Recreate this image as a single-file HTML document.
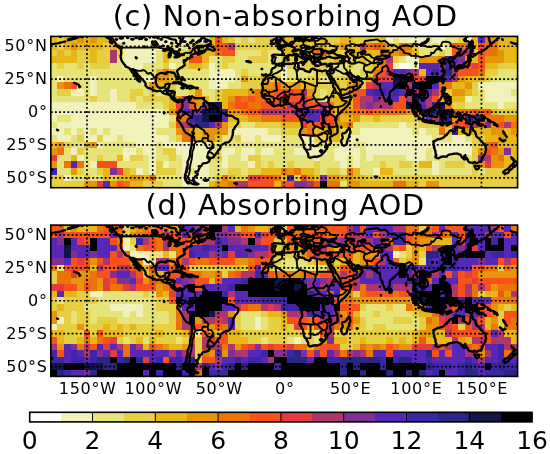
<!DOCTYPE html><html><head><meta charset="utf-8"><style>html,body{margin:0;padding:0;background:#fff;width:550px;height:454px;overflow:hidden}svg{display:block}</style></head><body><svg width="550" height="454" viewBox="0 0 550 454"><style>.lab{font-family:"DejaVu Sans","Liberation Sans",sans-serif;font-size:16px;fill:#000;letter-spacing:0.7px}.t{font-family:"DejaVu Sans","Liberation Sans",sans-serif;font-size:28.7px;fill:#000;letter-spacing:0.7px}.cb{font-family:"DejaVu Sans","Liberation Sans",sans-serif;font-size:25px;fill:#000}</style><text x="285.2" y="25.7" text-anchor="middle" class="t">(c) Non-absorbing AOD</text><clipPath id="c0"><rect x="0" y="0" width="355" height="115"/></clipPath><g transform="translate(50.8,36.4) scale(1.31493,1.31565)"><g clip-path="url(#c0)"><g shape-rendering="crispEdges"><rect x="0" y="0" width="5" height="5" fill="#e6b716"/><rect x="5" y="0" width="5" height="5" fill="#e6cf42"/><rect x="10" y="0" width="10" height="5" fill="#e6b716"/><rect x="20" y="0" width="5" height="5" fill="#e69509"/><rect x="25" y="0" width="5" height="5" fill="#e6b716"/><rect x="30" y="0" width="5" height="5" fill="#e69509"/><rect x="35" y="0" width="10" height="5" fill="#e6b716"/><rect x="45" y="0" width="5" height="5" fill="#e6cf42"/><rect x="50" y="0" width="55" height="5" fill="#f1f1bb"/><rect x="105" y="0" width="5" height="5" fill="#e6e379"/><rect x="110" y="0" width="10" height="5" fill="#f1f1bb"/><rect x="120" y="0" width="5" height="5" fill="#e6b716"/><rect x="125" y="0" width="5" height="5" fill="#f8511c"/><rect x="130" y="0" width="5" height="5" fill="#e6b716"/><rect x="135" y="0" width="5" height="5" fill="#e6cf42"/><rect x="140" y="0" width="5" height="5" fill="#e6e379"/><rect x="145" y="0" width="5" height="5" fill="#e6cf42"/><rect x="150" y="0" width="5" height="5" fill="#e6e379"/><rect x="155" y="0" width="15" height="5" fill="#e6cf42"/><rect x="170" y="0" width="15" height="5" fill="#e6b716"/><rect x="185" y="0" width="5" height="5" fill="#e6cf42"/><rect x="190" y="0" width="10" height="5" fill="#e6b716"/><rect x="200" y="0" width="5" height="5" fill="#e6cf42"/><rect x="205" y="0" width="5" height="5" fill="#e6b716"/><rect x="210" y="0" width="10" height="5" fill="#e6cf42"/><rect x="220" y="0" width="10" height="5" fill="#e6b716"/><rect x="230" y="0" width="20" height="5" fill="#e6cf42"/><rect x="250" y="0" width="5" height="5" fill="#e6b716"/><rect x="255" y="0" width="5" height="5" fill="#f1f1bb"/><rect x="260" y="0" width="5" height="5" fill="#e6e379"/><rect x="265" y="0" width="20" height="5" fill="#f1f1bb"/><rect x="285" y="0" width="5" height="5" fill="#e6e379"/><rect x="290" y="0" width="10" height="5" fill="#f1f1bb"/><rect x="300" y="0" width="10" height="5" fill="#e6e379"/><rect x="310" y="0" width="5" height="5" fill="#e6cf42"/><rect x="315" y="0" width="5" height="5" fill="#f1f1bb"/><rect x="320" y="0" width="5" height="5" fill="#e6b716"/><rect x="325" y="0" width="5" height="5" fill="#5728b7"/><rect x="330" y="0" width="5" height="5" fill="#eb7308"/><rect x="335" y="0" width="5" height="5" fill="#e69509"/><rect x="340" y="0" width="15" height="5" fill="#e6b716"/><rect x="0" y="5" width="5" height="5" fill="#e6b716"/><rect x="5" y="5" width="5" height="5" fill="#e6cf42"/><rect x="10" y="5" width="5" height="5" fill="#e6b716"/><rect x="15" y="5" width="5" height="5" fill="#e69509"/><rect x="20" y="5" width="20" height="5" fill="#e6b716"/><rect x="40" y="5" width="5" height="5" fill="#e6cf42"/><rect x="45" y="5" width="5" height="5" fill="#e6b716"/><rect x="50" y="5" width="5" height="5" fill="#e6cf42"/><rect x="55" y="5" width="35" height="5" fill="#f1f1bb"/><rect x="90" y="5" width="5" height="5" fill="#e6e379"/><rect x="95" y="5" width="5" height="5" fill="#f1f1bb"/><rect x="100" y="5" width="10" height="5" fill="#e6e379"/><rect x="110" y="5" width="10" height="5" fill="#e6cf42"/><rect x="120" y="5" width="5" height="5" fill="#e6b716"/><rect x="125" y="5" width="10" height="5" fill="#f8511c"/><rect x="135" y="5" width="5" height="5" fill="#ad366e"/><rect x="140" y="5" width="35" height="5" fill="#e6cf42"/><rect x="175" y="5" width="15" height="5" fill="#e6b716"/><rect x="190" y="5" width="10" height="5" fill="#e6cf42"/><rect x="200" y="5" width="10" height="5" fill="#e6b716"/><rect x="210" y="5" width="5" height="5" fill="#e6cf42"/><rect x="215" y="5" width="5" height="5" fill="#e6b716"/><rect x="220" y="5" width="5" height="5" fill="#e69509"/><rect x="225" y="5" width="10" height="5" fill="#e6b716"/><rect x="235" y="5" width="5" height="5" fill="#ad366e"/><rect x="240" y="5" width="5" height="5" fill="#eb7308"/><rect x="245" y="5" width="5" height="5" fill="#f8511c"/><rect x="250" y="5" width="5" height="5" fill="#eb7308"/><rect x="255" y="5" width="5" height="5" fill="#e6b716"/><rect x="260" y="5" width="5" height="5" fill="#e6cf42"/><rect x="265" y="5" width="10" height="5" fill="#eb7308"/><rect x="275" y="5" width="5" height="5" fill="#e6cf42"/><rect x="280" y="5" width="15" height="5" fill="#e6e379"/><rect x="295" y="5" width="5" height="5" fill="#f1f1bb"/><rect x="300" y="5" width="5" height="5" fill="#e6e379"/><rect x="305" y="5" width="5" height="5" fill="#f8511c"/><rect x="310" y="5" width="10" height="5" fill="#eb7308"/><rect x="320" y="5" width="5" height="5" fill="#e6b716"/><rect x="325" y="5" width="5" height="5" fill="#f8511c"/><rect x="330" y="5" width="10" height="5" fill="#eb7308"/><rect x="340" y="5" width="15" height="5" fill="#e6b716"/><rect x="0" y="10" width="5" height="5" fill="#e6cf42"/><rect x="5" y="10" width="5" height="5" fill="#e6b716"/><rect x="10" y="10" width="5" height="5" fill="#e6cf42"/><rect x="15" y="10" width="5" height="5" fill="#e6b716"/><rect x="20" y="10" width="10" height="5" fill="#e6cf42"/><rect x="30" y="10" width="5" height="5" fill="#e6b716"/><rect x="35" y="10" width="10" height="5" fill="#e6cf42"/><rect x="45" y="10" width="5" height="5" fill="#ad366e"/><rect x="50" y="10" width="5" height="5" fill="#e6cf42"/><rect x="55" y="10" width="25" height="5" fill="#f1f1bb"/><rect x="80" y="10" width="5" height="5" fill="#e6e379"/><rect x="85" y="10" width="5" height="5" fill="#e6b716"/><rect x="90" y="10" width="5" height="5" fill="#e6e379"/><rect x="95" y="10" width="10" height="5" fill="#e6cf42"/><rect x="105" y="10" width="5" height="5" fill="#e69509"/><rect x="110" y="10" width="5" height="5" fill="#eb7308"/><rect x="115" y="10" width="10" height="5" fill="#e6b716"/><rect x="125" y="10" width="5" height="5" fill="#eb7308"/><rect x="130" y="10" width="10" height="5" fill="#f8511c"/><rect x="140" y="10" width="20" height="5" fill="#e6e379"/><rect x="160" y="10" width="5" height="5" fill="#e6cf42"/><rect x="165" y="10" width="10" height="5" fill="#e6e379"/><rect x="175" y="10" width="10" height="5" fill="#e6b716"/><rect x="185" y="10" width="15" height="5" fill="#e6cf42"/><rect x="200" y="10" width="5" height="5" fill="#eb7308"/><rect x="205" y="10" width="5" height="5" fill="#f8511c"/><rect x="210" y="10" width="15" height="5" fill="#e6cf42"/><rect x="225" y="10" width="10" height="5" fill="#e6b716"/><rect x="235" y="10" width="5" height="5" fill="#e69509"/><rect x="240" y="10" width="10" height="5" fill="#e6b716"/><rect x="250" y="10" width="5" height="5" fill="#eb7308"/><rect x="255" y="10" width="10" height="5" fill="#e69509"/><rect x="265" y="10" width="5" height="5" fill="#eb7308"/><rect x="270" y="10" width="5" height="5" fill="#e69509"/><rect x="275" y="10" width="5" height="5" fill="#e6b716"/><rect x="280" y="10" width="15" height="5" fill="#e6e379"/><rect x="295" y="10" width="5" height="5" fill="#e6cf42"/><rect x="300" y="10" width="5" height="5" fill="#e6e379"/><rect x="305" y="10" width="5" height="5" fill="#f8511c"/><rect x="310" y="10" width="10" height="5" fill="#ad366e"/><rect x="320" y="10" width="5" height="5" fill="#e6cf42"/><rect x="325" y="10" width="5" height="5" fill="#f8511c"/><rect x="330" y="10" width="10" height="5" fill="#eb7308"/><rect x="340" y="10" width="5" height="5" fill="#e69509"/><rect x="345" y="10" width="10" height="5" fill="#e6b716"/><rect x="0" y="15" width="20" height="5" fill="#e6b716"/><rect x="20" y="15" width="10" height="5" fill="#e6cf42"/><rect x="30" y="15" width="5" height="5" fill="#e6b716"/><rect x="35" y="15" width="10" height="5" fill="#e6cf42"/><rect x="45" y="15" width="5" height="5" fill="#ad366e"/><rect x="50" y="15" width="5" height="5" fill="#e6e379"/><rect x="55" y="15" width="25" height="5" fill="#f1f1bb"/><rect x="80" y="15" width="5" height="5" fill="#e6e379"/><rect x="85" y="15" width="5" height="5" fill="#e6b716"/><rect x="90" y="15" width="10" height="5" fill="#e6e379"/><rect x="100" y="15" width="5" height="5" fill="#e6cf42"/><rect x="105" y="15" width="10" height="5" fill="#f8511c"/><rect x="115" y="15" width="5" height="5" fill="#e6b716"/><rect x="120" y="15" width="10" height="5" fill="#e6e379"/><rect x="130" y="15" width="10" height="5" fill="#e6cf42"/><rect x="140" y="15" width="10" height="5" fill="#e6e379"/><rect x="150" y="15" width="15" height="5" fill="#e6cf42"/><rect x="165" y="15" width="10" height="5" fill="#e6e379"/><rect x="175" y="15" width="15" height="5" fill="#e6cf42"/><rect x="190" y="15" width="5" height="5" fill="#e6e379"/><rect x="195" y="15" width="20" height="5" fill="#e6cf42"/><rect x="215" y="15" width="5" height="5" fill="#e6b716"/><rect x="220" y="15" width="15" height="5" fill="#e6cf42"/><rect x="235" y="15" width="5" height="5" fill="#e6b716"/><rect x="240" y="15" width="10" height="5" fill="#e6cf42"/><rect x="250" y="15" width="5" height="5" fill="#eb7308"/><rect x="255" y="15" width="5" height="5" fill="#ad366e"/><rect x="260" y="15" width="5" height="5" fill="#e6cf42"/><rect x="265" y="15" width="5" height="5" fill="#e6e379"/><rect x="270" y="15" width="10" height="5" fill="#f1f1bb"/><rect x="280" y="15" width="15" height="5" fill="#e69509"/><rect x="295" y="15" width="5" height="5" fill="#eb7308"/><rect x="300" y="15" width="5" height="5" fill="#3d26a6"/><rect x="305" y="15" width="5" height="5" fill="#5728b7"/><rect x="310" y="15" width="5" height="5" fill="#802f95"/><rect x="315" y="15" width="5" height="5" fill="#e69509"/><rect x="320" y="15" width="5" height="5" fill="#e6b716"/><rect x="325" y="15" width="5" height="5" fill="#f8511c"/><rect x="330" y="15" width="15" height="5" fill="#e69509"/><rect x="345" y="15" width="10" height="5" fill="#e6b716"/><rect x="0" y="20" width="5" height="5" fill="#e6e379"/><rect x="5" y="20" width="5" height="5" fill="#e6cf42"/><rect x="10" y="20" width="10" height="5" fill="#e6e379"/><rect x="20" y="20" width="5" height="5" fill="#e6cf42"/><rect x="25" y="20" width="5" height="5" fill="#e6e379"/><rect x="30" y="20" width="15" height="5" fill="#e6cf42"/><rect x="45" y="20" width="10" height="5" fill="#e6e379"/><rect x="55" y="20" width="15" height="5" fill="#f1f1bb"/><rect x="70" y="20" width="15" height="5" fill="#e6e379"/><rect x="85" y="20" width="5" height="5" fill="#e6cf42"/><rect x="90" y="20" width="5" height="5" fill="#f1f1bb"/><rect x="95" y="20" width="5" height="5" fill="#e6e379"/><rect x="100" y="20" width="5" height="5" fill="#e6cf42"/><rect x="105" y="20" width="10" height="5" fill="#e6b716"/><rect x="115" y="20" width="5" height="5" fill="#e6cf42"/><rect x="120" y="20" width="5" height="5" fill="#f1f1bb"/><rect x="125" y="20" width="5" height="5" fill="#e6e379"/><rect x="130" y="20" width="5" height="5" fill="#e6cf42"/><rect x="135" y="20" width="40" height="5" fill="#e6e379"/><rect x="175" y="20" width="5" height="5" fill="#f1f1bb"/><rect x="180" y="20" width="5" height="5" fill="#e6cf42"/><rect x="185" y="20" width="5" height="5" fill="#e6e379"/><rect x="190" y="20" width="25" height="5" fill="#e6cf42"/><rect x="215" y="20" width="10" height="5" fill="#e6e379"/><rect x="225" y="20" width="5" height="5" fill="#e6cf42"/><rect x="230" y="20" width="10" height="5" fill="#e6e379"/><rect x="240" y="20" width="5" height="5" fill="#e6cf42"/><rect x="245" y="20" width="5" height="5" fill="#e6b716"/><rect x="250" y="20" width="5" height="5" fill="#eb7308"/><rect x="255" y="20" width="5" height="5" fill="#e43c3e"/><rect x="260" y="20" width="5" height="5" fill="#f1f1bb"/><rect x="265" y="20" width="10" height="5" fill="#ffffff"/><rect x="275" y="20" width="5" height="5" fill="#f1f1bb"/><rect x="280" y="20" width="15" height="5" fill="#5728b7"/><rect x="295" y="20" width="5" height="5" fill="#ad366e"/><rect x="300" y="20" width="5" height="5" fill="#3d26a6"/><rect x="305" y="20" width="5" height="5" fill="#802f95"/><rect x="310" y="20" width="5" height="5" fill="#ad366e"/><rect x="315" y="20" width="5" height="5" fill="#f8511c"/><rect x="320" y="20" width="5" height="5" fill="#e43c3e"/><rect x="325" y="20" width="5" height="5" fill="#f8511c"/><rect x="330" y="20" width="10" height="5" fill="#e6b716"/><rect x="340" y="20" width="15" height="5" fill="#e6cf42"/><rect x="0" y="25" width="80" height="5" fill="#e6e379"/><rect x="80" y="25" width="5" height="5" fill="#e6b716"/><rect x="85" y="25" width="5" height="5" fill="#eb7308"/><rect x="90" y="25" width="5" height="5" fill="#e6b716"/><rect x="95" y="25" width="25" height="5" fill="#e6e379"/><rect x="120" y="25" width="20" height="5" fill="#f1f1bb"/><rect x="140" y="25" width="5" height="5" fill="#e6e379"/><rect x="145" y="25" width="5" height="5" fill="#e6cf42"/><rect x="150" y="25" width="25" height="5" fill="#e6e379"/><rect x="175" y="25" width="5" height="5" fill="#f1f1bb"/><rect x="180" y="25" width="20" height="5" fill="#e6e379"/><rect x="200" y="25" width="15" height="5" fill="#e6cf42"/><rect x="215" y="25" width="20" height="5" fill="#e6e379"/><rect x="235" y="25" width="10" height="5" fill="#e6cf42"/><rect x="245" y="25" width="5" height="5" fill="#eb7308"/><rect x="250" y="25" width="5" height="5" fill="#f8511c"/><rect x="255" y="25" width="5" height="5" fill="#ad366e"/><rect x="260" y="25" width="10" height="5" fill="#5728b7"/><rect x="270" y="25" width="5" height="5" fill="#802f95"/><rect x="275" y="25" width="5" height="5" fill="#ad366e"/><rect x="280" y="25" width="5" height="5" fill="#e6b716"/><rect x="285" y="25" width="5" height="5" fill="#5728b7"/><rect x="290" y="25" width="5" height="5" fill="#3d26a6"/><rect x="295" y="25" width="5" height="5" fill="#5728b7"/><rect x="300" y="25" width="5" height="5" fill="#292684"/><rect x="305" y="25" width="5" height="5" fill="#ad366e"/><rect x="310" y="25" width="15" height="5" fill="#f8511c"/><rect x="325" y="25" width="5" height="5" fill="#eb7308"/><rect x="330" y="25" width="10" height="5" fill="#e6cf42"/><rect x="340" y="25" width="15" height="5" fill="#e6e379"/><rect x="0" y="30" width="5" height="5" fill="#e6e379"/><rect x="5" y="30" width="5" height="5" fill="#f1f1bb"/><rect x="10" y="30" width="20" height="5" fill="#e6e379"/><rect x="30" y="30" width="5" height="5" fill="#f1f1bb"/><rect x="35" y="30" width="35" height="5" fill="#e6e379"/><rect x="70" y="30" width="10" height="5" fill="#f1f1bb"/><rect x="80" y="30" width="10" height="5" fill="#e69509"/><rect x="90" y="30" width="5" height="5" fill="#e6b716"/><rect x="95" y="30" width="5" height="5" fill="#e6cf42"/><rect x="100" y="30" width="20" height="5" fill="#e6e379"/><rect x="120" y="30" width="20" height="5" fill="#f1f1bb"/><rect x="140" y="30" width="5" height="5" fill="#e6e379"/><rect x="145" y="30" width="5" height="5" fill="#e69509"/><rect x="150" y="30" width="10" height="5" fill="#e6cf42"/><rect x="160" y="30" width="5" height="5" fill="#e6b716"/><rect x="165" y="30" width="10" height="5" fill="#e6cf42"/><rect x="175" y="30" width="5" height="5" fill="#f1f1bb"/><rect x="180" y="30" width="15" height="5" fill="#e6e379"/><rect x="195" y="30" width="10" height="5" fill="#e6cf42"/><rect x="205" y="30" width="10" height="5" fill="#e6e379"/><rect x="215" y="30" width="10" height="5" fill="#e6cf42"/><rect x="225" y="30" width="5" height="5" fill="#e6b716"/><rect x="230" y="30" width="5" height="5" fill="#e6cf42"/><rect x="235" y="30" width="5" height="5" fill="#e6e379"/><rect x="240" y="30" width="5" height="5" fill="#e6b716"/><rect x="245" y="30" width="5" height="5" fill="#f8511c"/><rect x="250" y="30" width="10" height="5" fill="#e43c3e"/><rect x="260" y="30" width="10" height="5" fill="#141444"/><rect x="270" y="30" width="5" height="5" fill="#000000"/><rect x="275" y="30" width="5" height="5" fill="#f8511c"/><rect x="280" y="30" width="5" height="5" fill="#e43c3e"/><rect x="285" y="30" width="10" height="5" fill="#000000"/><rect x="295" y="30" width="5" height="5" fill="#141444"/><rect x="300" y="30" width="5" height="5" fill="#5728b7"/><rect x="305" y="30" width="5" height="5" fill="#ad366e"/><rect x="310" y="30" width="5" height="5" fill="#e69509"/><rect x="315" y="30" width="15" height="5" fill="#e6b716"/><rect x="330" y="30" width="5" height="5" fill="#e6cf42"/><rect x="335" y="30" width="20" height="5" fill="#e6e379"/><rect x="0" y="35" width="5" height="5" fill="#e6e379"/><rect x="5" y="35" width="5" height="5" fill="#e69509"/><rect x="10" y="35" width="5" height="5" fill="#eb7308"/><rect x="15" y="35" width="5" height="5" fill="#f8511c"/><rect x="20" y="35" width="10" height="5" fill="#e6e379"/><rect x="30" y="35" width="5" height="5" fill="#f1f1bb"/><rect x="35" y="35" width="40" height="5" fill="#e6e379"/><rect x="75" y="35" width="5" height="5" fill="#e69509"/><rect x="80" y="35" width="10" height="5" fill="#e6b716"/><rect x="90" y="35" width="5" height="5" fill="#e6cf42"/><rect x="95" y="35" width="25" height="5" fill="#e6e379"/><rect x="120" y="35" width="15" height="5" fill="#f1f1bb"/><rect x="135" y="35" width="10" height="5" fill="#e6e379"/><rect x="145" y="35" width="15" height="5" fill="#e6cf42"/><rect x="160" y="35" width="10" height="5" fill="#e69509"/><rect x="170" y="35" width="5" height="5" fill="#eb7308"/><rect x="175" y="35" width="5" height="5" fill="#e69509"/><rect x="180" y="35" width="5" height="5" fill="#e6b716"/><rect x="185" y="35" width="5" height="5" fill="#e69509"/><rect x="190" y="35" width="10" height="5" fill="#e6b716"/><rect x="200" y="35" width="15" height="5" fill="#e6cf42"/><rect x="215" y="35" width="5" height="5" fill="#e6b716"/><rect x="220" y="35" width="5" height="5" fill="#e6cf42"/><rect x="225" y="35" width="5" height="5" fill="#e69509"/><rect x="230" y="35" width="5" height="5" fill="#eb7308"/><rect x="235" y="35" width="5" height="5" fill="#e6cf42"/><rect x="240" y="35" width="5" height="5" fill="#e43c3e"/><rect x="245" y="35" width="5" height="5" fill="#ad366e"/><rect x="250" y="35" width="10" height="5" fill="#5728b7"/><rect x="260" y="35" width="5" height="5" fill="#141444"/><rect x="265" y="35" width="5" height="5" fill="#000000"/><rect x="270" y="35" width="5" height="5" fill="#ad366e"/><rect x="275" y="35" width="5" height="5" fill="#141444"/><rect x="280" y="35" width="10" height="5" fill="#000000"/><rect x="290" y="35" width="5" height="5" fill="#5728b7"/><rect x="295" y="35" width="10" height="5" fill="#eb7308"/><rect x="305" y="35" width="10" height="5" fill="#e6b716"/><rect x="315" y="35" width="5" height="5" fill="#e69509"/><rect x="320" y="35" width="5" height="5" fill="#e6cf42"/><rect x="325" y="35" width="30" height="5" fill="#f1f1bb"/><rect x="0" y="40" width="5" height="5" fill="#e6e379"/><rect x="5" y="40" width="10" height="5" fill="#e6cf42"/><rect x="15" y="40" width="10" height="5" fill="#f1f1bb"/><rect x="25" y="40" width="5" height="5" fill="#e6e379"/><rect x="30" y="40" width="5" height="5" fill="#f1f1bb"/><rect x="35" y="40" width="10" height="5" fill="#e6e379"/><rect x="45" y="40" width="5" height="5" fill="#f1f1bb"/><rect x="50" y="40" width="10" height="5" fill="#e6e379"/><rect x="60" y="40" width="10" height="5" fill="#e6cf42"/><rect x="70" y="40" width="5" height="5" fill="#e6e379"/><rect x="75" y="40" width="5" height="5" fill="#e6cf42"/><rect x="80" y="40" width="10" height="5" fill="#e6e379"/><rect x="90" y="40" width="5" height="5" fill="#e6b716"/><rect x="95" y="40" width="10" height="5" fill="#e6e379"/><rect x="105" y="40" width="5" height="5" fill="#e6cf42"/><rect x="110" y="40" width="5" height="5" fill="#e69509"/><rect x="115" y="40" width="10" height="5" fill="#e6e379"/><rect x="125" y="40" width="5" height="5" fill="#e6cf42"/><rect x="130" y="40" width="20" height="5" fill="#e6b716"/><rect x="150" y="40" width="5" height="5" fill="#e69509"/><rect x="155" y="40" width="15" height="5" fill="#eb7308"/><rect x="170" y="40" width="10" height="5" fill="#f8511c"/><rect x="180" y="40" width="5" height="5" fill="#e43c3e"/><rect x="185" y="40" width="5" height="5" fill="#f8511c"/><rect x="190" y="40" width="5" height="5" fill="#ad366e"/><rect x="195" y="40" width="5" height="5" fill="#e69509"/><rect x="200" y="40" width="5" height="5" fill="#e6cf42"/><rect x="205" y="40" width="5" height="5" fill="#e6e379"/><rect x="210" y="40" width="10" height="5" fill="#e6cf42"/><rect x="220" y="40" width="5" height="5" fill="#e6b716"/><rect x="225" y="40" width="5" height="5" fill="#e69509"/><rect x="230" y="40" width="10" height="5" fill="#f8511c"/><rect x="240" y="40" width="5" height="5" fill="#5728b7"/><rect x="245" y="40" width="10" height="5" fill="#3d26a6"/><rect x="255" y="40" width="5" height="5" fill="#5728b7"/><rect x="260" y="40" width="5" height="5" fill="#3d26a6"/><rect x="265" y="40" width="5" height="5" fill="#5728b7"/><rect x="270" y="40" width="5" height="5" fill="#000000"/><rect x="275" y="40" width="5" height="5" fill="#ad366e"/><rect x="280" y="40" width="5" height="5" fill="#000000"/><rect x="285" y="40" width="5" height="5" fill="#5728b7"/><rect x="290" y="40" width="5" height="5" fill="#ad366e"/><rect x="295" y="40" width="5" height="5" fill="#eb7308"/><rect x="300" y="40" width="5" height="5" fill="#e6cf42"/><rect x="305" y="40" width="10" height="5" fill="#e69509"/><rect x="315" y="40" width="5" height="5" fill="#e6b716"/><rect x="320" y="40" width="5" height="5" fill="#e6cf42"/><rect x="325" y="40" width="5" height="5" fill="#e6e379"/><rect x="330" y="40" width="20" height="5" fill="#f1f1bb"/><rect x="350" y="40" width="5" height="5" fill="#e6e379"/><rect x="0" y="45" width="30" height="5" fill="#e6e379"/><rect x="30" y="45" width="5" height="5" fill="#e6cf42"/><rect x="35" y="45" width="10" height="5" fill="#e6e379"/><rect x="45" y="45" width="5" height="5" fill="#f1f1bb"/><rect x="50" y="45" width="10" height="5" fill="#e6e379"/><rect x="60" y="45" width="5" height="5" fill="#e6cf42"/><rect x="65" y="45" width="5" height="5" fill="#e6e379"/><rect x="70" y="45" width="20" height="5" fill="#e6cf42"/><rect x="90" y="45" width="5" height="5" fill="#e6b716"/><rect x="95" y="45" width="5" height="5" fill="#e69509"/><rect x="100" y="45" width="5" height="5" fill="#ad366e"/><rect x="105" y="45" width="5" height="5" fill="#eb7308"/><rect x="110" y="45" width="5" height="5" fill="#e69509"/><rect x="115" y="45" width="5" height="5" fill="#e6b716"/><rect x="120" y="45" width="5" height="5" fill="#e6e379"/><rect x="125" y="45" width="5" height="5" fill="#e6cf42"/><rect x="130" y="45" width="5" height="5" fill="#e6b716"/><rect x="135" y="45" width="5" height="5" fill="#e69509"/><rect x="140" y="45" width="5" height="5" fill="#f8511c"/><rect x="145" y="45" width="5" height="5" fill="#eb7308"/><rect x="150" y="45" width="5" height="5" fill="#f8511c"/><rect x="155" y="45" width="15" height="5" fill="#eb7308"/><rect x="170" y="45" width="20" height="5" fill="#f8511c"/><rect x="190" y="45" width="5" height="5" fill="#e43c3e"/><rect x="195" y="45" width="5" height="5" fill="#eb7308"/><rect x="200" y="45" width="5" height="5" fill="#e6cf42"/><rect x="205" y="45" width="5" height="5" fill="#e6e379"/><rect x="210" y="45" width="20" height="5" fill="#e6b716"/><rect x="230" y="45" width="5" height="5" fill="#f8511c"/><rect x="235" y="45" width="10" height="5" fill="#ad366e"/><rect x="245" y="45" width="5" height="5" fill="#5728b7"/><rect x="250" y="45" width="5" height="5" fill="#ad366e"/><rect x="255" y="45" width="10" height="5" fill="#5728b7"/><rect x="265" y="45" width="5" height="5" fill="#f8511c"/><rect x="270" y="45" width="5" height="5" fill="#ad366e"/><rect x="275" y="45" width="5" height="5" fill="#141444"/><rect x="280" y="45" width="5" height="5" fill="#5728b7"/><rect x="285" y="45" width="5" height="5" fill="#ad366e"/><rect x="290" y="45" width="5" height="5" fill="#f8511c"/><rect x="295" y="45" width="5" height="5" fill="#e6b716"/><rect x="300" y="45" width="5" height="5" fill="#292684"/><rect x="305" y="45" width="10" height="5" fill="#e6b716"/><rect x="315" y="45" width="5" height="5" fill="#f1f1bb"/><rect x="320" y="45" width="10" height="5" fill="#e6e379"/><rect x="330" y="45" width="25" height="5" fill="#f1f1bb"/><rect x="0" y="50" width="65" height="5" fill="#f1f1bb"/><rect x="65" y="50" width="20" height="5" fill="#e6e379"/><rect x="85" y="50" width="5" height="5" fill="#e6cf42"/><rect x="90" y="50" width="5" height="5" fill="#e6b716"/><rect x="95" y="50" width="5" height="5" fill="#e43c3e"/><rect x="100" y="50" width="5" height="5" fill="#802f95"/><rect x="105" y="50" width="5" height="5" fill="#f8511c"/><rect x="110" y="50" width="5" height="5" fill="#e69509"/><rect x="115" y="50" width="5" height="5" fill="#802f95"/><rect x="120" y="50" width="10" height="5" fill="#141444"/><rect x="130" y="50" width="5" height="5" fill="#e6b716"/><rect x="135" y="50" width="5" height="5" fill="#eb7308"/><rect x="140" y="50" width="10" height="5" fill="#f8511c"/><rect x="150" y="50" width="10" height="5" fill="#eb7308"/><rect x="160" y="50" width="20" height="5" fill="#f8511c"/><rect x="180" y="50" width="5" height="5" fill="#ad366e"/><rect x="185" y="50" width="5" height="5" fill="#e43c3e"/><rect x="190" y="50" width="5" height="5" fill="#ad366e"/><rect x="195" y="50" width="10" height="5" fill="#f8511c"/><rect x="205" y="50" width="5" height="5" fill="#ad366e"/><rect x="210" y="50" width="5" height="5" fill="#eb7308"/><rect x="215" y="50" width="15" height="5" fill="#e6b716"/><rect x="230" y="50" width="5" height="5" fill="#f8511c"/><rect x="235" y="50" width="5" height="5" fill="#ad366e"/><rect x="240" y="50" width="5" height="5" fill="#802f95"/><rect x="245" y="50" width="15" height="5" fill="#ad366e"/><rect x="260" y="50" width="10" height="5" fill="#f8511c"/><rect x="270" y="50" width="5" height="5" fill="#141444"/><rect x="275" y="50" width="5" height="5" fill="#000000"/><rect x="280" y="50" width="5" height="5" fill="#5728b7"/><rect x="285" y="50" width="5" height="5" fill="#ad366e"/><rect x="290" y="50" width="5" height="5" fill="#292684"/><rect x="295" y="50" width="5" height="5" fill="#141444"/><rect x="300" y="50" width="5" height="5" fill="#eb7308"/><rect x="305" y="50" width="10" height="5" fill="#e6cf42"/><rect x="315" y="50" width="25" height="5" fill="#e6e379"/><rect x="340" y="50" width="5" height="5" fill="#f1f1bb"/><rect x="345" y="50" width="10" height="5" fill="#e6e379"/><rect x="0" y="55" width="85" height="5" fill="#f1f1bb"/><rect x="85" y="55" width="5" height="5" fill="#e6e379"/><rect x="90" y="55" width="5" height="5" fill="#e69509"/><rect x="95" y="55" width="5" height="5" fill="#f8511c"/><rect x="100" y="55" width="10" height="5" fill="#5728b7"/><rect x="110" y="55" width="5" height="5" fill="#802f95"/><rect x="115" y="55" width="15" height="5" fill="#141444"/><rect x="130" y="55" width="5" height="5" fill="#3d26a6"/><rect x="135" y="55" width="10" height="5" fill="#e69509"/><rect x="145" y="55" width="5" height="5" fill="#eb7308"/><rect x="150" y="55" width="10" height="5" fill="#f8511c"/><rect x="160" y="55" width="20" height="5" fill="#ad366e"/><rect x="180" y="55" width="5" height="5" fill="#e43c3e"/><rect x="185" y="55" width="5" height="5" fill="#802f95"/><rect x="190" y="55" width="5" height="5" fill="#5728b7"/><rect x="195" y="55" width="5" height="5" fill="#3d26a6"/><rect x="200" y="55" width="10" height="5" fill="#5728b7"/><rect x="210" y="55" width="5" height="5" fill="#f8511c"/><rect x="215" y="55" width="5" height="5" fill="#e6b716"/><rect x="220" y="55" width="10" height="5" fill="#e69509"/><rect x="230" y="55" width="10" height="5" fill="#eb7308"/><rect x="240" y="55" width="5" height="5" fill="#f8511c"/><rect x="245" y="55" width="25" height="5" fill="#eb7308"/><rect x="270" y="55" width="10" height="5" fill="#e69509"/><rect x="280" y="55" width="10" height="5" fill="#141444"/><rect x="290" y="55" width="15" height="5" fill="#292684"/><rect x="305" y="55" width="15" height="5" fill="#eb7308"/><rect x="320" y="55" width="5" height="5" fill="#f8511c"/><rect x="325" y="55" width="5" height="5" fill="#eb7308"/><rect x="330" y="55" width="5" height="5" fill="#f8511c"/><rect x="335" y="55" width="5" height="5" fill="#e6b716"/><rect x="340" y="55" width="15" height="5" fill="#e6cf42"/><rect x="0" y="60" width="5" height="5" fill="#f1f1bb"/><rect x="5" y="60" width="10" height="5" fill="#e6e379"/><rect x="15" y="60" width="75" height="5" fill="#f1f1bb"/><rect x="90" y="60" width="5" height="5" fill="#e6e379"/><rect x="95" y="60" width="10" height="5" fill="#eb7308"/><rect x="105" y="60" width="5" height="5" fill="#3d26a6"/><rect x="110" y="60" width="5" height="5" fill="#292684"/><rect x="115" y="60" width="5" height="5" fill="#141444"/><rect x="120" y="60" width="10" height="5" fill="#000000"/><rect x="130" y="60" width="5" height="5" fill="#5728b7"/><rect x="135" y="60" width="15" height="5" fill="#e6b716"/><rect x="150" y="60" width="10" height="5" fill="#e69509"/><rect x="160" y="60" width="15" height="5" fill="#eb7308"/><rect x="175" y="60" width="15" height="5" fill="#f8511c"/><rect x="190" y="60" width="5" height="5" fill="#ad366e"/><rect x="195" y="60" width="10" height="5" fill="#5728b7"/><rect x="205" y="60" width="5" height="5" fill="#e43c3e"/><rect x="210" y="60" width="5" height="5" fill="#f8511c"/><rect x="215" y="60" width="5" height="5" fill="#eb7308"/><rect x="220" y="60" width="10" height="5" fill="#e6b716"/><rect x="230" y="60" width="5" height="5" fill="#e69509"/><rect x="235" y="60" width="10" height="5" fill="#e6cf42"/><rect x="245" y="60" width="5" height="5" fill="#e6b716"/><rect x="250" y="60" width="30" height="5" fill="#e6cf42"/><rect x="280" y="60" width="5" height="5" fill="#e6b716"/><rect x="285" y="60" width="5" height="5" fill="#5728b7"/><rect x="290" y="60" width="5" height="5" fill="#ad366e"/><rect x="295" y="60" width="10" height="5" fill="#292684"/><rect x="305" y="60" width="5" height="5" fill="#e69509"/><rect x="310" y="60" width="5" height="5" fill="#f8511c"/><rect x="315" y="60" width="15" height="5" fill="#292684"/><rect x="330" y="60" width="15" height="5" fill="#eb7308"/><rect x="345" y="60" width="10" height="5" fill="#e69509"/><rect x="0" y="65" width="5" height="5" fill="#e6e379"/><rect x="5" y="65" width="85" height="5" fill="#f1f1bb"/><rect x="90" y="65" width="5" height="5" fill="#e6cf42"/><rect x="95" y="65" width="5" height="5" fill="#f8511c"/><rect x="100" y="65" width="5" height="5" fill="#ad366e"/><rect x="105" y="65" width="5" height="5" fill="#5728b7"/><rect x="110" y="65" width="10" height="5" fill="#292684"/><rect x="120" y="65" width="5" height="5" fill="#5728b7"/><rect x="125" y="65" width="5" height="5" fill="#ad366e"/><rect x="130" y="65" width="5" height="5" fill="#e69509"/><rect x="135" y="65" width="10" height="5" fill="#e6cf42"/><rect x="145" y="65" width="10" height="5" fill="#e6e379"/><rect x="155" y="65" width="20" height="5" fill="#e6cf42"/><rect x="175" y="65" width="15" height="5" fill="#e6b716"/><rect x="190" y="65" width="5" height="5" fill="#e43c3e"/><rect x="195" y="65" width="5" height="5" fill="#eb7308"/><rect x="200" y="65" width="10" height="5" fill="#f8511c"/><rect x="210" y="65" width="5" height="5" fill="#e43c3e"/><rect x="215" y="65" width="10" height="5" fill="#e69509"/><rect x="225" y="65" width="5" height="5" fill="#eb7308"/><rect x="230" y="65" width="35" height="5" fill="#e6e379"/><rect x="265" y="65" width="5" height="5" fill="#f1f1bb"/><rect x="270" y="65" width="10" height="5" fill="#e6e379"/><rect x="280" y="65" width="15" height="5" fill="#e6cf42"/><rect x="295" y="65" width="5" height="5" fill="#e69509"/><rect x="300" y="65" width="5" height="5" fill="#e6b716"/><rect x="305" y="65" width="10" height="5" fill="#f8511c"/><rect x="315" y="65" width="5" height="5" fill="#e43c3e"/><rect x="320" y="65" width="5" height="5" fill="#ad366e"/><rect x="325" y="65" width="5" height="5" fill="#eb7308"/><rect x="330" y="65" width="5" height="5" fill="#802f95"/><rect x="335" y="65" width="5" height="5" fill="#e69509"/><rect x="340" y="65" width="5" height="5" fill="#f8511c"/><rect x="345" y="65" width="5" height="5" fill="#ad366e"/><rect x="350" y="65" width="5" height="5" fill="#eb7308"/><rect x="0" y="70" width="10" height="5" fill="#f1f1bb"/><rect x="10" y="70" width="5" height="5" fill="#e6e379"/><rect x="15" y="70" width="5" height="5" fill="#f1f1bb"/><rect x="20" y="70" width="5" height="5" fill="#e6e379"/><rect x="25" y="70" width="5" height="5" fill="#f1f1bb"/><rect x="30" y="70" width="5" height="5" fill="#e6e379"/><rect x="35" y="70" width="5" height="5" fill="#f1f1bb"/><rect x="40" y="70" width="5" height="5" fill="#e6e379"/><rect x="45" y="70" width="35" height="5" fill="#f1f1bb"/><rect x="80" y="70" width="15" height="5" fill="#e6e379"/><rect x="95" y="70" width="5" height="5" fill="#e69509"/><rect x="100" y="70" width="5" height="5" fill="#eb7308"/><rect x="105" y="70" width="5" height="5" fill="#e69509"/><rect x="110" y="70" width="5" height="5" fill="#e6b716"/><rect x="115" y="70" width="20" height="5" fill="#e69509"/><rect x="135" y="70" width="5" height="5" fill="#e6e379"/><rect x="140" y="70" width="25" height="5" fill="#f1f1bb"/><rect x="165" y="70" width="10" height="5" fill="#e6e379"/><rect x="175" y="70" width="15" height="5" fill="#e6cf42"/><rect x="190" y="70" width="5" height="5" fill="#e69509"/><rect x="195" y="70" width="5" height="5" fill="#eb7308"/><rect x="200" y="70" width="10" height="5" fill="#e6b716"/><rect x="210" y="70" width="5" height="5" fill="#e69509"/><rect x="215" y="70" width="5" height="5" fill="#e6b716"/><rect x="220" y="70" width="5" height="5" fill="#e6cf42"/><rect x="225" y="70" width="10" height="5" fill="#e6e379"/><rect x="235" y="70" width="40" height="5" fill="#f1f1bb"/><rect x="275" y="70" width="5" height="5" fill="#e6e379"/><rect x="280" y="70" width="5" height="5" fill="#f1f1bb"/><rect x="285" y="70" width="10" height="5" fill="#e6e379"/><rect x="295" y="70" width="5" height="5" fill="#eb7308"/><rect x="300" y="70" width="5" height="5" fill="#e6cf42"/><rect x="305" y="70" width="5" height="5" fill="#292684"/><rect x="310" y="70" width="5" height="5" fill="#e6b716"/><rect x="315" y="70" width="5" height="5" fill="#e69509"/><rect x="320" y="70" width="15" height="5" fill="#e6b716"/><rect x="335" y="70" width="10" height="5" fill="#e69509"/><rect x="345" y="70" width="5" height="5" fill="#e6b716"/><rect x="350" y="70" width="5" height="5" fill="#e69509"/><rect x="0" y="75" width="5" height="5" fill="#e6e379"/><rect x="5" y="75" width="10" height="5" fill="#f1f1bb"/><rect x="15" y="75" width="5" height="5" fill="#e6e379"/><rect x="20" y="75" width="5" height="5" fill="#e6cf42"/><rect x="25" y="75" width="10" height="5" fill="#f1f1bb"/><rect x="35" y="75" width="5" height="5" fill="#e6cf42"/><rect x="40" y="75" width="10" height="5" fill="#f1f1bb"/><rect x="50" y="75" width="5" height="5" fill="#e6e379"/><rect x="55" y="75" width="35" height="5" fill="#f1f1bb"/><rect x="90" y="75" width="5" height="5" fill="#e6e379"/><rect x="95" y="75" width="5" height="5" fill="#e6cf42"/><rect x="100" y="75" width="10" height="5" fill="#eb7308"/><rect x="110" y="75" width="5" height="5" fill="#e6b716"/><rect x="115" y="75" width="10" height="5" fill="#e69509"/><rect x="125" y="75" width="5" height="5" fill="#e6b716"/><rect x="130" y="75" width="10" height="5" fill="#e6e379"/><rect x="140" y="75" width="5" height="5" fill="#e6cf42"/><rect x="145" y="75" width="10" height="5" fill="#f1f1bb"/><rect x="155" y="75" width="5" height="5" fill="#e6e379"/><rect x="160" y="75" width="15" height="5" fill="#f1f1bb"/><rect x="175" y="75" width="15" height="5" fill="#e6e379"/><rect x="190" y="75" width="10" height="5" fill="#f1f1bb"/><rect x="200" y="75" width="10" height="5" fill="#e6cf42"/><rect x="210" y="75" width="10" height="5" fill="#e6b716"/><rect x="220" y="75" width="5" height="5" fill="#e6e379"/><rect x="225" y="75" width="65" height="5" fill="#f1f1bb"/><rect x="290" y="75" width="15" height="5" fill="#e6e379"/><rect x="305" y="75" width="10" height="5" fill="#f1f1bb"/><rect x="315" y="75" width="5" height="5" fill="#e6e379"/><rect x="320" y="75" width="10" height="5" fill="#e6cf42"/><rect x="330" y="75" width="10" height="5" fill="#e6b716"/><rect x="340" y="75" width="5" height="5" fill="#e69509"/><rect x="345" y="75" width="10" height="5" fill="#e6b716"/><rect x="0" y="80" width="5" height="5" fill="#e6b716"/><rect x="5" y="80" width="5" height="5" fill="#e69509"/><rect x="10" y="80" width="5" height="5" fill="#e6cf42"/><rect x="15" y="80" width="10" height="5" fill="#e6e379"/><rect x="25" y="80" width="5" height="5" fill="#e6b716"/><rect x="30" y="80" width="5" height="5" fill="#e69509"/><rect x="35" y="80" width="5" height="5" fill="#f1f1bb"/><rect x="40" y="80" width="25" height="5" fill="#e6e379"/><rect x="65" y="80" width="15" height="5" fill="#f1f1bb"/><rect x="80" y="80" width="5" height="5" fill="#e6e379"/><rect x="85" y="80" width="35" height="5" fill="#f1f1bb"/><rect x="120" y="80" width="75" height="5" fill="#e6e379"/><rect x="195" y="80" width="5" height="5" fill="#f1f1bb"/><rect x="200" y="80" width="20" height="5" fill="#e6e379"/><rect x="220" y="80" width="10" height="5" fill="#f1f1bb"/><rect x="230" y="80" width="10" height="5" fill="#e6e379"/><rect x="240" y="80" width="80" height="5" fill="#f1f1bb"/><rect x="320" y="80" width="10" height="5" fill="#e6cf42"/><rect x="330" y="80" width="5" height="5" fill="#eb7308"/><rect x="335" y="80" width="5" height="5" fill="#f8511c"/><rect x="340" y="80" width="15" height="5" fill="#e6b716"/><rect x="0" y="85" width="5" height="5" fill="#e69509"/><rect x="5" y="85" width="5" height="5" fill="#eb7308"/><rect x="10" y="85" width="5" height="5" fill="#e6e379"/><rect x="15" y="85" width="5" height="5" fill="#f1f1bb"/><rect x="20" y="85" width="5" height="5" fill="#e6cf42"/><rect x="25" y="85" width="30" height="5" fill="#e6e379"/><rect x="55" y="85" width="10" height="5" fill="#f1f1bb"/><rect x="65" y="85" width="5" height="5" fill="#e6e379"/><rect x="70" y="85" width="10" height="5" fill="#f1f1bb"/><rect x="80" y="85" width="5" height="5" fill="#e6e379"/><rect x="85" y="85" width="10" height="5" fill="#e6cf42"/><rect x="95" y="85" width="25" height="5" fill="#f1f1bb"/><rect x="120" y="85" width="10" height="5" fill="#e6e379"/><rect x="130" y="85" width="10" height="5" fill="#f1f1bb"/><rect x="140" y="85" width="5" height="5" fill="#e6e379"/><rect x="145" y="85" width="10" height="5" fill="#f1f1bb"/><rect x="155" y="85" width="5" height="5" fill="#e6e379"/><rect x="160" y="85" width="10" height="5" fill="#f1f1bb"/><rect x="170" y="85" width="15" height="5" fill="#e6e379"/><rect x="185" y="85" width="25" height="5" fill="#f1f1bb"/><rect x="210" y="85" width="5" height="5" fill="#e6e379"/><rect x="215" y="85" width="20" height="5" fill="#f1f1bb"/><rect x="235" y="85" width="5" height="5" fill="#e6e379"/><rect x="240" y="85" width="45" height="5" fill="#f1f1bb"/><rect x="285" y="85" width="5" height="5" fill="#e6e379"/><rect x="290" y="85" width="30" height="5" fill="#f1f1bb"/><rect x="320" y="85" width="5" height="5" fill="#e6cf42"/><rect x="325" y="85" width="5" height="5" fill="#e69509"/><rect x="330" y="85" width="5" height="5" fill="#f8511c"/><rect x="335" y="85" width="5" height="5" fill="#eb7308"/><rect x="340" y="85" width="5" height="5" fill="#e69509"/><rect x="345" y="85" width="5" height="5" fill="#802f95"/><rect x="350" y="85" width="5" height="5" fill="#e6b716"/><rect x="0" y="90" width="5" height="5" fill="#e43c3e"/><rect x="5" y="90" width="10" height="5" fill="#e6e379"/><rect x="15" y="90" width="5" height="5" fill="#e6b716"/><rect x="20" y="90" width="5" height="5" fill="#f1f1bb"/><rect x="25" y="90" width="10" height="5" fill="#e6e379"/><rect x="35" y="90" width="5" height="5" fill="#e6cf42"/><rect x="40" y="90" width="10" height="5" fill="#e6e379"/><rect x="50" y="90" width="5" height="5" fill="#e6b716"/><rect x="55" y="90" width="5" height="5" fill="#f1f1bb"/><rect x="60" y="90" width="10" height="5" fill="#e6cf42"/><rect x="70" y="90" width="5" height="5" fill="#e6e379"/><rect x="75" y="90" width="5" height="5" fill="#f1f1bb"/><rect x="80" y="90" width="10" height="5" fill="#e6e379"/><rect x="90" y="90" width="5" height="5" fill="#e6cf42"/><rect x="95" y="90" width="5" height="5" fill="#e6e379"/><rect x="100" y="90" width="20" height="5" fill="#f1f1bb"/><rect x="120" y="90" width="5" height="5" fill="#e6e379"/><rect x="125" y="90" width="5" height="5" fill="#e6cf42"/><rect x="130" y="90" width="5" height="5" fill="#f1f1bb"/><rect x="135" y="90" width="10" height="5" fill="#e6e379"/><rect x="145" y="90" width="5" height="5" fill="#f1f1bb"/><rect x="150" y="90" width="10" height="5" fill="#e6cf42"/><rect x="160" y="90" width="40" height="5" fill="#e6e379"/><rect x="200" y="90" width="5" height="5" fill="#f1f1bb"/><rect x="205" y="90" width="10" height="5" fill="#e6e379"/><rect x="215" y="90" width="10" height="5" fill="#f1f1bb"/><rect x="225" y="90" width="5" height="5" fill="#e6e379"/><rect x="230" y="90" width="5" height="5" fill="#f1f1bb"/><rect x="235" y="90" width="5" height="5" fill="#e6e379"/><rect x="240" y="90" width="5" height="5" fill="#f1f1bb"/><rect x="245" y="90" width="25" height="5" fill="#e6e379"/><rect x="270" y="90" width="15" height="5" fill="#f1f1bb"/><rect x="285" y="90" width="35" height="5" fill="#e6e379"/><rect x="320" y="90" width="5" height="5" fill="#e6cf42"/><rect x="325" y="90" width="5" height="5" fill="#802f95"/><rect x="330" y="90" width="5" height="5" fill="#ad366e"/><rect x="335" y="90" width="5" height="5" fill="#e69509"/><rect x="340" y="90" width="5" height="5" fill="#eb7308"/><rect x="345" y="90" width="10" height="5" fill="#e6b716"/><rect x="0" y="95" width="5" height="5" fill="#e69509"/><rect x="5" y="95" width="5" height="5" fill="#e6e379"/><rect x="10" y="95" width="5" height="5" fill="#eb7308"/><rect x="15" y="95" width="5" height="5" fill="#5728b7"/><rect x="20" y="95" width="5" height="5" fill="#eb7308"/><rect x="25" y="95" width="5" height="5" fill="#e6e379"/><rect x="30" y="95" width="5" height="5" fill="#f1f1bb"/><rect x="35" y="95" width="15" height="5" fill="#f8511c"/><rect x="50" y="95" width="25" height="5" fill="#e6e379"/><rect x="75" y="95" width="5" height="5" fill="#f1f1bb"/><rect x="80" y="95" width="5" height="5" fill="#e6cf42"/><rect x="85" y="95" width="5" height="5" fill="#f1f1bb"/><rect x="90" y="95" width="10" height="5" fill="#e6e379"/><rect x="100" y="95" width="20" height="5" fill="#f1f1bb"/><rect x="120" y="95" width="10" height="5" fill="#e6e379"/><rect x="130" y="95" width="5" height="5" fill="#f1f1bb"/><rect x="135" y="95" width="15" height="5" fill="#e6e379"/><rect x="150" y="95" width="5" height="5" fill="#f1f1bb"/><rect x="155" y="95" width="5" height="5" fill="#e6cf42"/><rect x="160" y="95" width="5" height="5" fill="#e6e379"/><rect x="165" y="95" width="5" height="5" fill="#e6cf42"/><rect x="170" y="95" width="10" height="5" fill="#e6e379"/><rect x="180" y="95" width="5" height="5" fill="#e6cf42"/><rect x="185" y="95" width="15" height="5" fill="#e6e379"/><rect x="200" y="95" width="5" height="5" fill="#e6cf42"/><rect x="205" y="95" width="15" height="5" fill="#e6e379"/><rect x="220" y="95" width="5" height="5" fill="#f1f1bb"/><rect x="225" y="95" width="5" height="5" fill="#e6e379"/><rect x="230" y="95" width="5" height="5" fill="#f1f1bb"/><rect x="235" y="95" width="15" height="5" fill="#e6e379"/><rect x="250" y="95" width="5" height="5" fill="#e6cf42"/><rect x="255" y="95" width="10" height="5" fill="#e6e379"/><rect x="265" y="95" width="10" height="5" fill="#e6cf42"/><rect x="275" y="95" width="5" height="5" fill="#e6e379"/><rect x="280" y="95" width="10" height="5" fill="#e6b716"/><rect x="290" y="95" width="5" height="5" fill="#f1f1bb"/><rect x="295" y="95" width="5" height="5" fill="#e6e379"/><rect x="300" y="95" width="15" height="5" fill="#e6cf42"/><rect x="315" y="95" width="5" height="5" fill="#e6e379"/><rect x="320" y="95" width="5" height="5" fill="#e6cf42"/><rect x="325" y="95" width="5" height="5" fill="#e69509"/><rect x="330" y="95" width="5" height="5" fill="#e43c3e"/><rect x="335" y="95" width="10" height="5" fill="#e69509"/><rect x="345" y="95" width="5" height="5" fill="#e6b716"/><rect x="350" y="95" width="5" height="5" fill="#e6cf42"/><rect x="0" y="100" width="5" height="5" fill="#3d26a6"/><rect x="5" y="100" width="10" height="5" fill="#e6e379"/><rect x="15" y="100" width="5" height="5" fill="#e69509"/><rect x="20" y="100" width="5" height="5" fill="#e6cf42"/><rect x="25" y="100" width="10" height="5" fill="#e6e379"/><rect x="35" y="100" width="5" height="5" fill="#e6cf42"/><rect x="40" y="100" width="5" height="5" fill="#e6b716"/><rect x="45" y="100" width="5" height="5" fill="#802f95"/><rect x="50" y="100" width="5" height="5" fill="#e43c3e"/><rect x="55" y="100" width="5" height="5" fill="#e6b716"/><rect x="60" y="100" width="5" height="5" fill="#e6cf42"/><rect x="65" y="100" width="5" height="5" fill="#f1f1bb"/><rect x="70" y="100" width="5" height="5" fill="#e6e379"/><rect x="75" y="100" width="5" height="5" fill="#f1f1bb"/><rect x="80" y="100" width="15" height="5" fill="#e6cf42"/><rect x="95" y="100" width="5" height="5" fill="#e6e379"/><rect x="100" y="100" width="5" height="5" fill="#f1f1bb"/><rect x="105" y="100" width="5" height="5" fill="#e6e379"/><rect x="110" y="100" width="10" height="5" fill="#f1f1bb"/><rect x="120" y="100" width="15" height="5" fill="#e6e379"/><rect x="135" y="100" width="10" height="5" fill="#e6cf42"/><rect x="145" y="100" width="5" height="5" fill="#e6e379"/><rect x="150" y="100" width="10" height="5" fill="#e6cf42"/><rect x="160" y="100" width="15" height="5" fill="#e6b716"/><rect x="175" y="100" width="5" height="5" fill="#eb7308"/><rect x="180" y="100" width="5" height="5" fill="#e69509"/><rect x="185" y="100" width="5" height="5" fill="#eb7308"/><rect x="190" y="100" width="10" height="5" fill="#e6b716"/><rect x="200" y="100" width="5" height="5" fill="#e6cf42"/><rect x="205" y="100" width="5" height="5" fill="#e6e379"/><rect x="210" y="100" width="10" height="5" fill="#e6cf42"/><rect x="220" y="100" width="5" height="5" fill="#e6e379"/><rect x="225" y="100" width="5" height="5" fill="#eb7308"/><rect x="230" y="100" width="5" height="5" fill="#e6b716"/><rect x="235" y="100" width="10" height="5" fill="#e6e379"/><rect x="245" y="100" width="5" height="5" fill="#f1f1bb"/><rect x="250" y="100" width="10" height="5" fill="#e6b716"/><rect x="260" y="100" width="30" height="5" fill="#e6e379"/><rect x="290" y="100" width="5" height="5" fill="#f1f1bb"/><rect x="295" y="100" width="25" height="5" fill="#e6e379"/><rect x="320" y="100" width="5" height="5" fill="#e6cf42"/><rect x="325" y="100" width="5" height="5" fill="#e6e379"/><rect x="330" y="100" width="25" height="5" fill="#e6cf42"/><rect x="0" y="105" width="10" height="5" fill="#e6cf42"/><rect x="10" y="105" width="5" height="5" fill="#f1f1bb"/><rect x="15" y="105" width="10" height="5" fill="#e6e379"/><rect x="25" y="105" width="5" height="5" fill="#e6cf42"/><rect x="30" y="105" width="10" height="5" fill="#e6e379"/><rect x="40" y="105" width="5" height="5" fill="#e6b716"/><rect x="45" y="105" width="5" height="5" fill="#e6cf42"/><rect x="50" y="105" width="10" height="5" fill="#e6b716"/><rect x="60" y="105" width="10" height="5" fill="#e69509"/><rect x="70" y="105" width="5" height="5" fill="#e6b716"/><rect x="75" y="105" width="5" height="5" fill="#eb7308"/><rect x="80" y="105" width="20" height="5" fill="#e6e379"/><rect x="100" y="105" width="20" height="5" fill="#f1f1bb"/><rect x="120" y="105" width="5" height="5" fill="#e6e379"/><rect x="125" y="105" width="5" height="5" fill="#e6cf42"/><rect x="130" y="105" width="5" height="5" fill="#eb7308"/><rect x="135" y="105" width="5" height="5" fill="#e6b716"/><rect x="140" y="105" width="10" height="5" fill="#e6cf42"/><rect x="150" y="105" width="10" height="5" fill="#e43c3e"/><rect x="160" y="105" width="10" height="5" fill="#f8511c"/><rect x="170" y="105" width="5" height="5" fill="#eb7308"/><rect x="175" y="105" width="5" height="5" fill="#e6b716"/><rect x="180" y="105" width="5" height="5" fill="#3d26a6"/><rect x="185" y="105" width="5" height="5" fill="#e6cf42"/><rect x="190" y="105" width="5" height="5" fill="#e43c3e"/><rect x="195" y="105" width="5" height="5" fill="#e69509"/><rect x="200" y="105" width="5" height="5" fill="#e6b716"/><rect x="205" y="105" width="5" height="5" fill="#802f95"/><rect x="210" y="105" width="10" height="5" fill="#e69509"/><rect x="220" y="105" width="5" height="5" fill="#e6b716"/><rect x="225" y="105" width="5" height="5" fill="#e69509"/><rect x="230" y="105" width="10" height="5" fill="#e6b716"/><rect x="240" y="105" width="115" height="5" fill="#e6cf42"/><rect x="0" y="110" width="25" height="5" fill="#e6cf42"/><rect x="25" y="110" width="10" height="5" fill="#e69509"/><rect x="35" y="110" width="5" height="5" fill="#e43c3e"/><rect x="40" y="110" width="5" height="5" fill="#5728b7"/><rect x="45" y="110" width="5" height="5" fill="#e69509"/><rect x="50" y="110" width="5" height="5" fill="#f8511c"/><rect x="55" y="110" width="5" height="5" fill="#eb7308"/><rect x="60" y="110" width="10" height="5" fill="#e6b716"/><rect x="70" y="110" width="15" height="5" fill="#e6cf42"/><rect x="85" y="110" width="15" height="5" fill="#e6e379"/><rect x="100" y="110" width="20" height="5" fill="#f1f1bb"/><rect x="120" y="110" width="5" height="5" fill="#e6b716"/><rect x="125" y="110" width="10" height="5" fill="#e69509"/><rect x="135" y="110" width="5" height="5" fill="#eb7308"/><rect x="140" y="110" width="10" height="5" fill="#ad366e"/><rect x="150" y="110" width="20" height="5" fill="#f8511c"/><rect x="170" y="110" width="5" height="5" fill="#e6b716"/><rect x="175" y="110" width="10" height="5" fill="#f8511c"/><rect x="185" y="110" width="10" height="5" fill="#802f95"/><rect x="195" y="110" width="5" height="5" fill="#ad366e"/><rect x="200" y="110" width="5" height="5" fill="#f8511c"/><rect x="205" y="110" width="5" height="5" fill="#000000"/><rect x="210" y="110" width="10" height="5" fill="#eb7308"/><rect x="220" y="110" width="5" height="5" fill="#e6e379"/><rect x="225" y="110" width="10" height="5" fill="#e69509"/><rect x="235" y="110" width="25" height="5" fill="#e6b716"/><rect x="260" y="110" width="10" height="5" fill="#eb7308"/><rect x="270" y="110" width="10" height="5" fill="#e6b716"/><rect x="280" y="110" width="5" height="5" fill="#e6cf42"/><rect x="285" y="110" width="10" height="5" fill="#e69509"/><rect x="295" y="110" width="60" height="5" fill="#e6cf42"/></g><g fill="none" stroke="#000" stroke-linejoin="round" stroke-linecap="round" vector-effect="non-scaling-stroke"><path d="M54.2 8.5L82.3 8.5L82.3 8.1L82.9 8.8L85.0 9.1L87.5 9.4L87.9 9.5L89.1 9.2L92.7 10.6L93.0 11.0L93.5 11.1L94.0 11.4L95.1 12.2L95.4 13.9L95.0 14.9L94.4 15.4L95.1 15.8L96.5 15.3L98.3 15.0L98.5 14.2L98.8 13.9L101.0 13.5L102.0 12.7L102.8 12.5L106.0 12.5L106.7 12.1L107.3 11.2L108.3 10.1L109.3 10.2L109.7 10.5L109.7 11.8L110.5 12.5M36.5 -2.8L38.5 -2.5L40.0 -1.7L41.0 -2.1L42.0 -2.3L43.0 -1.5L44.0 -0.8L45.5 0.5L47.0 1.5L47.5 2.2L46.9 2.8M60.4 25.0L62.8 24.8L62.7 25.0L66.5 26.2L69.3 26.2L69.3 25.7L71.0 25.7L72.5 26.8L73.0 27.9L74.5 28.5L75.1 27.7L76.1 27.7L77.2 29.2L78.0 30.0L78.4 31.1L80.3 31.6M85.3 43.0L85.4 42.4L85.3 42.2L85.8 41.4L87.1 41.4L87.1 39.7L88.3 39.7L89.2 39.0M88.3 39.7L88.3 41.6L88.9 41.8M87.4 43.8L88.1 43.1L88.3 42.4L89.3 41.8M88.1 43.1L89.0 43.5L89.7 43.6L89.8 44.2M90.2 44.6L90.8 44.2L91.8 43.5L92.6 42.7L94.3 42.5M91.8 46.4L92.8 46.4L93.8 46.6M94.5 49.2L94.7 47.9M99.6 50.3L100.2 48.9M105.3 45.7L105.0 46.5L104.5 47.8L105.1 49.1L105.1 50.1L107.4 50.5L109.9 51.3L109.7 53.2L110.2 55.1L110.6 56.3M110.6 56.3L108.0 56.4L107.8 58.0L107.6 61.7M107.6 61.7L106.8 61.3L104.6 59.9L102.3 57.6M102.3 57.6L100.1 57.1L98.7 56.1M102.3 57.6L101.9 59.0L99.1 60.9L98.5 62.5L97.2 60.9M107.6 61.7L104.5 62.5L103.6 64.8L105.0 67.0L107.0 67.0L106.9 68.5L108.0 68.4M108.0 68.4L108.8 70.0L108.1 72.8L108.5 74.0L108.0 75.0L107.1 75.8M108.0 68.4L110.9 67.4L112.2 68.4L114.0 70.0L116.0 71.0L117.2 72.5L117.3 73.8L119.0 73.8L119.2 74.8L119.9 75.5L119.3 77.3M119.3 77.3L115.8 77.1L114.9 79.7M114.9 79.7L112.5 79.6L110.5 80.2M108.0 75.0L109.1 76.9L109.3 79.0L110.4 80.3M110.4 80.3L109.0 82.0L108.9 84.5L107.7 87.5L107.5 90.5L107.1 93.5L106.4 96.5L105.8 99.5L105.7 102.5L105.0 105.0L104.1 107.0L105.0 108.5L106.0 109.5L108.5 109.7M108.9 110.1L108.9 112.4M114.9 79.7L117.5 81.5L119.0 84.8L121.8 84.9L122.9 83.1M122.9 83.1L123.2 81.5L122.1 79.8L119.7 79.6L119.3 77.3M122.9 83.1L123.8 83.7L123.7 84.6L121.6 85.8L119.9 87.7M119.9 87.7L121.9 88.3L124.0 90.0L124.1 91.2M119.9 87.7L119.3 90.0L119.1 91.5M110.6 56.3L112.0 56.6L113.5 55.0L114.1 53.6L116.5 53.0L116.8 52.3M116.8 52.3L116.1 51.6L117.5 49.0M116.8 52.3L117.7 53.1L117.9 55.8L120.0 55.7L121.0 55.6M121.0 55.6L120.3 51.6M121.0 55.6L122.9 55.2M122.9 55.2L123.5 51.8M122.9 55.2L125.0 55.3L125.9 53.3M175.7 22.5L175.8 23.5L176.2 25.2L173.8 26.6L172.0 27.7L168.8 28.8L168.8 29.8M168.8 29.8L164.3 29.8M168.8 30.2L168.8 31.5L165.5 31.5L165.5 34.0L164.5 36.2L160.5 36.2M168.8 30.2L172.7 32.5M172.7 32.5L178.7 36.5L180.7 38.5L181.8 38.3M172.7 32.5L171.0 32.6L172.0 41.0L168.5 42.0L166.0 42.2M166.0 42.2L165.0 42.7L163.5 40.9L161.1 41.3M166.0 42.2L166.1 45.1M166.1 45.1L163.8 44.9L160.8 45.1M160.7 43.9L162.5 43.8L163.7 44.0L162.5 44.2L160.8 44.4M166.1 45.1L169.1 46.1L169.5 47.3L169.9 49.1M164.2 48.5L165.1 47.6L166.3 47.5L166.8 48.2L166.9 49.0L166.1 50.6M166.9 49.0L168.0 50.0L169.0 49.9L169.0 50.8L170.0 53.2M169.5 47.3L169.9 49.1L169.0 49.9M172.1 47.1L172.3 46.0L173.1 45.0L174.0 44.2L176.5 42.5L177.7 42.6M169.5 47.3L171.0 47.1L172.1 47.1M172.1 47.1L173.2 47.9L174.7 47.9M174.4 52.4L174.7 49.5L174.7 47.9M174.7 47.9L174.7 46.5L177.4 46.4L178.4 46.5M178.7 51.4L178.1 49.0L177.5 46.5M179.1 51.3L179.1 48.5L178.4 46.5M178.4 46.5L179.9 45.6L178.5 44.2L177.7 42.6M180.2 51.2L180.3 48.5L181.1 45.8M178.4 46.5L181.1 45.8M181.1 45.8L181.6 44.0L183.5 43.9L185.5 44.4L188.2 44.1L191.1 43.8M177.7 42.6L178.8 42.2L181.1 41.9L181.8 40.6L181.8 38.3M181.8 38.3L183.3 38.1L189.4 34.0M189.4 34.0L191.5 34.5L192.5 34.5M192.5 34.5L193.4 37.1L193.0 40.6L191.4 42.0L191.1 43.8M185.9 20.6L185.7 22.5L185.0 24.0L186.5 25.4L187.0 27.3M187.0 27.3L187.8 25.8L189.0 24.4M187.0 27.3L187.5 32.2L189.4 34.0M192.5 34.5L201.5 38.0M201.5 38.0L201.5 37.5L202.5 37.5L202.5 35.5M202.5 35.5L202.5 25.9M202.5 35.5L214.4 35.5M201.5 38.0L201.0 42.0L199.9 43.5L199.5 44.9L200.4 46.6M193.0 50.0L196.0 48.6L199.0 47.7L200.4 46.6M191.1 43.8L191.5 44.5L192.0 45.0L192.6 46.9L191.7 48.0L193.0 50.0M186.0 52.9L187.1 51.0L189.1 50.5L190.0 49.0L190.8 47.5L192.0 45.0M193.0 50.0L192.0 52.5L193.6 55.3M187.3 55.2L188.8 55.3L190.5 55.2L193.6 55.3M187.3 56.5L188.8 56.5L188.8 55.3M188.8 55.3L190.7 56.3L192.0 59.9L190.0 60.0L189.1 61.3M196.1 54.0L195.0 57.5L193.7 59.5L192.8 61.7L190.5 62.3L189.7 63.3M193.6 55.3L196.1 54.0L199.9 53.5L202.5 52.5L204.9 52.4M200.4 46.6L201.5 49.0L204.0 51.2L204.9 52.4M201.0 48.0L204.0 48.0L207.5 47.8L210.0 45.5L211.4 48.0M213.9 43.2L216.0 39.6M213.9 43.2L212.8 46.0L211.7 46.9L211.6 49.0L210.5 49.6L212.5 52.5M213.9 43.2L216.0 43.1L217.6 43.0L219.9 45.0M219.9 45.0L220.5 46.5L221.5 48.5L225.3 49.5L222.4 52.5L219.5 53.5L218.5 53.6M220.6 46.1L220.2 46.5M212.5 52.5L215.5 53.9L218.5 53.6M218.5 53.6L218.5 59.1M211.5 53.2L212.5 56.0L211.5 58.5M211.5 53.2L208.5 53.8L208.3 54.0M212.5 52.5L211.5 53.2M204.9 52.4L208.3 54.0M211.5 58.5L215.2 60.7L216.7 62.2M208.3 54.0L207.5 55.9L207.1 58.9M207.1 58.9L208.0 59.9L208.3 60.7L206.9 62.0M217.9 68.0L215.0 69.0L212.5 69.1M189.7 63.3L194.0 63.5L195.1 65.6L197.0 64.5L199.3 64.8L199.5 67.2L201.5 68.4M189.7 62.5L190.5 62.3M201.5 68.4L202.8 68.8L205.0 69.7L207.3 70.9L206.0 66.0L208.2 65.8M208.2 65.8L210.5 67.0L211.4 67.0M189.3 74.8L198.4 75.5L200.8 75.1M201.5 68.4L199.5 70.5L199.5 73.7L200.8 75.1M200.8 75.1L202.7 75.3L197.5 75.8L197.5 79.5L197.5 82.3M197.5 82.3L197.5 85.9L194.0 86.1M197.5 82.3L200.0 83.5L203.0 83.1L204.5 81.5L206.9 79.7M202.7 75.3L204.8 78.0L206.9 79.7M206.9 79.7L208.8 79.9M208.8 79.9L210.0 78.5L210.4 74.5L207.9 73.1M202.7 75.3L205.5 74.0L207.9 73.1M208.8 79.9L209.5 82.0L210.4 84.4M204.5 87.1L205.5 86.2L206.9 86.9L206.0 87.9L205.0 87.9L204.5 87.1M208.5 83.5L209.5 83.7L209.4 84.7L208.5 84.5L208.5 83.5M207.9 73.1L210.5 71.5L212.0 74.0L212.8 74.5L213.3 73.0L212.8 71.5L212.0 69.0L211.4 67.0M211.7 26.2L212.4 28.0M213.1 24.3L213.0 26.0L212.5 28.0M212.5 28.2L214.5 28.0L215.5 27.0L214.5 26.0L216.5 25.3M213.1 24.8L216.5 25.3M219.9 20.4L218.8 21.7L218.5 23.0L216.3 24.1L216.5 25.3M213.4 21.6L214.2 20.7L216.5 20.8L219.9 20.4M213.4 22.9L214.1 23.3L213.1 24.3M216.5 25.3L219.5 26.5L222.2 28.3L224.0 28.4M224.0 28.4L225.2 29.0L225.9 29.0M224.0 28.4L225.2 27.4L225.5 27.6M226.0 27.5L225.2 26.1L223.7 24.5L223.0 23.5L222.9 21.6L222.3 20.3M219.9 20.4L222.3 20.3M222.3 20.3L221.8 19.1L222.3 17.8M222.3 17.8L224.0 18.6L225.5 19.0L226.4 19.1M231.4 20.2L234.5 19.5L236.5 20.1L238.6 20.9M238.6 20.9L238.5 23.1L238.0 23.9L238.4 26.0L239.3 26.7M239.3 26.7L240.2 28.1L240.8 30.3L240.0 31.0L239.1 32.3M220.3 41.1L221.5 40.1L224.5 40.5L225.7 39.3L229.5 38.5M229.5 38.5L230.6 40.9M229.5 38.5L233.0 37.5L232.5 34.8M229.1 33.2L230.0 34.7L232.5 34.8M232.5 34.8L233.1 33.5L233.4 32.6L233.7 31.8M228.3 32.7L228.7 32.9M239.3 26.7L243.9 27.6L245.2 26.0L247.0 23.7L248.8 23.2L248.7 21.4L252.0 20.3M238.6 20.9L239.7 22.2L242.0 21.2L244.0 20.1L245.5 20.5L247.5 20.0L249.0 19.6L252.0 20.3M245.7 33.8L247.8 33.1L248.6 33.1L247.6 29.7L250.3 27.5L252.1 26.4L251.8 24.7L252.5 23.5L255.3 22.0M255.3 22.0L257.0 25.0L256.4 26.6L257.6 26.9L258.6 27.3M257.6 28.7L258.6 27.3L261.5 29.0L265.6 29.6M257.6 28.7L260.5 30.1L262.5 30.7L265.6 31.1L265.6 29.6M265.6 29.6L266.3 29.4L267.0 29.3L269.5 29.7L272.5 28.1L274.9 29.2M266.3 30.4L267.1 30.7L269.5 30.6L269.5 29.7M265.6 31.1L266.5 32.3L266.0 33.0L266.2 35.0M267.3 32.1L269.7 32.4L269.3 33.4L269.8 34.5L269.9 36.0M269.9 36.0L270.7 35.2L270.9 33.6L272.1 32.3L272.7 30.9L274.9 29.2M274.9 29.2L275.7 31.2L275.1 33.5L276.4 33.4L277.0 35.4L277.6 36.0M277.6 37.1L276.0 37.9L275.3 39.0L276.2 41.2L275.7 42.3L276.6 44.0L276.1 47.5M277.6 36.0L277.6 37.1M277.6 36.0L278.6 36.0L279.6 35.1L280.5 35.8M280.5 35.8L281.6 37.5L282.4 39.1L284.0 41.0L285.1 42.3L285.0 43.1M277.6 37.1L278.8 38.0L278.6 40.0L279.6 39.4L282.2 40.0L283.0 41.8L283.0 43.1M280.4 45.7L279.8 43.9L281.4 43.2L283.0 43.1L285.0 43.1L283.7 45.9L281.9 47.1M279.6 35.1L280.5 34.9L283.0 34.3L284.2 34.7L285.5 35.9M277.6 51.0L278.8 51.7L279.6 51.3M287.1 55.5L289.0 56.4L292.0 56.0L293.0 53.5L295.3 53.3M318.5 60.1L318.5 63.8L318.7 64.5L318.5 66.6M302.4 66.7L302.6 66.1M257.8 15.3L257.6 12.7L260.0 12.0L260.5 10.3L263.1 10.4L264.8 8.4M264.8 8.4L268.2 11.0L268.5 12.5L272.5 13.2L274.0 14.7L278.0 14.9L282.5 15.9L284.5 15.1L288.0 14.7L289.4 13.8L289.3 12.4L291.1 12.7L293.2 9.8L295.3 9.6L297.2 10.8L296.0 9.6L294.2 7.7M294.2 7.7L295.4 8.0L296.7 7.2L297.5 4.9L298.2 4.2L301.1 4.0L303.5 4.7L305.1 7.7L308.1 8.6L310.0 9.7L312.2 9.1L311.0 12.5L308.8 12.8L308.4 14.9M308.1 15.1L306.5 15.5L305.5 16.1L303.8 15.9L301.8 17.6M303.6 19.8L304.5 19.2L305.9 18.9M265.3 8.3L267.4 7.1L270.4 6.7L274.8 7.8L275.8 5.5L279.5 6.2L282.0 7.2L284.5 7.0L285.8 7.9L288.9 8.1L291.9 7.2L294.2 7.7M264.8 8.4L263.0 7.9L260.9 6.5L257.5 6.7L255.3 4.2L254.0 3.3L250.9 4.0L248.3 2.3L245.7 2.6L243.2 2.9L239.0 3.5L238.4 4.8L239.0 6.1L237.4 6.7L235.9 6.5L234.2 6.6L233.2 6.9L232.0 6.5L229.8 5.8L228.3 5.8L226.2 6.9L225.0 7.0L224.3 8.1L224.5 9.2L224.0 9.3L224.2 10.0L225.5 9.8L226.6 11.1M230.5 15.5L233.4 16.2L233.4 12.5L236.0 11.9L235.9 12.0M238.5 13.1L239.5 14.0L242.4 13.8L243.6 15.5L246.1 16.8L246.8 16.1L248.5 15.2L251.0 15.0L251.7 14.2L253.5 14.5L256.5 14.6L257.8 15.3M233.4 16.2L234.6 16.2L236.5 15.2L237.5 15.3L238.5 16.3L239.9 17.5L241.5 18.5L244.0 20.1M251.2 18.0L249.0 17.9L247.5 17.3L246.8 16.8L248.0 16.5L249.5 16.5L251.0 17.0L251.2 18.0L252.5 17.0L254.0 17.1L255.5 16.3L257.8 15.3M245.3 20.3L246.0 18.0L247.5 17.3M251.2 18.0L252.4 19.1L252.0 20.3M217.5 14.1L219.5 14.3L221.3 14.7L223.2 15.0L224.0 15.6L226.1 15.7M219.0 16.0L220.3 15.9L221.0 16.4L221.6 17.5L222.3 17.8M221.0 16.4L222.5 16.3L224.0 16.4L223.0 17.0L224.0 18.6M175.7 14.1L178.2 14.7L180.7 15.1M168.6 15.6L169.3 15.4L171.3 15.9L170.6 17.2L170.5 17.9L170.2 19.1L170.0 20.3M180.0 6.4L181.7 7.3L182.3 7.5L183.3 8.0L183.9 8.0L185.7 8.5L185.1 9.9L184.4 10.0L183.5 11.3L184.4 11.6L184.5 12.5L185.0 13.7M180.9 6.1L182.0 6.0L183.1 6.3L183.3 6.7M183.3 6.7L183.6 7.4L183.3 8.0M183.3 6.7L183.6 5.7L184.6 5.3L184.7 4.2M186.2 2.6L187.4 2.7M191.7 3.6L192.1 4.9L192.1 5.7L192.5 6.4M192.5 6.4L191.0 6.8L189.8 7.3L190.0 8.0L191.3 8.7M191.3 8.7L190.5 10.0L188.5 10.0L187.1 10.0M187.1 10.0L185.1 9.9M187.1 10.0L187.9 10.6L186.8 11.0L185.9 11.2L184.5 11.6M187.9 10.6L189.8 10.4L191.2 11.0M191.2 11.0L193.5 10.8L193.6 10.0L194.5 9.5L194.4 8.9L192.5 8.5L191.3 8.7M191.2 11.0L191.2 11.9M192.5 6.4L193.8 6.8L194.5 7.2L196.3 8.0M194.4 8.9L196.3 8.0M196.3 8.0L197.5 8.3L200.1 8.4M200.1 8.4L201.6 6.9L201.1 6.0L201.0 4.8L201.0 3.6L200.2 3.2L197.1 3.1M200.2 3.2L200.3 2.6L198.8 2.3M194.5 9.5L196.3 9.7L197.8 9.2L199.6 9.1M199.6 9.1L200.4 9.5L199.2 11.0L197.8 11.4M197.8 11.4L196.3 11.6L195.0 11.5L194.1 11.0L193.5 10.8M191.2 11.9L192.7 12.0L193.2 11.3L194.1 11.0M200.4 9.5L202.4 9.8L204.1 9.3L205.7 10.5L205.7 12.0L207.1 12.3M204.1 9.3L205.5 9.2L206.7 10.0L207.5 11.0L205.7 12.0M200.2 13.3L202.5 13.8L205.3 13.5L206.1 13.8M197.8 11.4L198.9 12.3L200.2 13.3M200.2 13.3L199.9 14.5L200.5 15.1L200.4 16.2M197.7 17.9L198.1 16.4L200.4 16.2L202.0 15.9L203.6 15.8L203.9 16.2L203.6 16.7M203.6 15.8L204.6 15.4L205.5 15.5M193.2 12.3L194.5 12.3L196.5 12.6L197.1 13.5L196.8 14.0L196.0 15.0M193.2 12.3L193.6 13.3L195.1 14.5L196.0 15.0M196.8 14.0L197.8 14.7L198.5 15.3L198.1 16.4L196.9 15.6M196.5 12.6L197.8 11.4M198.5 15.3L199.9 15.2L200.5 15.1M215.7 10.4L217.5 9.5L217.5 7.9L215.5 7.5L213.0 7.1L211.5 5.5L209.3 5.4M209.3 5.4L208.0 6.0L204.5 5.9L201.6 5.9M209.3 5.4L209.1 4.7L210.0 3.7L208.3 1.9L205.7 1.4M201.0 3.6L203.2 3.2L204.3 2.2L205.7 1.4M198.5 1.4L201.5 1.2L204.0 1.8M205.7 1.4L205.3 0.2L204.9 -0.1M205.2 -0.3L205.5 -1.5" stroke-width="1.9" vector-effect="non-scaling-stroke"/><path d="M40.5 -1.5L41.5 -0.8L43.0 0.0L44.0 1.0L45.5 2.5L47.0 3.0L47.5 3.7L49.0 5.0L50.0 6.5L51.5 7.3L52.5 8.0L52.8 9.1L53.3 10.5L53.5 11.5L53.6 12.5L53.3 14.0L53.0 15.0L53.3 16.5L53.7 18.0L54.5 19.5L55.1 20.0L55.6 21.0L56.6 22.2L56.9 22.9L58.5 23.5L59.2 23.8L60.2 24.5L60.5 25.1L61.0 26.0L61.7 27.1L62.5 28.0L63.3 29.0L63.0 29.9L64.5 30.7L65.3 31.7L65.6 33.0L67.2 34.3L68.0 34.3L67.5 33.3L66.5 32.0L65.3 29.8L64.5 28.5L63.0 27.0L62.7 25.8L64.0 26.2L65.0 27.5L66.5 29.5L68.0 31.0L69.0 32.3L70.5 33.5L71.7 35.0L72.2 36.5L71.9 37.2L73.0 38.5L74.0 39.2L75.5 39.6L77.5 40.5L79.0 41.2L81.0 41.8L82.5 41.3L83.5 41.4L85.0 42.7L86.0 43.5L87.5 43.7L88.5 44.1L89.7 44.3L90.2 44.6L91.0 45.5L91.8 46.5L91.9 47.3L92.3 47.6L92.8 47.9L93.7 48.5L94.2 49.2L95.0 49.3L96.0 49.7L97.2 50.1L97.5 49.3L98.2 48.5L99.0 49.0L99.5 50.0L100.0 50.5L100.1 51.5L100.1 53.3L99.7 54.5L98.7 55.8L97.6 56.6L97.4 57.8L96.6 58.7L97.2 60.1L96.9 61.0L96.3 61.7L96.3 63.5L97.7 64.7L98.7 66.3L100.0 68.5L101.1 71.0L102.5 73.0L104.5 74.2L106.3 75.2L107.2 76.0L107.3 78.0L107.2 81.0L106.9 84.0L106.1 87.0L105.9 89.5L105.8 91.0L105.1 93.0L104.3 94.5L103.9 96.0L104.2 97.5L103.7 99.0L104.1 100.0L103.9 101.0L103.0 102.0L102.9 103.5L102.2 105.0L102.3 107.0L102.7 108.5L103.2 110.0L105.0 111.1L106.5 111.5L108.0 112.2L109.7 112.5L111.0 112.6L112.2 112.3L111.2 111.9L109.2 110.8L109.0 109.9L108.3 109.0L108.9 108.0L109.7 106.5L111.5 105.3L111.8 104.5L110.2 103.5L110.0 102.8L112.0 102.5L112.5 101.0L113.3 99.8L112.5 98.7L114.5 98.5L115.3 97.0L116.0 96.5L118.5 96.1L119.9 95.5L120.7 94.4L120.8 93.8L120.2 93.0L119.2 92.1L119.0 91.5L119.7 91.9L121.3 92.4L122.5 92.4L123.7 91.9L124.1 91.2L125.1 89.9L126.5 88.1L127.5 86.5L128.8 85.5L129.0 83.7L128.9 83.1L130.0 82.3L132.0 81.3L133.0 80.7L134.5 80.5L135.6 80.1L136.5 79.1L137.3 77.9L137.8 76.5L138.3 75.1L138.5 73.0L138.6 71.0L139.5 70.2L140.3 68.5L141.5 67.3L142.5 65.7L142.6 64.5L142.3 63.0L141.0 62.5L139.7 61.9L138.5 60.8L137.0 60.3L135.5 60.2L133.5 60.0L132.5 59.0L131.0 58.4L129.2 58.4L128.0 57.7L127.0 56.9L126.6 55.7L126.2 53.9L125.8 53.3L125.0 52.5L123.7 51.7L122.5 51.5L120.7 51.5L119.7 50.9L119.0 50.3L117.7 49.2L116.9 48.9L116.0 47.7L115.0 46.9L113.2 46.9L111.5 46.9L110.0 47.0L109.2 46.6L108.0 46.0L107.3 45.5L107.2 46.1L106.2 46.5L105.8 47.0L105.9 48.3L105.5 48.0L105.9 46.7L105.6 45.9L105.2 45.7L104.2 46.2L103.2 46.5L102.0 47.0L101.8 48.1L100.7 48.9L100.1 48.8L99.4 48.3L98.0 47.9L97.0 48.5L96.0 48.7L95.3 48.3L94.1 47.1L93.8 46.5L93.8 45.0L94.1 43.5L94.2 42.5L93.0 41.7L91.7 41.6L89.9 41.7L89.2 41.8L88.7 41.6L89.2 41.0L89.3 40.0L89.5 39.0L90.0 38.2L90.1 37.0L90.7 36.2L89.9 36.0L88.7 36.1L87.2 36.5L87.0 37.5L86.8 38.2L86.1 38.7L85.0 38.9L83.5 39.3L82.7 39.0L81.9 38.7L81.1 38.1L80.6 37.0L80.1 35.9L79.7 34.8L79.8 33.3L80.3 31.6L80.2 30.3L80.4 29.6L81.1 29.1L82.5 28.3L83.5 27.8L84.5 27.8L86.0 28.1L87.3 28.4L88.2 28.2L87.9 27.3L89.0 27.1L90.0 27.2L91.0 27.1L92.1 27.7L93.1 27.5L94.0 28.0L94.7 29.0L94.8 30.0L95.7 31.2L96.3 32.2L97.1 32.3L97.4 31.5L97.4 30.5L96.9 29.1L96.5 27.9L96.1 26.9L96.2 26.0L96.7 25.3L97.6 24.8L98.5 24.0L99.6 23.6L100.5 22.9L101.3 22.4L101.9 21.9L101.6 20.6L101.2 19.7L101.2 18.7L101.0 18.2L101.9 18.1L102.4 18.7L102.6 18.4L103.4 17.7L103.5 17.0L104.0 16.9L105.5 16.6L105.7 16.2L106.8 16.0L107.5 15.8L107.0 15.2L106.7 14.7L107.2 13.9L108.0 13.6L109.3 13.1L110.5 12.7L111.2 12.3L112.5 12.0L113.2 12.2L112.7 12.5L111.4 13.0L112.0 13.9L113.0 13.5L114.0 12.9L115.5 12.5L116.5 12.2L116.2 11.9L115.0 11.8L113.7 11.5L112.9 11.3L112.7 10.5L112.2 9.8L112.7 9.2L111.7 8.5L110.8 8.4L109.5 8.9L108.0 9.7L109.0 8.8L110.5 8.1L111.2 7.3L113.5 7.3L116.0 7.3L118.0 7.0L120.0 6.1L121.5 5.5L121.7 4.5L121.5 3.7L120.0 3.0L118.2 2.2L117.0 1.7L116.0 1.1L115.7 0.0L115.5 -1.0M27.5 -3.5L26.0 -2.0L25.0 -1.5L23.7 -0.8L22.0 0.0L20.5 0.8L19.0 1.5L17.5 1.9L16.0 2.3L14.7 2.6L13.0 3.0L13.0 2.5L14.5 1.9L16.5 1.3L19.0 0.2L20.0 -1.1M11.0 3.9L9.5 4.2L7.5 4.7L5.0 5.3L2.5 5.7L0.0 5.9L-2.4 6.0M350.0 4.5L351.5 5.1L353.5 5.6L355.5 5.7L357.4 5.9M118.2 9.9L119.5 9.9L121.5 9.9L122.5 10.6L124.0 10.9L124.8 10.2L124.5 9.4L123.8 8.9L123.5 8.2L122.0 7.7L121.7 7.0L121.5 6.2L122.0 5.9L120.5 6.5L119.7 7.6L119.0 8.6L118.2 9.4L118.2 9.9M82.7 -1.5L84.5 -0.5L85.0 0.5L87.0 0.3L89.0 1.0L90.5 1.7L92.5 2.3L94.5 2.4L95.2 3.0L95.3 4.5L96.0 5.2L97.0 6.2L98.2 5.9L98.7 5.0L98.5 3.5L99.5 2.5L100.5 1.8L100.9 1.0L100.5 0.0L100.0 -1.0M92.6 35.6L93.5 34.9L95.0 34.5L96.5 34.4L97.5 34.6L99.0 35.2L100.2 35.9L101.5 36.4L103.3 37.2L102.0 37.6L100.0 37.6L100.3 37.0L99.3 36.6L98.0 35.9L96.5 35.5L95.0 35.3L94.0 35.6L92.6 35.6M103.1 39.0L104.1 37.8L105.1 37.6L106.7 37.6L108.0 38.2L109.1 38.9L108.0 39.2L106.7 39.3L106.0 39.8L105.0 39.3L103.1 39.2L103.1 39.0M99.2 39.1L101.2 39.3L100.7 39.6L99.2 39.3L99.2 39.1M110.3 39.0L111.9 39.1L111.8 39.5L110.3 39.5L110.3 39.0M99.5 31.0L100.3 31.2L99.7 32.5L99.3 33.0L99.5 31.0M49.2 6.7L50.5 7.0L52.0 7.5L53.5 8.3L54.1 9.1L52.8 8.9L51.5 8.3L50.0 7.5L49.2 6.7M45.0 3.5L45.8 4.0L46.5 5.3L45.7 5.0L45.0 4.3L45.0 3.5M21.5 37.4L22.4 38.2L21.9 38.6L21.5 37.8L21.5 37.4M17.7 35.3L19.9 36.0L20.6 36.4L21.2 36.6M85.4 10.8L87.0 10.9L89.0 10.3L89.7 10.1L91.0 11.0L92.9 11.0L92.8 10.2L92.5 9.6L91.0 8.8L89.2 8.6L87.9 9.5L85.4 10.8M89.7 15.9L90.7 15.7L91.2 14.2L91.2 13.0L92.0 12.2L92.8 11.7L91.9 11.6L90.7 11.7L89.9 13.0L89.6 14.5L89.7 15.9M92.8 11.7L94.0 11.5L95.8 11.6L96.9 11.7L97.4 12.5L96.7 12.9L95.8 12.6L95.8 14.2L95.1 14.5L94.8 13.6L94.1 13.4L94.1 12.6L92.8 11.7M94.1 15.8L96.0 16.0L98.2 14.9L98.5 14.6L97.0 14.9L95.0 15.5L94.1 15.8M97.7 14.2L99.5 14.2L101.2 14.0L101.1 13.3L100.0 13.5L98.3 13.8L97.7 14.2M80.7 7.0L81.1 6.0L80.0 5.0L79.0 3.9L79.5 3.7L80.5 4.8L81.3 6.0L80.7 7.0M108.9 110.1L109.2 112.0L111.0 112.6L112.2 112.3L110.0 111.0L108.9 110.1M116.2 109.0L118.0 108.8L119.7 109.1L118.5 109.7L117.0 109.6L116.2 109.0M115.6 46.7L116.6 46.7L116.5 47.4L115.6 47.4L115.6 46.7M188.0 -0.2L187.5 0.4L187.0 0.5L186.1 0.4L185.6 0.9L185.7 2.0L186.1 2.5L186.3 3.1L186.1 3.6L184.6 3.9L183.5 4.1L182.4 4.5L182.0 5.2L181.2 5.9L180.7 6.1L180.0 6.4L179.1 6.6L179.0 7.3L177.7 7.8L176.4 8.1L176.2 7.8L175.6 7.8L175.9 8.8L174.9 9.0L174.0 8.7L172.8 9.0L173.2 9.7L174.9 10.1L175.3 10.4L176.2 11.3L176.3 12.0L176.2 13.2L176.0 14.0L175.0 14.1L173.7 14.0L171.8 13.9L170.0 13.8L169.2 14.0L168.2 14.5L168.6 15.5L168.8 16.5L168.5 17.5L168.1 18.3L168.2 18.8L168.7 19.1L168.7 20.0L168.6 20.5L170.0 20.3L171.1 20.7L171.5 21.2L172.0 21.5L173.1 20.8L175.4 20.8L176.0 20.0L176.8 19.9L177.2 19.1L177.7 18.7L177.2 18.0L177.6 17.4L178.4 16.5L179.7 16.2L180.7 15.6L180.7 15.1L180.5 14.4L181.3 14.0L182.3 14.1L183.5 14.4L184.5 14.0L185.2 13.7L186.2 13.1L187.3 13.4L187.8 14.0L188.2 14.6L188.7 15.1L189.7 15.7L190.6 16.3L191.5 16.7L192.1 17.0L192.5 17.3L193.2 17.6L193.5 18.0L193.2 18.6L193.2 19.5L193.6 19.5L194.1 19.1L194.6 18.6L194.7 18.1L194.0 17.8L194.5 17.0L195.5 16.9L196.0 17.4L195.8 16.9L195.0 16.6L193.7 16.1L193.4 15.6L192.2 15.4L191.3 14.6L191.1 14.0L189.9 13.3L189.8 12.5L190.0 12.0L190.6 11.8L191.2 11.9L191.1 12.4L191.8 12.2L192.4 12.6L192.9 13.3L193.9 14.0L195.0 14.5L196.0 15.1L196.9 15.6L196.9 16.3L197.0 17.1L197.4 17.6L197.8 18.2L198.4 18.8L198.6 19.2L199.1 19.9L199.2 20.6L200.0 21.0L200.3 20.7L200.7 21.1L200.4 20.0L201.0 19.5L201.5 19.3L201.0 19.0L200.3 18.7L200.4 18.1L200.1 17.4L200.3 17.0L201.3 17.5L200.9 17.2L201.5 16.8L202.5 16.6L203.5 16.7L203.9 17.3L203.6 18.0L204.4 18.0L203.8 19.2L204.7 19.6L204.8 20.2L205.1 20.8L205.8 20.7L207.2 21.4L208.1 20.8L209.2 20.9L210.1 21.4L211.2 21.3L212.2 20.7L213.1 20.9L213.7 20.8L213.3 21.6L213.4 22.2L213.0 23.1L212.6 24.3L212.4 25.0L212.0 25.9L211.7 26.2L210.6 26.4L209.7 26.2L208.5 25.9L207.2 26.3L206.4 26.6L205.0 26.1L202.7 25.9L201.5 25.5L200.7 25.2L200.4 24.8L199.1 24.6L197.6 25.3L197.5 26.5L196.6 27.2L195.6 26.7L193.2 26.1L192.7 25.2L191.4 24.8L190.2 24.7L189.0 24.4L188.4 23.8L187.8 23.7L187.7 23.2L188.3 22.7L188.6 22.3L188.1 21.6L188.0 20.8L188.6 20.4L187.7 20.3L187.0 20.2L185.9 20.6L184.8 20.4L183.8 20.6L182.8 20.9L180.7 20.7L179.0 20.9L178.0 21.2L176.3 21.8L175.3 22.3L174.5 22.1L172.9 22.2L172.2 21.6L171.3 21.6L171.0 22.4L170.7 23.4L169.9 23.8L168.8 24.3L168.2 24.9L167.7 26.3L167.8 27.2L167.1 28.4L166.1 29.3L164.7 29.8L163.7 30.9L163.0 32.0L162.7 33.0L161.6 33.8L161.2 34.8L160.6 35.9L160.4 36.6L161.0 37.8L161.2 38.4L161.4 39.4L161.0 40.9L160.6 42.0L160.1 42.8L160.5 43.3L160.7 44.3L160.8 45.1L161.4 45.6L162.1 46.1L162.5 46.7L162.9 47.0L163.8 48.0L164.3 48.6L164.6 49.7L165.4 50.2L166.1 50.7L167.2 51.5L168.1 52.2L169.0 52.9L170.0 53.2L171.0 52.9L172.2 52.4L173.5 52.3L174.5 52.4L175.5 52.8L176.5 52.4L177.5 51.9L178.5 51.6L179.5 51.2L180.5 51.1L181.8 51.2L182.5 51.9L183.1 52.6L183.8 53.2L184.5 53.1L185.5 53.0L186.0 52.9L186.7 53.5L187.2 53.8L187.4 54.5L187.3 55.3L187.1 56.5L186.8 57.4L186.7 58.4L187.3 59.7L188.0 60.5L188.6 61.2L189.3 61.8L189.8 62.6L189.8 63.6L190.4 64.5L190.9 65.9L190.8 66.7L191.1 68.0L191.2 68.8L191.1 69.7L190.2 70.8L189.8 71.6L189.5 73.0L189.3 74.3L189.2 75.3L189.9 76.3L190.5 77.4L191.0 78.4L191.8 79.6L191.9 80.4L192.1 82.1L192.5 83.9L192.7 84.6L193.1 85.3L193.9 86.1L194.3 86.5L194.9 88.1L195.7 89.2L195.8 90.1L195.8 90.8L196.0 91.6L197.1 92.3L198.2 91.9L199.0 91.8L200.1 91.5L201.1 91.3L202.3 91.7L203.3 91.2L204.0 91.1L204.9 90.7L205.7 90.1L206.6 89.2L207.5 88.5L208.4 87.5L209.2 86.3L209.9 85.6L210.1 84.5L210.4 83.7L210.3 83.1L211.2 82.5L212.5 82.0L213.0 81.0L212.9 79.6L212.6 78.8L212.3 77.5L212.2 77.0L212.7 76.3L214.1 75.5L214.9 75.1L216.0 74.6L216.9 74.2L217.6 73.5L218.1 72.8L218.2 72.1L218.0 71.4L218.1 70.1L217.9 68.7L217.8 67.8L217.2 66.6L216.9 65.5L216.8 64.5L216.3 64.0L216.4 63.1L216.7 62.2L217.1 61.8L217.6 60.8L217.7 60.3L218.1 60.0L218.5 59.5L219.1 59.2L219.9 58.3L220.6 57.5L221.2 56.7L222.5 55.8L223.7 54.7L224.7 53.6L225.2 53.3L226.1 52.2L226.9 50.7L227.3 49.6L227.8 48.5L228.2 47.5L228.5 46.9L228.7 45.7L227.7 45.8L226.8 46.2L225.9 46.2L224.5 46.6L223.1 46.8L222.1 47.1L221.2 46.6L221.0 46.2L220.3 45.8L220.7 45.6L220.8 45.1L220.2 44.8L219.8 44.5L219.1 44.0L218.7 43.5L218.3 43.2L217.2 42.4L216.8 41.6L216.4 41.1L215.9 39.8L215.4 39.1L214.9 38.6L214.6 37.4L214.7 36.5L214.4 35.5L213.8 34.6L213.0 34.4L213.1 33.6L212.6 32.7L212.1 31.7L211.6 30.9L211.3 30.3L210.6 29.1L210.1 27.6L209.9 27.6L210.4 28.7L210.8 29.3L211.5 29.6L211.9 29.2L212.1 28.3L212.4 28.0L212.2 28.6L212.5 29.2L213.0 29.9L213.8 31.0L214.6 32.5L215.0 33.2L215.6 33.6L216.4 35.1L216.7 36.3L217.1 36.9L217.8 37.5L218.3 38.2L218.7 39.1L219.1 39.8L219.9 40.9L220.2 41.9L220.4 42.6L220.6 43.6L220.8 44.2L221.0 44.9L221.7 44.9L222.6 44.6L223.4 44.1L225.0 43.6L226.2 43.5L227.1 42.8L228.1 42.4L229.0 42.1L229.7 41.6L229.9 41.1L231.2 40.7L232.8 40.2L233.3 39.5L234.0 39.2L234.3 38.8L235.3 38.4L235.3 37.3L236.0 37.0L236.4 36.4L237.3 35.2L236.8 34.6L236.2 33.9L234.9 33.6L234.3 33.3L233.9 32.6L233.8 31.8L233.9 31.1L233.5 31.4L233.0 32.0L232.5 32.5L231.7 33.2L230.9 33.4L230.1 33.3L229.3 33.5L228.8 33.0L229.0 32.3L229.1 31.7L228.8 31.4L228.5 31.7L228.3 32.7L228.0 32.2L227.6 31.6L227.0 30.8L226.3 29.8L225.9 28.9L225.5 28.5L225.5 28.0L225.7 27.9L226.1 27.6L227.1 27.5L227.6 27.4L228.4 28.4L229.0 29.6L230.0 29.9L231.0 30.7L232.2 31.0L233.2 30.6L234.0 30.4L234.9 31.8L236.0 31.9L237.1 32.1L239.0 32.4L240.4 32.3L242.0 32.3L243.9 32.1L244.6 32.8L244.9 33.6L245.7 33.8L246.3 34.6L247.1 35.0L248.0 34.5L247.8 35.3L248.3 36.2L249.5 36.5L250.1 36.1L250.4 37.1L250.3 38.3L250.6 39.6L251.0 41.5L252.0 42.9L252.4 44.5L252.9 45.7L253.3 46.4L253.8 47.6L254.1 48.6L255.0 49.5L255.8 48.6L256.7 48.3L256.4 48.0L256.8 47.2L257.4 47.1L257.4 45.8L257.8 44.5L257.8 42.4L258.5 41.7L259.2 41.2L259.7 40.9L260.7 39.8L261.6 39.2L262.5 38.0L263.5 37.5L264.4 36.7L264.5 36.0L265.7 35.8L266.4 35.8L267.2 35.5L267.8 35.7L268.1 35.1L268.9 34.7L269.3 35.3L269.8 36.0L270.1 36.3L270.4 37.0L271.1 37.8L271.8 39.3L272.1 40.5L271.7 41.5L272.3 41.7L272.9 41.8L274.0 41.1L274.7 40.6L275.1 41.4L275.3 42.7L275.7 43.8L276.0 44.6L276.1 45.7L276.0 46.8L276.0 47.6L275.8 48.7L275.8 49.7L276.4 49.9L277.0 50.6L277.6 51.0L277.8 52.2L278.0 53.3L278.3 54.0L278.8 54.6L279.3 55.3L280.0 55.7L280.9 56.1L281.3 56.2L281.8 56.1L281.7 55.6L281.3 54.9L281.0 52.9L280.9 52.6L280.6 52.0L279.9 51.5L279.3 51.1L278.6 50.6L277.9 50.3L277.6 49.2L277.4 48.3L276.7 48.3L276.7 47.2L277.0 46.5L277.4 45.4L277.5 44.8L277.6 44.1L278.1 44.0L278.4 44.9L279.2 44.9L280.1 45.3L280.1 46.1L280.6 46.4L281.0 46.9L281.8 47.0L282.4 47.7L282.3 48.3L282.3 48.9L282.7 48.9L283.9 48.0L284.2 47.1L284.9 47.1L285.9 46.5L286.5 46.1L286.8 45.3L286.7 44.1L286.3 42.5L285.8 41.5L284.9 40.8L283.9 39.6L283.2 38.7L283.4 37.7L284.2 36.8L284.9 36.2L285.5 36.0L286.0 35.8L287.0 35.9L287.3 36.3L287.1 37.1L287.6 37.1L287.9 36.6L288.5 36.1L289.5 35.7L290.7 35.4L291.3 35.0L291.7 35.3L292.3 34.9L293.4 34.7L294.2 34.4L295.2 33.6L295.9 32.9L296.6 32.3L297.1 31.7L297.0 30.9L297.5 30.7L297.9 30.0L298.5 29.4L299.1 28.6L299.2 27.8L299.5 27.5L298.8 27.1L299.4 26.7L299.0 26.0L299.4 25.8L298.5 25.1L298.2 24.0L297.7 23.2L296.7 22.7L297.1 22.0L298.1 21.4L298.6 20.8L300.0 20.6L300.0 20.1L298.6 19.8L298.3 19.7L297.4 20.0L296.4 20.1L296.4 19.6L295.5 19.3L295.0 18.7L295.4 18.2L296.0 18.3L297.1 17.6L298.0 17.1L299.1 16.6L299.8 17.0L298.9 17.7L298.6 18.5L299.2 18.3L299.7 17.9L300.7 17.7L301.8 17.6L302.8 18.0L302.7 18.8L302.3 19.5L302.7 19.8L303.6 19.8L304.1 20.3L303.6 20.8L304.1 21.9L303.7 22.9L304.7 22.9L305.4 22.7L306.2 22.5L306.8 22.2L307.0 21.1L306.8 20.0L306.1 19.2L305.4 18.5L305.0 18.0L305.8 17.5L306.7 16.9L307.2 16.6L307.2 15.9L308.1 15.1L308.6 14.6L309.8 14.2L311.0 14.6L312.4 14.0L313.3 13.3L314.4 12.2L315.4 11.2L315.9 10.2L316.7 9.2L317.7 8.7L318.1 7.3L318.0 6.2L318.9 5.2L318.7 4.5L317.6 4.0L316.3 3.5L315.2 3.7L314.5 3.2L314.2 2.5L315.4 1.5L316.0 0.7L317.4 -0.2L318.5 -1.1M333.3 -1.5L333.4 0.0L333.1 1.3L333.4 2.7L333.9 4.2L334.2 6.3L335.4 5.5L336.1 4.6L337.3 4.2L337.6 3.3L339.5 2.6L339.3 1.9L340.0 1.3L340.7 1.3L340.3 0.1L340.7 -0.4L342.0 -1.1M319.4 11.0L319.6 11.5L321.0 11.0L320.8 10.0L320.1 9.4L320.5 8.2L322.2 8.7L321.1 7.0L320.7 5.8L321.0 4.2L320.2 3.2L319.9 4.0L319.7 5.1L319.2 6.5L319.6 8.3L319.4 10.0L319.4 11.0M317.5 16.0L318.7 15.7L319.5 15.0L320.8 15.5L322.1 14.5L323.1 14.2L322.5 13.4L321.0 13.2L319.3 12.1L319.1 13.1L318.9 14.2L317.9 14.2L317.3 15.0L317.5 16.0M318.8 16.1L319.0 17.1L319.5 18.0L319.1 18.6L318.5 19.2L318.4 20.4L318.2 21.2L318.2 21.9L317.5 22.5L317.2 22.0L316.6 22.3L316.3 22.9L315.7 22.9L314.7 22.9L314.4 23.2L313.7 23.6L313.3 24.0L312.6 23.6L312.9 22.9L311.8 22.8L310.8 23.1L309.9 23.3L308.9 23.5L308.4 23.5L309.0 22.9L310.1 22.1L310.8 22.0L312.1 21.9L313.0 21.9L313.6 21.6L314.3 20.4L314.9 20.6L315.7 20.2L316.3 19.6L316.9 19.3L317.4 18.1L317.5 17.3L317.4 16.8L317.9 16.3L318.8 16.1M308.4 23.6L309.1 23.9L309.5 24.6L308.9 26.1L308.2 26.5L307.7 26.1L307.8 25.2L307.2 24.4L307.5 23.9L308.4 23.6M310.0 24.3L310.8 24.1L311.7 24.2L312.2 23.7L311.8 23.2L311.0 23.1L310.1 23.6L310.0 24.3M297.6 34.5L298.2 35.5L298.8 34.5L299.4 32.9L299.1 32.2L298.5 32.4L297.7 33.7L297.6 34.5M286.1 38.3L287.0 39.3L288.0 38.9L288.5 37.8L288.1 37.4L286.8 37.5L286.1 38.3M298.1 39.0L299.7 39.0L299.9 40.3L299.1 41.6L299.1 42.5L299.5 43.5L300.6 43.8L301.5 43.9L301.6 44.9L300.9 44.5L300.1 43.6L299.1 43.7L298.2 43.3L298.1 42.7L297.4 42.1L297.4 41.2L297.9 41.0L297.9 39.9L298.1 39.0M299.5 50.4L300.4 50.0L301.1 49.7L301.8 49.3L302.7 48.5L303.0 47.7L303.7 48.2L304.1 50.2L303.7 51.2L302.9 51.9L301.7 51.3L301.1 50.1L300.4 50.5L299.5 50.4M301.8 45.0L302.7 45.0L303.3 46.5L302.5 47.4L301.8 47.2L301.9 46.0L301.8 45.0M299.4 45.6L300.3 45.8L300.7 47.0L300.1 48.2L299.9 46.9L299.4 46.9L299.4 45.6M294.7 49.1L295.7 48.3L296.6 47.3L297.1 46.2L296.8 47.2L296.0 48.2L295.0 49.2L294.7 49.1M286.5 56.0L287.1 55.5L287.9 55.8L288.7 55.6L288.9 54.8L290.5 54.3L291.3 53.3L292.1 52.6L293.0 52.2L293.7 51.3L294.3 50.6L295.1 51.1L295.8 51.8L296.7 52.1L295.9 52.6L295.4 53.4L295.2 54.3L295.6 55.3L296.4 56.4L295.4 56.7L295.0 57.4L295.0 58.3L294.1 59.0L294.0 60.0L293.6 61.3L292.9 61.3L292.1 61.1L291.3 60.9L290.5 60.6L289.6 60.9L289.2 60.5L288.5 60.5L287.7 60.4L287.6 59.1L287.1 58.5L286.6 58.0L286.5 57.1L286.5 56.0M272.8 52.0L273.4 52.1L275.0 52.3L275.9 53.2L277.2 54.3L278.1 55.4L279.2 55.8L280.0 56.9L281.3 57.4L280.9 58.2L281.9 58.6L282.4 59.8L283.1 59.9L283.6 60.6L283.3 61.8L283.3 63.3L282.2 63.4L281.4 62.5L280.1 61.7L279.7 61.1L278.9 60.3L278.4 59.6L277.6 58.2L276.8 57.3L276.3 56.1L275.5 55.2L274.7 54.2L273.9 53.6L272.9 52.6L272.8 52.0M282.7 64.3L283.5 63.4L284.4 63.5L285.8 63.7L286.2 64.3L288.0 64.4L289.1 64.1L290.1 64.4L290.3 65.1L292.0 65.3L292.1 66.2L291.0 65.8L290.1 65.9L288.5 65.7L287.0 65.3L285.8 65.3L284.0 64.9L282.9 64.4L282.7 64.3M292.1 65.6L293.2 65.9L293.6 65.9L294.1 66.4L292.8 66.3L292.1 65.6M294.3 66.3L295.3 65.6L296.5 66.0L295.8 66.4L294.3 66.3M297.4 66.1L298.9 65.9L300.5 65.8L299.8 66.3L298.5 66.4L297.4 66.1M301.1 67.8L301.9 66.9L302.7 66.5L304.8 65.9L304.1 66.4L302.6 67.1L301.5 67.7L301.1 67.8M296.9 63.0L297.9 63.1L297.9 62.2L297.8 60.5L298.5 60.3L299.0 61.8L300.1 62.9L300.5 61.8L299.6 61.0L298.8 59.4L300.0 58.7L300.8 58.4L299.4 58.4L298.7 58.7L298.1 58.9L297.6 58.2L297.6 57.1L298.4 56.2L299.5 56.5L300.8 56.6L301.8 56.5L302.6 55.9L302.0 57.1L300.7 57.1L299.2 57.0L298.4 57.2L297.5 57.7L297.3 57.3L297.1 58.8L296.4 59.8L296.3 60.5L297.0 61.0L296.9 63.0M305.2 55.7L305.6 56.2L305.3 57.2L306.1 58.3L305.2 57.9L305.0 56.7L305.2 55.7M305.5 60.7L307.5 60.9L308.3 61.4L306.5 61.1L305.5 60.7M303.5 60.6L304.7 60.7L304.4 61.3L303.5 61.1L303.5 60.6M308.4 58.9L309.4 58.2L310.4 58.0L311.5 58.4L311.7 59.8L312.5 60.8L313.4 60.3L313.9 59.7L314.9 59.1L315.9 59.2L317.4 59.9L318.5 60.1L320.2 60.8L322.1 61.4L323.3 62.5L324.1 63.5L325.1 63.6L325.3 64.2L324.6 64.9L325.6 65.5L326.2 66.6L327.2 67.1L327.8 67.8L326.9 67.9L325.1 67.6L324.1 66.4L323.5 65.6L322.2 65.1L321.4 65.4L320.8 65.9L320.8 66.5L320.1 66.8L318.5 66.6L317.4 65.7L316.4 65.9L315.6 65.8L316.1 64.9L315.9 64.4L315.4 62.9L313.8 62.2L312.7 62.0L311.2 61.5L310.5 61.6L310.2 60.8L309.4 60.3L310.1 59.8L311.1 60.0L311.2 59.7L309.8 59.5L309.1 59.0L308.4 58.9M325.8 63.1L327.0 63.1L328.0 63.0L329.0 62.4L329.7 61.7L329.4 62.9L328.5 63.6L327.1 63.8L325.8 63.1M328.3 60.1L329.5 60.7L330.5 61.8L330.2 62.1L329.0 61.0L328.3 60.1M334.0 64.1L335.0 64.8L334.4 65.1L334.0 64.1M336.5 65.4L338.3 66.4L337.7 66.9L336.5 65.4M337.2 66.7L338.4 67.2L338.3 67.5L337.2 67.1L337.2 66.7M338.8 66.9L339.2 66.9L339.8 68.2L339.4 68.3L338.8 66.9M344.0 72.1L344.7 73.0L344.3 73.2L344.0 72.1M344.7 73.6L345.3 73.9L344.9 74.1L344.7 73.6M341.5 77.7L343.0 78.7L344.5 79.8L344.0 79.8L342.5 78.9L341.5 78.0L341.5 77.7M354.8 75.0L355.9 74.8L356.1 75.6L354.9 75.7L354.8 75.0M356.0 73.9L357.4 73.7L356.9 74.3L356.0 74.3L356.0 73.9M290.9 79.8L291.2 81.5L290.9 82.1L291.7 83.9L291.3 84.3L292.1 86.0L292.5 87.1L292.6 89.0L293.2 90.0L293.1 91.0L292.5 91.1L292.5 91.8L293.5 92.4L295.1 92.6L296.4 91.9L297.4 91.4L298.8 91.3L300.1 91.4L301.1 91.4L301.7 90.5L302.6 90.1L303.7 89.7L304.9 89.5L306.4 89.2L308.1 89.1L309.0 89.0L310.1 89.5L311.1 89.7L311.8 90.3L312.7 92.0L313.4 92.4L313.6 91.7L314.5 91.1L315.3 90.2L315.4 91.2L315.1 92.1L315.3 92.6L315.9 92.8L316.0 92.1L316.6 93.1L317.1 93.6L317.3 94.7L318.1 95.5L319.1 95.9L320.2 96.0L321.0 96.3L322.0 95.6L322.5 95.4L323.0 96.1L323.8 96.5L324.8 95.8L325.7 95.3L327.0 95.3L327.5 94.8L327.6 93.7L328.2 92.7L328.6 91.5L329.1 90.5L330.0 89.7L330.5 88.5L330.6 87.5L331.1 86.2L331.0 85.5L330.6 84.7L330.7 83.5L330.4 82.8L329.6 82.0L328.9 81.2L328.3 80.5L328.0 80.0L327.2 79.9L326.7 78.7L326.0 77.9L325.1 77.0L324.0 76.5L323.5 75.5L323.4 74.5L322.8 73.5L322.8 72.5L322.2 72.0L321.3 71.6L320.9 70.3L320.4 69.3L320.0 68.2L319.6 68.8L319.3 70.0L319.1 71.1L319.0 73.0L318.6 74.2L318.1 75.0L317.0 75.0L316.3 74.3L315.1 73.5L314.0 73.1L313.2 72.7L313.0 72.2L313.7 70.9L314.1 70.1L314.4 69.7L314.1 69.4L313.2 69.7L312.4 69.5L311.6 69.4L310.1 69.1L309.7 68.9L309.3 68.8L308.8 69.7L308.0 70.0L307.7 70.8L307.4 71.5L307.0 72.2L306.7 72.5L305.8 72.4L305.2 71.8L304.5 71.3L303.7 71.6L303.0 72.1L302.7 72.9L301.9 73.8L301.2 74.1L301.1 75.1L299.8 75.3L299.7 76.0L298.6 76.9L297.4 77.5L296.3 77.8L294.9 78.2L294.2 78.1L293.0 79.0L292.1 79.3L291.7 80.0L291.2 79.8L290.9 79.8M322.1 98.2L323.5 98.6L324.2 98.6L325.8 98.4L325.8 99.6L325.4 100.5L324.5 101.0L323.5 101.0L322.7 99.7L322.2 98.7L322.1 98.2M350.2 91.9L351.0 92.5L351.8 93.1L352.4 94.4L353.1 94.6L353.4 95.1L354.7 95.5L356.0 95.2L355.8 96.1L355.4 96.7L354.4 97.1L353.9 98.1L352.7 99.1L352.1 98.8L352.7 97.9L351.8 97.3L351.3 96.7L352.1 96.3L352.3 95.3L352.1 94.5L351.4 93.8L350.5 92.8L350.2 91.9M350.2 98.0L351.4 98.4L351.8 99.1L351.1 100.2L350.3 101.0L349.7 101.4L348.7 102.0L348.1 103.4L346.8 104.1L345.8 104.1L344.2 103.7L344.0 103.3L344.6 102.6L345.8 101.6L347.2 101.0L348.0 100.4L348.9 99.4L349.6 98.4L350.2 98.0M226.8 69.5L227.3 70.4L227.9 72.7L227.7 73.5L227.3 74.3L227.0 75.2L226.5 77.1L226.0 78.0L225.4 79.9L225.0 81.6L224.6 82.4L222.9 83.1L222.3 82.8L221.5 82.4L221.2 81.1L220.8 80.3L221.0 78.8L221.9 77.6L222.0 76.9L221.5 74.9L221.9 73.7L223.0 73.5L223.8 73.3L225.2 72.1L225.5 71.1L226.3 70.6L226.8 69.5M257.3 50.6L257.4 49.2L257.6 47.7L258.3 48.2L258.8 49.0L259.3 50.0L259.1 51.0L258.1 51.6L257.6 51.3L257.3 50.6M171.8 7.4L173.3 7.1L174.5 6.8L176.0 6.8L177.7 6.7L178.9 6.3L178.3 5.9L179.2 4.8L178.8 4.6L177.8 4.5L177.6 3.9L177.1 3.1L176.3 2.9L175.9 1.9L175.0 1.5L174.5 1.4L174.9 1.2L175.4 0.6L175.7 -0.1L174.2 -0.2L173.5 -0.1L171.7 -0.4L172.0 0.2L171.7 0.8L172.0 1.3L171.3 1.9L172.0 2.1L172.7 2.4L172.4 2.7L173.0 2.8L174.1 2.6L174.1 3.2L174.6 3.5L174.5 4.2L173.8 4.2L172.9 4.2L173.3 4.6L172.7 4.9L173.4 5.2L172.6 5.6L172.3 5.8L173.3 5.9L174.3 6.1L174.0 6.3L173.0 6.4L172.3 6.8L171.8 7.4M171.5 5.3L171.4 4.3L171.3 3.5L172.0 3.2L171.7 2.6L171.3 2.3L170.1 2.2L169.2 2.4L169.0 3.0L167.5 3.3L167.7 4.0L168.4 4.4L167.6 5.0L167.2 5.6L167.9 6.0L169.2 5.7L170.3 5.4L171.1 5.3L171.5 5.3M185.9 18.5L186.6 18.3L187.2 18.2L187.3 16.8L186.7 16.3L185.8 16.5L186.0 17.3L185.9 18.5M186.1 15.8L186.8 16.1L187.0 15.2L186.9 14.5L186.2 14.9L186.1 15.8M189.9 19.7L190.7 20.0L191.9 20.7L192.6 20.8L192.8 20.0L193.1 19.2L191.9 19.4L190.8 19.3L189.9 19.7M201.0 22.2L202.0 22.1L203.3 22.2L203.8 22.4L202.5 22.6L201.1 22.3L201.0 22.2M209.8 22.5L210.8 22.2L212.1 21.8L211.4 22.5L210.5 22.9L209.8 22.5M188.4 1.5L190.0 1.4L189.8 2.1L188.7 2.3L188.4 1.5M206.5 16.3L207.8 16.3L208.8 16.4L209.7 15.8L211.0 15.5L212.6 15.5L213.0 15.9L214.1 16.2L215.9 16.6L217.0 16.4L218.0 16.5L219.0 16.0L219.1 14.9L218.2 14.4L217.2 13.9L216.1 13.2L215.0 12.8L214.1 12.3L215.0 12.1L215.8 11.3L216.8 10.3L215.7 10.4L214.4 10.7L213.0 11.1L212.4 11.7L212.8 12.2L214.0 12.1L213.4 12.5L212.6 12.7L211.8 13.0L211.0 12.9L211.1 12.3L210.1 12.1L211.1 11.6L209.9 11.2L209.1 10.9L208.3 10.9L207.7 11.7L207.1 12.1L207.1 12.7L206.2 13.2L206.1 13.9L205.5 14.3L205.2 14.9L205.5 15.5L206.3 16.0L206.5 16.3M203.7 16.9L205.0 16.6L206.5 16.4L207.0 16.8L205.5 17.1L204.2 17.2L203.7 16.9M224.2 12.7L225.0 14.5L226.0 15.7L227.0 17.1L226.7 18.6L226.4 19.1L226.5 19.9L227.7 20.3L229.0 20.7L231.4 20.5L231.3 18.6L230.5 18.0L230.7 16.7L232.2 16.6L230.3 15.5L230.2 14.7L228.8 14.3L228.0 13.0L228.8 12.3L230.5 12.2L230.5 10.7L228.5 10.5L226.7 11.1L226.0 11.7L225.1 11.9L224.2 12.7M235.9 12.0L237.0 11.2L238.5 10.9L239.3 11.7L238.0 12.9L236.8 13.6L235.9 13.0L235.9 12.0M251.5 11.1L253.0 10.9L254.7 11.1L256.7 10.9L256.4 11.5L254.5 11.6L253.0 11.7L251.7 12.5L251.5 11.1M281.3 5.9L283.0 5.8L285.0 4.9L286.8 3.6L287.4 1.8L286.7 1.9L285.5 3.6L284.0 4.5L282.0 5.4L281.3 5.9M209.1 58.5L210.0 57.3L211.4 57.2L211.7 58.0L211.5 59.0L210.7 60.0L209.7 60.0L209.1 59.3L209.1 58.5M206.7 60.8L206.9 62.5L207.1 64.0L208.0 65.3L208.5 66.1L208.3 65.0L207.7 63.5L207.3 62.0L206.7 60.8M211.4 67.0L211.8 68.5L212.1 70.0L212.7 71.8L212.2 71.5L211.6 69.5L211.4 67.0M207.5 -3.0L208.5 -4.0L210.0 -3.5L209.0 -2.7L207.5 -3.0M246.5 106.7L248.0 106.6L247.5 107.2L246.5 106.7M139.5 111.5L141.2 111.7L141.5 112.1L139.5 111.5M103.5 99.3L104.0 99.4L103.9 100.8L103.3 100.7L103.5 99.3M161.7 29.3L162.1 29.6L161.9 29.8L161.7 29.3M160.6 29.0L161.3 29.0L161.0 29.4L160.6 29.0M153.8 42.3L154.1 42.5L153.8 42.6L153.8 42.3M230.8 44.8L232.0 44.9L231.5 45.2L230.8 44.8M232.8 78.4L233.3 78.6L233.0 78.8L232.8 78.4M270.2 44.0L270.5 45.0L270.2 46.0L270.0 45.0L270.2 44.0M282.6 59.1L284.3 60.0L283.7 60.5L283.0 59.8L282.6 59.1M19.2 35.9L19.8 36.2L19.4 36.2L19.2 35.9M4.7 71.0L5.6 71.3L5.1 71.3L4.7 71.0M86.0 57.7L86.5 57.9L86.2 58.5L86.0 57.7M112.7 25.2L112.8 25.1L112.7 25.2M52.5 1.3L53.7 0.8L54.9 1.3L53.7 1.8L52.5 1.3M61.2 2.1L62.1 1.9L63.0 2.1L62.1 2.4L61.2 2.1M71.9 2.4L72.5 2.1L73.1 2.4L72.5 2.7L71.9 2.4M74.8 0.3L75.2 -0.3L75.6 0.3L75.2 0.9L74.8 0.3M78.3 0.5L78.9 0.0L79.5 0.5L78.9 1.0L78.3 0.5M70.3 0.2L70.9 -0.2L71.5 0.2L70.9 0.6L70.3 0.2M68.5 1.5L69.0 1.2L69.5 1.5L69.0 1.8L68.5 1.5M77.0 4.9L77.3 4.0L77.6 4.9L77.3 5.8L77.0 4.9M78.6 6.5L78.9 5.9L79.2 6.5L78.9 7.1L78.6 6.5M77.0 4.2L77.4 4.0L77.8 4.2L77.4 4.4L77.0 4.2M88.6 7.7L89.0 7.2L89.4 7.7L89.0 8.2L88.6 7.7M82.4 8.1L82.9 7.8L83.4 8.1L82.9 8.4L82.4 8.1M84.7 7.2L85.3 7.0L85.9 7.2L85.3 7.4L84.7 7.2M103.5 6.5L103.9 5.9L104.3 6.5L103.9 7.1L103.5 6.5M105.2 8.9L105.5 8.7L105.8 8.9L105.5 9.1L105.2 8.9M108.5 6.1L108.9 5.7L109.3 6.1L108.9 6.5L108.5 6.1M107.5 3.2L108.0 2.8L108.5 3.2L108.0 3.6L107.5 3.2M112.0 3.5L113.0 3.0L114.0 3.5L113.0 4.0L112.0 3.5M99.5 3.8L100.5 3.6L101.5 3.8L100.5 4.0L99.5 3.8M101.3 3.9L101.9 3.7L102.5 3.9L101.9 4.1L101.3 3.9M116.8 3.8L118.0 3.5L119.2 3.8L118.0 4.1L116.8 3.8M64.5 0.9L65.0 0.6L65.5 0.9L65.0 1.2L64.5 0.9M58.1 1.0L58.5 0.7L58.9 1.0L58.5 1.3L58.1 1.0M67.0 1.7L67.5 1.4L68.0 1.7L67.5 2.0L67.0 1.7M81.0 1.2L81.5 0.9L82.0 1.2L81.5 1.5L81.0 1.2M83.4 2.3L84.0 2.0L84.6 2.3L84.0 2.6L83.4 2.3M87.0 4.0L87.5 3.7L88.0 4.0L87.5 4.3L87.0 4.0M91.5 5.2L92.0 4.9L92.5 5.2L92.0 5.5L91.5 5.2M95.6 7.7L96.0 7.4L96.4 7.7L96.0 8.0L95.6 7.7M97.7 10.0L98.0 9.7L98.3 10.0L98.0 10.3L97.7 10.0M55.1 5.2L55.5 4.9L55.9 5.2L55.5 5.5L55.1 5.2M49.5 2.3L50.0 2.0L50.5 2.3L50.0 2.6L49.5 2.3M106.0 4.7L106.5 4.4L107.0 4.7L106.5 5.0L106.0 4.7M110.5 4.6L111.0 4.3L111.5 4.6L111.0 4.9L110.5 4.6M114.1 1.7L114.5 1.4L114.9 1.7L114.5 2.0L114.1 1.7M70.9 7.9L71.2 7.7L71.5 7.9L71.2 8.1L70.9 7.9M97.7 1.0L98.5 1.3L98.6 1.7L97.9 1.5L97.7 1.0M188.0 -0.2L188.1 0.2L187.8 0.6L187.8 1.0L188.4 1.1L188.0 1.4L187.7 1.7L187.2 2.0L187.4 2.5L187.5 2.8L187.4 3.1L188.4 3.2L188.5 3.5L189.3 3.3L190.0 3.0L190.7 3.2L191.3 3.4L191.8 3.6L193.0 3.3L194.0 3.0L195.2 2.7L196.1 2.8L196.1 3.1L197.1 3.1L197.5 2.6L198.6 2.5L198.7 1.8L198.5 1.0L199.0 0.1L200.0 -0.2L200.8 0.5L201.8 0.3L201.9 -0.4M187.3 2.1L187.8 1.9L188.3 2.2L188.1 2.5L187.5 2.4L187.3 2.1M188.5 2.7L189.4 2.7L189.7 2.9L189.0 2.9L188.5 2.7M192.2 2.3L192.6 2.4L192.3 2.5L192.2 2.3M189.3 -0.2L189.7 0.3L190.1 0.9L190.4 1.6L190.3 2.1L191.7 2.1L191.9 1.6L193.3 1.4L193.9 1.0L194.1 0.3L194.3 -0.3M193.9 1.3L194.5 0.2L194.4 0.7L193.9 1.3M195.6 0.4L196.4 -0.1L196.3 0.4L195.8 0.6L195.6 0.4M199.3 -1.0L200.0 -0.7L200.7 -1.0L199.7 -0.4L199.3 -1.0M179.9 18.0L180.7 17.6L180.9 17.9L180.2 18.2L179.9 18.0M191.7 21.5L192.1 21.6L191.9 21.7L191.7 21.5M200.3 18.6L201.6 18.9L202.1 19.5L200.9 19.2L200.3 18.6M203.4 18.2L204.1 18.2L203.7 18.5L203.4 18.2M205.2 21.3L205.7 21.1L205.4 21.6L205.2 21.3M203.4 19.0L203.7 18.9L203.6 19.3L203.4 19.0M191.9 12.5L192.3 13.0L192.7 13.3L192.4 13.4L191.9 12.9L191.9 12.5M198.6 19.2L199.4 19.2L200.4 19.5L200.7 19.8M232.8 30.9L233.7 30.6L233.3 30.8L232.8 30.9M227.9 31.4L228.1 31.3L228.1 31.7L227.9 31.4M212.9 25.7L213.1 25.7L212.9 26.3L212.9 25.7M253.7 15.1L255.0 14.8L255.9 15.1L254.5 15.3L253.7 15.1M222.7 19.5L223.3 19.6L223.0 20.3L222.7 19.5M220.0 18.8L221.1 18.6L220.7 19.2L220.0 18.8M222.5 17.0L223.0 17.1L222.8 17.3L222.5 17.0M281.3 44.4L282.0 44.6L281.7 44.9L281.3 44.4M277.1 20.6L278.2 20.5L277.9 20.9L277.1 20.6M293.5 28.1L294.0 28.3L293.8 28.7L293.5 28.1M290.0 28.3L290.5 28.1L290.3 28.6L290.0 28.3M297.4 26.3L298.0 26.1L297.9 26.6L297.4 26.3M309.6 12.5L310.3 12.2L310.1 12.9L309.6 12.5M191.0 44.3L192.1 43.9L191.9 44.7L191.0 44.3M177.2 50.0L177.5 48.9L176.6 48.6L177.7 50.5L177.2 50.0M204.5 74.7L206.3 73.9L206.0 74.3L204.5 74.7M213.3 53.0L213.9 53.9L213.5 54.9L213.3 53.0M214.5 45.3L215.0 45.3L214.8 45.9L214.5 45.3M205.9 66.1L206.6 66.3L206.2 66.9L205.9 66.1M206.5 59.2L206.8 59.5L206.5 60.0L206.5 59.2M208.0 55.3L208.8 55.9L208.1 56.2L208.0 55.3M207.1 68.5L207.8 68.8L207.4 69.1L207.1 68.5M107.6 72.8L108.4 73.1L108.8 73.9L107.9 73.5L107.6 72.8M105.6 46.7L106.4 47.0L106.0 48.4L105.5 48.0L105.6 46.7M91.5 45.5L92.3 45.6L92.6 46.2L91.9 46.3L91.5 45.5M64.6 15.9L65.3 16.1L65.3 16.7L64.7 16.4L64.6 15.9M96.5 30.3L96.9 30.5L96.7 30.8L96.5 30.3M102.9 102.5L103.5 103.1L102.7 103.5L102.9 102.5M102.1 105.0L102.7 106.0L102.0 107.0L102.1 105.0M102.2 107.5L102.9 108.5L102.4 109.5L102.2 107.5M104.0 110.3L105.5 111.0L104.7 111.8L103.5 111.0L104.0 110.3M47.5 2.7L48.0 4.0L48.8 4.7L48.0 3.3L47.5 2.7M41.5 -0.2L42.5 0.4L43.0 1.2L42.0 0.2L41.5 -0.2M43.5 0.7L44.5 1.5L45.0 2.2L44.0 1.3L43.5 0.7M23.0 -0.5L25.0 -0.3L24.0 0.5L22.7 0.2L23.0 -0.5M113.1 10.9L114.5 11.0L115.5 11.1L114.3 11.4L113.1 10.9M116.0 11.9L117.5 11.3L116.9 10.5L116.0 11.3L116.0 11.9M113.0 7.7L115.5 8.0L115.8 8.4L113.5 8.2L113.0 7.7M103.5 16.9L105.5 16.5L105.6 16.4L103.9 16.6L103.5 16.9M99.3 32.3L99.8 32.9L99.5 33.5L99.1 33.0L99.3 32.3M100.5 32.0L101.3 32.6L102.0 33.3L101.5 33.2L100.5 32.0M297.8 44.0L299.0 44.3L298.7 45.3L297.9 44.9L297.8 44.0M300.0 46.7L301.0 47.0L300.5 48.4L300.0 46.7M301.1 46.3L301.6 47.0L300.9 48.0L301.1 46.3M301.3 47.4L302.1 47.5L301.7 47.9L301.3 47.4M301.8 46.0L302.5 46.2L302.6 47.5L301.9 47.0L301.8 46.0M297.5 51.5L299.0 51.5L298.5 52.0L297.5 51.5M293.5 65.8L294.2 65.9L293.9 66.4L293.5 65.8M296.5 67.2L298.3 67.5L297.7 67.8L296.5 67.2M301.5 65.8L302.6 65.7L302.0 66.0L301.5 65.8M303.3 65.2L304.3 65.1L303.7 65.5L303.3 65.2M308.5 65.0L309.2 64.7L308.8 65.5L308.5 65.0M311.7 63.0L312.3 63.3L312.0 64.3L311.7 63.0M310.2 63.0L310.7 62.8L310.4 63.5L310.2 63.0M304.8 59.0L305.5 59.0L305.2 59.3L304.8 59.0M301.8 59.3L303.5 59.3L303.0 59.6L301.8 59.3M300.5 58.7L301.1 58.8L300.8 59.2L300.5 58.7M299.8 62.1L300.7 62.3L300.3 63.1L299.8 62.1M297.9 63.3L298.1 64.0L297.9 64.3L297.9 63.3M290.2 64.4L291.6 64.4L291.3 64.7L290.2 64.4M285.0 60.1L285.7 60.2L285.4 60.7L285.0 60.1M281.7 56.5L282.1 56.7L281.9 57.1L281.7 56.5M274.8 56.0L275.4 56.5L275.1 56.9L274.8 56.0M276.1 58.7L276.7 59.2L276.3 59.3L276.1 58.7M277.0 59.7L277.7 60.6L277.2 60.7L277.0 59.7M279.6 62.8L279.9 62.9L279.7 63.0L279.6 62.8M271.3 50.3L271.4 50.7L271.2 50.5L271.3 50.3M332.1 62.7L333.4 64.0L332.7 64.4L332.1 62.7M334.0 64.1L334.9 64.8L334.6 65.0L334.0 64.1M337.1 66.8L338.3 67.3L338.0 67.4L337.1 66.8M324.1 59.5L324.9 59.6L324.5 59.8L324.1 59.5M327.5 59.9L328.1 60.0L327.8 60.2L327.5 59.9M327.9 66.8L328.6 67.1L328.2 67.4L327.9 66.8M330.0 68.1L330.9 68.8L330.5 68.9L330.0 68.1M345.7 75.0L346.1 75.3L345.8 75.4L345.7 75.0M346.5 76.1L346.9 76.4L346.6 76.6L346.5 76.1M345.3 78.8L345.7 79.0L345.4 79.2L345.3 78.8M314.0 93.2L315.1 93.1L315.4 93.5L314.2 93.5L314.0 93.2M330.5 82.2L330.8 82.8L330.6 83.3L330.5 82.2M307.5 68.9L309.0 68.8L308.5 69.3L307.5 69.2L307.5 68.9M313.8 71.2L314.4 71.3L314.1 71.7L313.8 71.2M345.0 104.3L345.7 104.4L345.3 104.8L345.0 104.3M0.7 101.2L1.3 101.3L1.0 101.6L0.7 101.2M216.7 63.2L217.0 63.5L216.8 63.9L216.7 63.2M217.1 62.4L217.3 62.6L217.2 62.9L217.1 62.4M220.8 68.9L221.0 69.4L220.8 69.3L220.8 68.9M232.7 78.5L233.3 78.6L233.0 78.9L232.7 78.5M185.9 53.7L186.4 53.8L186.1 54.3L185.9 53.7M184.0 57.1L184.3 57.3L184.1 57.5L184.0 57.1M161.3 46.1L161.9 46.3L161.6 46.6L161.3 46.1M160.2 24.7L160.8 24.8L160.5 24.9L160.2 24.7M148.7 18.9L150.4 18.8L152.3 19.7L151.7 19.8L148.7 18.9M163.0 29.0L163.7 28.8L163.3 29.4L163.0 29.0M152.2 40.4L152.6 40.5L152.4 40.7L152.2 40.4M257.4 47.9L257.9 47.7L257.6 48.1L257.4 47.9M250.9 53.3L251.1 53.2L251.0 53.6L250.9 53.3M250.1 46.9L250.3 46.8L250.2 47.0L250.1 46.9M297.0 33.9L297.2 33.8L297.1 34.0L297.0 33.9M305.1 31.4L305.8 30.7L305.4 30.9L305.1 31.4M306.8 29.4L307.2 29.0L307.0 29.3L306.8 29.4M316.9 23.4L317.1 23.3L317.0 23.6L316.9 23.4M303.7 24.1L304.4 24.0L304.1 24.3L303.7 24.1M306.7 22.9L307.0 22.8L306.8 23.3L306.7 22.9M315.7 19.4L316.0 19.2L315.9 19.7L315.7 19.4M323.0 13.9L324.2 13.1L325.4 12.3L326.3 12.0L325.0 12.5L323.0 13.9M327.0 11.8L328.1 11.2L329.3 10.5L330.0 10.0L331.5 9.0L332.5 8.0L333.5 7.2M343.2 2.2L343.8 2.6L343.5 2.3L343.2 2.2M7.2 0.3L7.5 0.4L7.3 0.4L7.2 0.3M315.0 2.5L315.7 2.4L315.4 2.8L315.0 2.5" stroke-width="2.35" vector-effect="non-scaling-stroke"/></g></g></g><g stroke="#000" stroke-width="1.7" stroke-dasharray="1.9 2.25" fill="none"><line x1="50.8" y1="46.27" x2="517.6" y2="46.27"/><line x1="50.8" y1="79.16" x2="517.6" y2="79.16"/><line x1="50.8" y1="112.05" x2="517.6" y2="112.05"/><line x1="50.8" y1="144.94" x2="517.6" y2="144.94"/><line x1="50.8" y1="177.83" x2="517.6" y2="177.83"/><line x1="86.96" y1="187.70" x2="86.96" y2="36.40"/><line x1="152.71" y1="187.70" x2="152.71" y2="36.40"/><line x1="218.45" y1="187.70" x2="218.45" y2="36.40"/><line x1="284.20" y1="187.70" x2="284.20" y2="36.40"/><line x1="349.95" y1="187.70" x2="349.95" y2="36.40"/><line x1="415.69" y1="187.70" x2="415.69" y2="36.40"/><line x1="481.44" y1="187.70" x2="481.44" y2="36.40"/></g><rect x="50.8" y="36.4" width="466.8" height="151.29999999999998" fill="none" stroke="#000" stroke-width="1.6"/><text x="47.6" y="51.3" text-anchor="end" class="lab">50°N</text><text x="47.6" y="84.2" text-anchor="end" class="lab">25°N</text><text x="47.6" y="117.0" text-anchor="end" class="lab">0°</text><text x="47.6" y="149.9" text-anchor="end" class="lab">25°S</text><text x="47.6" y="182.8" text-anchor="end" class="lab">50°S</text><text x="285.2" y="214.7" text-anchor="middle" class="t">(d) Absorbing AOD</text><clipPath id="c188"><rect x="0" y="0" width="355" height="115"/></clipPath><g transform="translate(50.8,225.1) scale(1.31493,1.31565)"><g clip-path="url(#c188)"><g shape-rendering="crispEdges"><rect x="0" y="0" width="10" height="5" fill="#f8511c"/><rect x="10" y="0" width="5" height="5" fill="#e6b716"/><rect x="15" y="0" width="5" height="5" fill="#e69509"/><rect x="20" y="0" width="15" height="5" fill="#e6b716"/><rect x="35" y="0" width="5" height="5" fill="#eb7308"/><rect x="40" y="0" width="15" height="5" fill="#f8511c"/><rect x="55" y="0" width="5" height="5" fill="#e6cf42"/><rect x="60" y="0" width="5" height="5" fill="#e6b716"/><rect x="65" y="0" width="5" height="5" fill="#e69509"/><rect x="70" y="0" width="5" height="5" fill="#eb7308"/><rect x="75" y="0" width="5" height="5" fill="#e69509"/><rect x="80" y="0" width="5" height="5" fill="#f8511c"/><rect x="85" y="0" width="5" height="5" fill="#eb7308"/><rect x="90" y="0" width="10" height="5" fill="#e69509"/><rect x="100" y="0" width="10" height="5" fill="#5728b7"/><rect x="110" y="0" width="10" height="5" fill="#ad366e"/><rect x="120" y="0" width="10" height="5" fill="#000000"/><rect x="130" y="0" width="5" height="5" fill="#ad366e"/><rect x="135" y="0" width="5" height="5" fill="#5728b7"/><rect x="140" y="0" width="5" height="5" fill="#e6b716"/><rect x="145" y="0" width="5" height="5" fill="#eb7308"/><rect x="150" y="0" width="5" height="5" fill="#e69509"/><rect x="155" y="0" width="10" height="5" fill="#e6b716"/><rect x="165" y="0" width="5" height="5" fill="#e69509"/><rect x="170" y="0" width="5" height="5" fill="#000000"/><rect x="175" y="0" width="5" height="5" fill="#e6cf42"/><rect x="180" y="0" width="5" height="5" fill="#f8511c"/><rect x="185" y="0" width="5" height="5" fill="#eb7308"/><rect x="190" y="0" width="5" height="5" fill="#f8511c"/><rect x="195" y="0" width="5" height="5" fill="#eb7308"/><rect x="200" y="0" width="25" height="5" fill="#f8511c"/><rect x="225" y="0" width="5" height="5" fill="#ad366e"/><rect x="230" y="0" width="5" height="5" fill="#5728b7"/><rect x="235" y="0" width="5" height="5" fill="#f8511c"/><rect x="240" y="0" width="20" height="5" fill="#5728b7"/><rect x="260" y="0" width="10" height="5" fill="#ad366e"/><rect x="270" y="0" width="10" height="5" fill="#eb7308"/><rect x="280" y="0" width="5" height="5" fill="#e6cf42"/><rect x="285" y="0" width="5" height="5" fill="#eb7308"/><rect x="290" y="0" width="5" height="5" fill="#f8511c"/><rect x="295" y="0" width="5" height="5" fill="#5728b7"/><rect x="300" y="0" width="15" height="5" fill="#f8511c"/><rect x="315" y="0" width="20" height="5" fill="#5728b7"/><rect x="335" y="0" width="5" height="5" fill="#ad366e"/><rect x="340" y="0" width="5" height="5" fill="#f8511c"/><rect x="345" y="0" width="5" height="5" fill="#5728b7"/><rect x="350" y="0" width="5" height="5" fill="#eb7308"/><rect x="0" y="5" width="5" height="5" fill="#f8511c"/><rect x="5" y="5" width="5" height="5" fill="#ad366e"/><rect x="10" y="5" width="35" height="5" fill="#f8511c"/><rect x="45" y="5" width="5" height="5" fill="#5728b7"/><rect x="50" y="5" width="5" height="5" fill="#eb7308"/><rect x="55" y="5" width="5" height="5" fill="#e6cf42"/><rect x="60" y="5" width="5" height="5" fill="#e69509"/><rect x="65" y="5" width="10" height="5" fill="#eb7308"/><rect x="75" y="5" width="10" height="5" fill="#f8511c"/><rect x="85" y="5" width="5" height="5" fill="#ad366e"/><rect x="90" y="5" width="10" height="5" fill="#f8511c"/><rect x="100" y="5" width="5" height="5" fill="#5728b7"/><rect x="105" y="5" width="5" height="5" fill="#f8511c"/><rect x="110" y="5" width="5" height="5" fill="#5728b7"/><rect x="115" y="5" width="5" height="5" fill="#f8511c"/><rect x="120" y="5" width="5" height="5" fill="#000000"/><rect x="125" y="5" width="10" height="5" fill="#802f95"/><rect x="135" y="5" width="10" height="5" fill="#ad366e"/><rect x="145" y="5" width="10" height="5" fill="#f8511c"/><rect x="155" y="5" width="5" height="5" fill="#5728b7"/><rect x="160" y="5" width="5" height="5" fill="#e43c3e"/><rect x="165" y="5" width="20" height="5" fill="#f8511c"/><rect x="185" y="5" width="10" height="5" fill="#eb7308"/><rect x="195" y="5" width="15" height="5" fill="#f8511c"/><rect x="210" y="5" width="5" height="5" fill="#eb7308"/><rect x="215" y="5" width="10" height="5" fill="#f8511c"/><rect x="225" y="5" width="15" height="5" fill="#ad366e"/><rect x="240" y="5" width="5" height="5" fill="#5728b7"/><rect x="245" y="5" width="5" height="5" fill="#f8511c"/><rect x="250" y="5" width="5" height="5" fill="#ad366e"/><rect x="255" y="5" width="5" height="5" fill="#5728b7"/><rect x="260" y="5" width="10" height="5" fill="#3d26a6"/><rect x="270" y="5" width="5" height="5" fill="#f8511c"/><rect x="275" y="5" width="15" height="5" fill="#eb7308"/><rect x="290" y="5" width="5" height="5" fill="#ad366e"/><rect x="295" y="5" width="5" height="5" fill="#f8511c"/><rect x="300" y="5" width="5" height="5" fill="#eb7308"/><rect x="305" y="5" width="5" height="5" fill="#5728b7"/><rect x="310" y="5" width="5" height="5" fill="#f8511c"/><rect x="315" y="5" width="15" height="5" fill="#5728b7"/><rect x="330" y="5" width="5" height="5" fill="#ad366e"/><rect x="335" y="5" width="10" height="5" fill="#5728b7"/><rect x="345" y="5" width="5" height="5" fill="#f8511c"/><rect x="350" y="5" width="5" height="5" fill="#5728b7"/><rect x="0" y="10" width="5" height="5" fill="#5728b7"/><rect x="5" y="10" width="5" height="5" fill="#802f95"/><rect x="10" y="10" width="5" height="5" fill="#000000"/><rect x="15" y="10" width="5" height="5" fill="#5728b7"/><rect x="20" y="10" width="5" height="5" fill="#e43c3e"/><rect x="25" y="10" width="5" height="5" fill="#f8511c"/><rect x="30" y="10" width="5" height="5" fill="#000000"/><rect x="35" y="10" width="10" height="5" fill="#5728b7"/><rect x="45" y="10" width="5" height="5" fill="#f8511c"/><rect x="50" y="10" width="5" height="5" fill="#eb7308"/><rect x="55" y="10" width="5" height="5" fill="#f1f1bb"/><rect x="60" y="10" width="5" height="5" fill="#e6cf42"/><rect x="65" y="10" width="5" height="5" fill="#3d26a6"/><rect x="70" y="10" width="5" height="5" fill="#ad366e"/><rect x="75" y="10" width="5" height="5" fill="#f8511c"/><rect x="80" y="10" width="5" height="5" fill="#eb7308"/><rect x="85" y="10" width="5" height="5" fill="#ad366e"/><rect x="90" y="10" width="5" height="5" fill="#eb7308"/><rect x="95" y="10" width="10" height="5" fill="#f8511c"/><rect x="105" y="10" width="5" height="5" fill="#eb7308"/><rect x="110" y="10" width="5" height="5" fill="#f8511c"/><rect x="115" y="10" width="10" height="5" fill="#ad366e"/><rect x="125" y="10" width="5" height="5" fill="#3d26a6"/><rect x="130" y="10" width="5" height="5" fill="#5728b7"/><rect x="135" y="10" width="10" height="5" fill="#802f95"/><rect x="145" y="10" width="5" height="5" fill="#ad366e"/><rect x="150" y="10" width="5" height="5" fill="#000000"/><rect x="155" y="10" width="5" height="5" fill="#ad366e"/><rect x="160" y="10" width="10" height="5" fill="#f8511c"/><rect x="170" y="10" width="5" height="5" fill="#e6cf42"/><rect x="175" y="10" width="5" height="5" fill="#e6b716"/><rect x="180" y="10" width="10" height="5" fill="#f8511c"/><rect x="190" y="10" width="10" height="5" fill="#eb7308"/><rect x="200" y="10" width="5" height="5" fill="#f8511c"/><rect x="205" y="10" width="5" height="5" fill="#ad366e"/><rect x="210" y="10" width="5" height="5" fill="#5728b7"/><rect x="215" y="10" width="5" height="5" fill="#ad366e"/><rect x="220" y="10" width="5" height="5" fill="#802f95"/><rect x="225" y="10" width="5" height="5" fill="#f8511c"/><rect x="230" y="10" width="15" height="5" fill="#ad366e"/><rect x="245" y="10" width="5" height="5" fill="#5728b7"/><rect x="250" y="10" width="5" height="5" fill="#ad366e"/><rect x="255" y="10" width="5" height="5" fill="#eb7308"/><rect x="260" y="10" width="10" height="5" fill="#3d26a6"/><rect x="270" y="10" width="5" height="5" fill="#f8511c"/><rect x="275" y="10" width="5" height="5" fill="#eb7308"/><rect x="280" y="10" width="10" height="5" fill="#e69509"/><rect x="290" y="10" width="15" height="5" fill="#e6b716"/><rect x="305" y="10" width="5" height="5" fill="#5728b7"/><rect x="310" y="10" width="5" height="5" fill="#f8511c"/><rect x="315" y="10" width="5" height="5" fill="#3d26a6"/><rect x="320" y="10" width="5" height="5" fill="#000000"/><rect x="325" y="10" width="5" height="5" fill="#5728b7"/><rect x="330" y="10" width="5" height="5" fill="#000000"/><rect x="335" y="10" width="5" height="5" fill="#3d26a6"/><rect x="340" y="10" width="5" height="5" fill="#000000"/><rect x="345" y="10" width="10" height="5" fill="#5728b7"/><rect x="0" y="15" width="10" height="5" fill="#5728b7"/><rect x="10" y="15" width="5" height="5" fill="#141444"/><rect x="15" y="15" width="15" height="5" fill="#5728b7"/><rect x="30" y="15" width="5" height="5" fill="#000000"/><rect x="35" y="15" width="15" height="5" fill="#5728b7"/><rect x="50" y="15" width="5" height="5" fill="#f8511c"/><rect x="55" y="15" width="5" height="5" fill="#f1f1bb"/><rect x="60" y="15" width="5" height="5" fill="#e6e379"/><rect x="65" y="15" width="5" height="5" fill="#eb7308"/><rect x="70" y="15" width="10" height="5" fill="#f8511c"/><rect x="80" y="15" width="5" height="5" fill="#eb7308"/><rect x="85" y="15" width="5" height="5" fill="#ad366e"/><rect x="90" y="15" width="10" height="5" fill="#eb7308"/><rect x="100" y="15" width="5" height="5" fill="#f8511c"/><rect x="105" y="15" width="10" height="5" fill="#5728b7"/><rect x="115" y="15" width="5" height="5" fill="#3d26a6"/><rect x="120" y="15" width="10" height="5" fill="#5728b7"/><rect x="130" y="15" width="5" height="5" fill="#000000"/><rect x="135" y="15" width="30" height="5" fill="#5728b7"/><rect x="165" y="15" width="5" height="5" fill="#ad366e"/><rect x="170" y="15" width="5" height="5" fill="#e6cf42"/><rect x="175" y="15" width="5" height="5" fill="#e6b716"/><rect x="180" y="15" width="5" height="5" fill="#e69509"/><rect x="185" y="15" width="5" height="5" fill="#e6b716"/><rect x="190" y="15" width="5" height="5" fill="#eb7308"/><rect x="195" y="15" width="5" height="5" fill="#f8511c"/><rect x="200" y="15" width="5" height="5" fill="#eb7308"/><rect x="205" y="15" width="5" height="5" fill="#ad366e"/><rect x="210" y="15" width="5" height="5" fill="#eb7308"/><rect x="215" y="15" width="5" height="5" fill="#e6b716"/><rect x="220" y="15" width="25" height="5" fill="#f8511c"/><rect x="245" y="15" width="5" height="5" fill="#eb7308"/><rect x="250" y="15" width="5" height="5" fill="#5728b7"/><rect x="255" y="15" width="5" height="5" fill="#ad366e"/><rect x="260" y="15" width="5" height="5" fill="#eb7308"/><rect x="265" y="15" width="5" height="5" fill="#f8511c"/><rect x="270" y="15" width="5" height="5" fill="#e6cf42"/><rect x="275" y="15" width="5" height="5" fill="#e69509"/><rect x="280" y="15" width="5" height="5" fill="#e6b716"/><rect x="285" y="15" width="5" height="5" fill="#f8511c"/><rect x="290" y="15" width="10" height="5" fill="#ad366e"/><rect x="300" y="15" width="5" height="5" fill="#000000"/><rect x="305" y="15" width="5" height="5" fill="#5728b7"/><rect x="310" y="15" width="5" height="5" fill="#802f95"/><rect x="315" y="15" width="5" height="5" fill="#3d26a6"/><rect x="320" y="15" width="5" height="5" fill="#e43c3e"/><rect x="325" y="15" width="5" height="5" fill="#5728b7"/><rect x="330" y="15" width="15" height="5" fill="#000000"/><rect x="345" y="15" width="5" height="5" fill="#5728b7"/><rect x="350" y="15" width="5" height="5" fill="#000000"/><rect x="0" y="20" width="10" height="5" fill="#5728b7"/><rect x="10" y="20" width="5" height="5" fill="#141444"/><rect x="15" y="20" width="5" height="5" fill="#802f95"/><rect x="20" y="20" width="10" height="5" fill="#5728b7"/><rect x="30" y="20" width="5" height="5" fill="#802f95"/><rect x="35" y="20" width="10" height="5" fill="#5728b7"/><rect x="45" y="20" width="5" height="5" fill="#f8511c"/><rect x="50" y="20" width="5" height="5" fill="#ad366e"/><rect x="55" y="20" width="5" height="5" fill="#eb7308"/><rect x="60" y="20" width="15" height="5" fill="#f1f1bb"/><rect x="75" y="20" width="10" height="5" fill="#e6e379"/><rect x="85" y="20" width="5" height="5" fill="#e6b716"/><rect x="90" y="20" width="5" height="5" fill="#e6e379"/><rect x="95" y="20" width="5" height="5" fill="#eb7308"/><rect x="100" y="20" width="5" height="5" fill="#f8511c"/><rect x="105" y="20" width="5" height="5" fill="#3d26a6"/><rect x="110" y="20" width="10" height="5" fill="#5728b7"/><rect x="120" y="20" width="5" height="5" fill="#ad366e"/><rect x="125" y="20" width="5" height="5" fill="#802f95"/><rect x="130" y="20" width="5" height="5" fill="#5728b7"/><rect x="135" y="20" width="5" height="5" fill="#e43c3e"/><rect x="140" y="20" width="10" height="5" fill="#5728b7"/><rect x="150" y="20" width="5" height="5" fill="#802f95"/><rect x="155" y="20" width="10" height="5" fill="#ad366e"/><rect x="165" y="20" width="5" height="5" fill="#e43c3e"/><rect x="170" y="20" width="20" height="5" fill="#e6cf42"/><rect x="190" y="20" width="5" height="5" fill="#e69509"/><rect x="195" y="20" width="5" height="5" fill="#f8511c"/><rect x="200" y="20" width="5" height="5" fill="#ad366e"/><rect x="205" y="20" width="25" height="5" fill="#f8511c"/><rect x="230" y="20" width="5" height="5" fill="#e6b716"/><rect x="235" y="20" width="15" height="5" fill="#e69509"/><rect x="250" y="20" width="10" height="5" fill="#5728b7"/><rect x="260" y="20" width="5" height="5" fill="#f1f1bb"/><rect x="265" y="20" width="5" height="5" fill="#e6e379"/><rect x="270" y="20" width="5" height="5" fill="#e6cf42"/><rect x="275" y="20" width="5" height="5" fill="#e69509"/><rect x="280" y="20" width="5" height="5" fill="#e6cf42"/><rect x="285" y="20" width="10" height="5" fill="#292684"/><rect x="295" y="20" width="5" height="5" fill="#5728b7"/><rect x="300" y="20" width="5" height="5" fill="#000000"/><rect x="305" y="20" width="5" height="5" fill="#5728b7"/><rect x="310" y="20" width="5" height="5" fill="#3d26a6"/><rect x="315" y="20" width="15" height="5" fill="#000000"/><rect x="330" y="20" width="5" height="5" fill="#5728b7"/><rect x="335" y="20" width="10" height="5" fill="#3d26a6"/><rect x="345" y="20" width="5" height="5" fill="#5728b7"/><rect x="350" y="20" width="5" height="5" fill="#3d26a6"/><rect x="0" y="25" width="10" height="5" fill="#802f95"/><rect x="10" y="25" width="5" height="5" fill="#5728b7"/><rect x="15" y="25" width="5" height="5" fill="#f8511c"/><rect x="20" y="25" width="5" height="5" fill="#e43c3e"/><rect x="25" y="25" width="5" height="5" fill="#f8511c"/><rect x="30" y="25" width="5" height="5" fill="#e69509"/><rect x="35" y="25" width="5" height="5" fill="#f8511c"/><rect x="40" y="25" width="5" height="5" fill="#ad366e"/><rect x="45" y="25" width="15" height="5" fill="#f8511c"/><rect x="60" y="25" width="10" height="5" fill="#e69509"/><rect x="70" y="25" width="5" height="5" fill="#f1f1bb"/><rect x="75" y="25" width="5" height="5" fill="#e6e379"/><rect x="80" y="25" width="10" height="5" fill="#ad366e"/><rect x="90" y="25" width="5" height="5" fill="#e69509"/><rect x="95" y="25" width="5" height="5" fill="#f8511c"/><rect x="100" y="25" width="5" height="5" fill="#ad366e"/><rect x="105" y="25" width="5" height="5" fill="#f8511c"/><rect x="110" y="25" width="10" height="5" fill="#eb7308"/><rect x="120" y="25" width="20" height="5" fill="#f8511c"/><rect x="140" y="25" width="10" height="5" fill="#e69509"/><rect x="150" y="25" width="5" height="5" fill="#eb7308"/><rect x="155" y="25" width="15" height="5" fill="#f8511c"/><rect x="170" y="25" width="5" height="5" fill="#e6cf42"/><rect x="175" y="25" width="20" height="5" fill="#e6e379"/><rect x="195" y="25" width="5" height="5" fill="#e6cf42"/><rect x="200" y="25" width="5" height="5" fill="#e6b716"/><rect x="205" y="25" width="5" height="5" fill="#e69509"/><rect x="210" y="25" width="5" height="5" fill="#eb7308"/><rect x="215" y="25" width="5" height="5" fill="#e6cf42"/><rect x="220" y="25" width="5" height="5" fill="#e6b716"/><rect x="225" y="25" width="5" height="5" fill="#eb7308"/><rect x="230" y="25" width="5" height="5" fill="#e6b716"/><rect x="235" y="25" width="5" height="5" fill="#e69509"/><rect x="240" y="25" width="5" height="5" fill="#eb7308"/><rect x="245" y="25" width="5" height="5" fill="#f8511c"/><rect x="250" y="25" width="5" height="5" fill="#ad366e"/><rect x="255" y="25" width="5" height="5" fill="#5728b7"/><rect x="260" y="25" width="5" height="5" fill="#eb7308"/><rect x="265" y="25" width="5" height="5" fill="#e6cf42"/><rect x="270" y="25" width="5" height="5" fill="#e6b716"/><rect x="275" y="25" width="5" height="5" fill="#e69509"/><rect x="280" y="25" width="5" height="5" fill="#e6e379"/><rect x="285" y="25" width="5" height="5" fill="#3d26a6"/><rect x="290" y="25" width="5" height="5" fill="#5728b7"/><rect x="295" y="25" width="5" height="5" fill="#3d26a6"/><rect x="300" y="25" width="5" height="5" fill="#000000"/><rect x="305" y="25" width="5" height="5" fill="#3d26a6"/><rect x="310" y="25" width="15" height="5" fill="#5728b7"/><rect x="325" y="25" width="5" height="5" fill="#802f95"/><rect x="330" y="25" width="10" height="5" fill="#5728b7"/><rect x="340" y="25" width="5" height="5" fill="#f8511c"/><rect x="345" y="25" width="5" height="5" fill="#ad366e"/><rect x="350" y="25" width="5" height="5" fill="#f8511c"/><rect x="0" y="30" width="5" height="5" fill="#eb7308"/><rect x="5" y="30" width="5" height="5" fill="#e6e379"/><rect x="10" y="30" width="20" height="5" fill="#f8511c"/><rect x="30" y="30" width="5" height="5" fill="#e6b716"/><rect x="35" y="30" width="5" height="5" fill="#ad366e"/><rect x="40" y="30" width="10" height="5" fill="#f8511c"/><rect x="50" y="30" width="10" height="5" fill="#ad366e"/><rect x="60" y="30" width="5" height="5" fill="#f8511c"/><rect x="65" y="30" width="5" height="5" fill="#eb7308"/><rect x="70" y="30" width="5" height="5" fill="#e6b716"/><rect x="75" y="30" width="5" height="5" fill="#f8511c"/><rect x="80" y="30" width="10" height="5" fill="#5728b7"/><rect x="90" y="30" width="15" height="5" fill="#f8511c"/><rect x="105" y="30" width="35" height="5" fill="#e6cf42"/><rect x="140" y="30" width="5" height="5" fill="#e6b716"/><rect x="145" y="30" width="5" height="5" fill="#e6cf42"/><rect x="150" y="30" width="5" height="5" fill="#f8511c"/><rect x="155" y="30" width="5" height="5" fill="#5728b7"/><rect x="160" y="30" width="5" height="5" fill="#eb7308"/><rect x="165" y="30" width="5" height="5" fill="#e6cf42"/><rect x="170" y="30" width="40" height="5" fill="#e6e379"/><rect x="210" y="30" width="5" height="5" fill="#eb7308"/><rect x="215" y="30" width="5" height="5" fill="#e6b716"/><rect x="220" y="30" width="10" height="5" fill="#f8511c"/><rect x="230" y="30" width="5" height="5" fill="#e6b716"/><rect x="235" y="30" width="5" height="5" fill="#ad366e"/><rect x="240" y="30" width="25" height="5" fill="#5728b7"/><rect x="265" y="30" width="5" height="5" fill="#000000"/><rect x="270" y="30" width="5" height="5" fill="#3d26a6"/><rect x="275" y="30" width="5" height="5" fill="#5728b7"/><rect x="280" y="30" width="5" height="5" fill="#802f95"/><rect x="285" y="30" width="10" height="5" fill="#3d26a6"/><rect x="295" y="30" width="5" height="5" fill="#292684"/><rect x="300" y="30" width="10" height="5" fill="#3d26a6"/><rect x="310" y="30" width="10" height="5" fill="#5728b7"/><rect x="320" y="30" width="10" height="5" fill="#f8511c"/><rect x="330" y="30" width="10" height="5" fill="#eb7308"/><rect x="340" y="30" width="5" height="5" fill="#e6cf42"/><rect x="345" y="30" width="5" height="5" fill="#eb7308"/><rect x="350" y="30" width="5" height="5" fill="#e69509"/><rect x="0" y="35" width="5" height="5" fill="#e6cf42"/><rect x="5" y="35" width="10" height="5" fill="#eb7308"/><rect x="15" y="35" width="5" height="5" fill="#e43c3e"/><rect x="20" y="35" width="10" height="5" fill="#e69509"/><rect x="30" y="35" width="5" height="5" fill="#eb7308"/><rect x="35" y="35" width="10" height="5" fill="#f8511c"/><rect x="45" y="35" width="5" height="5" fill="#802f95"/><rect x="50" y="35" width="10" height="5" fill="#5728b7"/><rect x="60" y="35" width="5" height="5" fill="#ad366e"/><rect x="65" y="35" width="5" height="5" fill="#f8511c"/><rect x="70" y="35" width="5" height="5" fill="#e6cf42"/><rect x="75" y="35" width="5" height="5" fill="#eb7308"/><rect x="80" y="35" width="5" height="5" fill="#e6b716"/><rect x="85" y="35" width="5" height="5" fill="#e69509"/><rect x="90" y="35" width="15" height="5" fill="#f8511c"/><rect x="105" y="35" width="10" height="5" fill="#eb7308"/><rect x="115" y="35" width="10" height="5" fill="#e69509"/><rect x="125" y="35" width="5" height="5" fill="#eb7308"/><rect x="130" y="35" width="5" height="5" fill="#e6cf42"/><rect x="135" y="35" width="5" height="5" fill="#eb7308"/><rect x="140" y="35" width="5" height="5" fill="#f8511c"/><rect x="145" y="35" width="10" height="5" fill="#ad366e"/><rect x="155" y="35" width="5" height="5" fill="#3d26a6"/><rect x="160" y="35" width="5" height="5" fill="#5728b7"/><rect x="165" y="35" width="5" height="5" fill="#f8511c"/><rect x="170" y="35" width="15" height="5" fill="#eb7308"/><rect x="185" y="35" width="5" height="5" fill="#e69509"/><rect x="190" y="35" width="5" height="5" fill="#eb7308"/><rect x="195" y="35" width="5" height="5" fill="#f8511c"/><rect x="200" y="35" width="5" height="5" fill="#eb7308"/><rect x="205" y="35" width="10" height="5" fill="#f8511c"/><rect x="215" y="35" width="5" height="5" fill="#eb7308"/><rect x="220" y="35" width="5" height="5" fill="#ad366e"/><rect x="225" y="35" width="5" height="5" fill="#f8511c"/><rect x="230" y="35" width="5" height="5" fill="#ad366e"/><rect x="235" y="35" width="5" height="5" fill="#5728b7"/><rect x="240" y="35" width="5" height="5" fill="#ad366e"/><rect x="245" y="35" width="20" height="5" fill="#5728b7"/><rect x="265" y="35" width="5" height="5" fill="#000000"/><rect x="270" y="35" width="5" height="5" fill="#5728b7"/><rect x="275" y="35" width="5" height="5" fill="#ad366e"/><rect x="280" y="35" width="5" height="5" fill="#000000"/><rect x="285" y="35" width="5" height="5" fill="#3d26a6"/><rect x="290" y="35" width="5" height="5" fill="#ad366e"/><rect x="295" y="35" width="5" height="5" fill="#5728b7"/><rect x="300" y="35" width="5" height="5" fill="#f8511c"/><rect x="305" y="35" width="5" height="5" fill="#802f95"/><rect x="310" y="35" width="5" height="5" fill="#f8511c"/><rect x="315" y="35" width="5" height="5" fill="#e43c3e"/><rect x="320" y="35" width="5" height="5" fill="#f8511c"/><rect x="325" y="35" width="30" height="5" fill="#e69509"/><rect x="0" y="40" width="5" height="5" fill="#e6cf42"/><rect x="5" y="40" width="10" height="5" fill="#eb7308"/><rect x="15" y="40" width="10" height="5" fill="#e69509"/><rect x="25" y="40" width="10" height="5" fill="#eb7308"/><rect x="35" y="40" width="5" height="5" fill="#e69509"/><rect x="40" y="40" width="5" height="5" fill="#e43c3e"/><rect x="45" y="40" width="5" height="5" fill="#f8511c"/><rect x="50" y="40" width="10" height="5" fill="#802f95"/><rect x="60" y="40" width="5" height="5" fill="#5728b7"/><rect x="65" y="40" width="5" height="5" fill="#e43c3e"/><rect x="70" y="40" width="5" height="5" fill="#e69509"/><rect x="75" y="40" width="5" height="5" fill="#f8511c"/><rect x="80" y="40" width="5" height="5" fill="#eb7308"/><rect x="85" y="40" width="5" height="5" fill="#e6b716"/><rect x="90" y="40" width="5" height="5" fill="#f8511c"/><rect x="95" y="40" width="5" height="5" fill="#5728b7"/><rect x="100" y="40" width="5" height="5" fill="#802f95"/><rect x="105" y="40" width="5" height="5" fill="#ad366e"/><rect x="110" y="40" width="10" height="5" fill="#f8511c"/><rect x="120" y="40" width="5" height="5" fill="#e6b716"/><rect x="125" y="40" width="5" height="5" fill="#f8511c"/><rect x="130" y="40" width="15" height="5" fill="#5728b7"/><rect x="145" y="40" width="5" height="5" fill="#3d26a6"/><rect x="150" y="40" width="20" height="5" fill="#000000"/><rect x="170" y="40" width="10" height="5" fill="#141444"/><rect x="180" y="40" width="10" height="5" fill="#000000"/><rect x="190" y="40" width="5" height="5" fill="#5728b7"/><rect x="195" y="40" width="5" height="5" fill="#802f95"/><rect x="200" y="40" width="5" height="5" fill="#5728b7"/><rect x="205" y="40" width="5" height="5" fill="#802f95"/><rect x="210" y="40" width="10" height="5" fill="#ad366e"/><rect x="220" y="40" width="10" height="5" fill="#f8511c"/><rect x="230" y="40" width="5" height="5" fill="#ad366e"/><rect x="235" y="40" width="35" height="5" fill="#5728b7"/><rect x="270" y="40" width="5" height="5" fill="#3d26a6"/><rect x="275" y="40" width="5" height="5" fill="#292684"/><rect x="280" y="40" width="5" height="5" fill="#000000"/><rect x="285" y="40" width="5" height="5" fill="#f8511c"/><rect x="290" y="40" width="5" height="5" fill="#5728b7"/><rect x="295" y="40" width="5" height="5" fill="#000000"/><rect x="300" y="40" width="10" height="5" fill="#5728b7"/><rect x="310" y="40" width="10" height="5" fill="#f8511c"/><rect x="320" y="40" width="5" height="5" fill="#e43c3e"/><rect x="325" y="40" width="30" height="5" fill="#f8511c"/><rect x="0" y="45" width="10" height="5" fill="#e43c3e"/><rect x="10" y="45" width="10" height="5" fill="#f8511c"/><rect x="20" y="45" width="5" height="5" fill="#e69509"/><rect x="25" y="45" width="5" height="5" fill="#f8511c"/><rect x="30" y="45" width="5" height="5" fill="#eb7308"/><rect x="35" y="45" width="5" height="5" fill="#e69509"/><rect x="40" y="45" width="5" height="5" fill="#e43c3e"/><rect x="45" y="45" width="10" height="5" fill="#eb7308"/><rect x="55" y="45" width="5" height="5" fill="#e43c3e"/><rect x="60" y="45" width="5" height="5" fill="#ad366e"/><rect x="65" y="45" width="15" height="5" fill="#f8511c"/><rect x="80" y="45" width="5" height="5" fill="#e69509"/><rect x="85" y="45" width="5" height="5" fill="#eb7308"/><rect x="90" y="45" width="5" height="5" fill="#f8511c"/><rect x="95" y="45" width="5" height="5" fill="#e43c3e"/><rect x="100" y="45" width="5" height="5" fill="#5728b7"/><rect x="105" y="45" width="5" height="5" fill="#000000"/><rect x="110" y="45" width="5" height="5" fill="#f8511c"/><rect x="115" y="45" width="20" height="5" fill="#5728b7"/><rect x="135" y="45" width="5" height="5" fill="#3d26a6"/><rect x="140" y="45" width="30" height="5" fill="#000000"/><rect x="170" y="45" width="5" height="5" fill="#141444"/><rect x="175" y="45" width="10" height="5" fill="#000000"/><rect x="185" y="45" width="5" height="5" fill="#141444"/><rect x="190" y="45" width="5" height="5" fill="#000000"/><rect x="195" y="45" width="5" height="5" fill="#802f95"/><rect x="200" y="45" width="5" height="5" fill="#5728b7"/><rect x="205" y="45" width="5" height="5" fill="#ad366e"/><rect x="210" y="45" width="10" height="5" fill="#5728b7"/><rect x="220" y="45" width="10" height="5" fill="#f8511c"/><rect x="230" y="45" width="5" height="5" fill="#ad366e"/><rect x="235" y="45" width="5" height="5" fill="#eb7308"/><rect x="240" y="45" width="10" height="5" fill="#ad366e"/><rect x="250" y="45" width="5" height="5" fill="#802f95"/><rect x="255" y="45" width="5" height="5" fill="#5728b7"/><rect x="260" y="45" width="15" height="5" fill="#ad366e"/><rect x="275" y="45" width="5" height="5" fill="#292684"/><rect x="280" y="45" width="5" height="5" fill="#3d26a6"/><rect x="285" y="45" width="5" height="5" fill="#5728b7"/><rect x="290" y="45" width="10" height="5" fill="#000000"/><rect x="300" y="45" width="5" height="5" fill="#5728b7"/><rect x="305" y="45" width="5" height="5" fill="#ad366e"/><rect x="310" y="45" width="5" height="5" fill="#f8511c"/><rect x="315" y="45" width="5" height="5" fill="#ad366e"/><rect x="320" y="45" width="5" height="5" fill="#eb7308"/><rect x="325" y="45" width="5" height="5" fill="#ad366e"/><rect x="330" y="45" width="5" height="5" fill="#f8511c"/><rect x="335" y="45" width="5" height="5" fill="#e69509"/><rect x="340" y="45" width="15" height="5" fill="#eb7308"/><rect x="0" y="50" width="5" height="5" fill="#e6b716"/><rect x="5" y="50" width="5" height="5" fill="#5728b7"/><rect x="10" y="50" width="10" height="5" fill="#e6b716"/><rect x="20" y="50" width="10" height="5" fill="#e6cf42"/><rect x="30" y="50" width="10" height="5" fill="#f1f1bb"/><rect x="40" y="50" width="30" height="5" fill="#e6e379"/><rect x="70" y="50" width="5" height="5" fill="#e6cf42"/><rect x="75" y="50" width="5" height="5" fill="#e6e379"/><rect x="80" y="50" width="5" height="5" fill="#e69509"/><rect x="85" y="50" width="5" height="5" fill="#e6b716"/><rect x="90" y="50" width="5" height="5" fill="#e43c3e"/><rect x="95" y="50" width="20" height="5" fill="#5728b7"/><rect x="115" y="50" width="15" height="5" fill="#000000"/><rect x="130" y="50" width="5" height="5" fill="#3d26a6"/><rect x="135" y="50" width="5" height="5" fill="#ad366e"/><rect x="140" y="50" width="10" height="5" fill="#5728b7"/><rect x="150" y="50" width="45" height="5" fill="#000000"/><rect x="195" y="50" width="5" height="5" fill="#292684"/><rect x="200" y="50" width="10" height="5" fill="#5728b7"/><rect x="210" y="50" width="5" height="5" fill="#f8511c"/><rect x="215" y="50" width="5" height="5" fill="#3d26a6"/><rect x="220" y="50" width="10" height="5" fill="#e69509"/><rect x="230" y="50" width="5" height="5" fill="#e6cf42"/><rect x="235" y="50" width="5" height="5" fill="#eb7308"/><rect x="240" y="50" width="20" height="5" fill="#f8511c"/><rect x="260" y="50" width="5" height="5" fill="#eb7308"/><rect x="265" y="50" width="10" height="5" fill="#f8511c"/><rect x="275" y="50" width="5" height="5" fill="#292684"/><rect x="280" y="50" width="15" height="5" fill="#000000"/><rect x="295" y="50" width="5" height="5" fill="#5728b7"/><rect x="300" y="50" width="5" height="5" fill="#000000"/><rect x="305" y="50" width="5" height="5" fill="#ad366e"/><rect x="310" y="50" width="5" height="5" fill="#f8511c"/><rect x="315" y="50" width="5" height="5" fill="#ad366e"/><rect x="320" y="50" width="5" height="5" fill="#eb7308"/><rect x="325" y="50" width="5" height="5" fill="#e6cf42"/><rect x="330" y="50" width="10" height="5" fill="#e6b716"/><rect x="340" y="50" width="5" height="5" fill="#f8511c"/><rect x="345" y="50" width="5" height="5" fill="#e69509"/><rect x="350" y="50" width="5" height="5" fill="#ad366e"/><rect x="0" y="55" width="5" height="5" fill="#e6cf42"/><rect x="5" y="55" width="5" height="5" fill="#e6e379"/><rect x="10" y="55" width="25" height="5" fill="#e6cf42"/><rect x="35" y="55" width="45" height="5" fill="#e6e379"/><rect x="80" y="55" width="10" height="5" fill="#e6cf42"/><rect x="90" y="55" width="5" height="5" fill="#f8511c"/><rect x="95" y="55" width="5" height="5" fill="#000000"/><rect x="100" y="55" width="5" height="5" fill="#3d26a6"/><rect x="105" y="55" width="30" height="5" fill="#000000"/><rect x="135" y="55" width="5" height="5" fill="#f8511c"/><rect x="140" y="55" width="20" height="5" fill="#5728b7"/><rect x="160" y="55" width="20" height="5" fill="#3d26a6"/><rect x="180" y="55" width="35" height="5" fill="#000000"/><rect x="215" y="55" width="5" height="5" fill="#e43c3e"/><rect x="220" y="55" width="10" height="5" fill="#eb7308"/><rect x="230" y="55" width="45" height="5" fill="#e69509"/><rect x="275" y="55" width="5" height="5" fill="#292684"/><rect x="280" y="55" width="5" height="5" fill="#141444"/><rect x="285" y="55" width="25" height="5" fill="#000000"/><rect x="310" y="55" width="5" height="5" fill="#3d26a6"/><rect x="315" y="55" width="5" height="5" fill="#000000"/><rect x="320" y="55" width="15" height="5" fill="#5728b7"/><rect x="335" y="55" width="20" height="5" fill="#eb7308"/><rect x="0" y="60" width="5" height="5" fill="#e6cf42"/><rect x="5" y="60" width="5" height="5" fill="#e6b716"/><rect x="10" y="60" width="15" height="5" fill="#e6cf42"/><rect x="25" y="60" width="20" height="5" fill="#e6e379"/><rect x="45" y="60" width="25" height="5" fill="#f1f1bb"/><rect x="70" y="60" width="10" height="5" fill="#e6e379"/><rect x="80" y="60" width="15" height="5" fill="#e6cf42"/><rect x="95" y="60" width="5" height="5" fill="#e69509"/><rect x="100" y="60" width="10" height="5" fill="#5728b7"/><rect x="110" y="60" width="20" height="5" fill="#000000"/><rect x="130" y="60" width="10" height="5" fill="#5728b7"/><rect x="140" y="60" width="5" height="5" fill="#ad366e"/><rect x="145" y="60" width="5" height="5" fill="#f8511c"/><rect x="150" y="60" width="10" height="5" fill="#eb7308"/><rect x="160" y="60" width="5" height="5" fill="#ad366e"/><rect x="165" y="60" width="5" height="5" fill="#e43c3e"/><rect x="170" y="60" width="5" height="5" fill="#ad366e"/><rect x="175" y="60" width="15" height="5" fill="#3d26a6"/><rect x="190" y="60" width="15" height="5" fill="#000000"/><rect x="205" y="60" width="10" height="5" fill="#5728b7"/><rect x="215" y="60" width="5" height="5" fill="#000000"/><rect x="220" y="60" width="15" height="5" fill="#f8511c"/><rect x="235" y="60" width="5" height="5" fill="#e6cf42"/><rect x="240" y="60" width="15" height="5" fill="#e6e379"/><rect x="255" y="60" width="5" height="5" fill="#e6cf42"/><rect x="260" y="60" width="10" height="5" fill="#e6e379"/><rect x="270" y="60" width="5" height="5" fill="#eb7308"/><rect x="275" y="60" width="10" height="5" fill="#e69509"/><rect x="285" y="60" width="5" height="5" fill="#3d26a6"/><rect x="290" y="60" width="10" height="5" fill="#000000"/><rect x="300" y="60" width="5" height="5" fill="#ad366e"/><rect x="305" y="60" width="5" height="5" fill="#f8511c"/><rect x="310" y="60" width="5" height="5" fill="#5728b7"/><rect x="315" y="60" width="10" height="5" fill="#000000"/><rect x="325" y="60" width="10" height="5" fill="#f8511c"/><rect x="335" y="60" width="5" height="5" fill="#e69509"/><rect x="340" y="60" width="5" height="5" fill="#e6b716"/><rect x="345" y="60" width="5" height="5" fill="#e6cf42"/><rect x="350" y="60" width="5" height="5" fill="#e6b716"/><rect x="0" y="65" width="5" height="5" fill="#e69509"/><rect x="5" y="65" width="10" height="5" fill="#e6cf42"/><rect x="15" y="65" width="5" height="5" fill="#e6e379"/><rect x="20" y="65" width="10" height="5" fill="#e6cf42"/><rect x="30" y="65" width="25" height="5" fill="#e6e379"/><rect x="55" y="65" width="5" height="5" fill="#f1f1bb"/><rect x="60" y="65" width="5" height="5" fill="#e6e379"/><rect x="65" y="65" width="5" height="5" fill="#f1f1bb"/><rect x="70" y="65" width="20" height="5" fill="#e6e379"/><rect x="90" y="65" width="5" height="5" fill="#e6cf42"/><rect x="95" y="65" width="5" height="5" fill="#eb7308"/><rect x="100" y="65" width="5" height="5" fill="#ad366e"/><rect x="105" y="65" width="15" height="5" fill="#000000"/><rect x="120" y="65" width="5" height="5" fill="#141444"/><rect x="125" y="65" width="10" height="5" fill="#ad366e"/><rect x="135" y="65" width="5" height="5" fill="#e69509"/><rect x="140" y="65" width="5" height="5" fill="#e6cf42"/><rect x="145" y="65" width="15" height="5" fill="#e6e379"/><rect x="160" y="65" width="5" height="5" fill="#e6cf42"/><rect x="165" y="65" width="10" height="5" fill="#e6b716"/><rect x="175" y="65" width="5" height="5" fill="#e69509"/><rect x="180" y="65" width="15" height="5" fill="#ad366e"/><rect x="195" y="65" width="5" height="5" fill="#3d26a6"/><rect x="200" y="65" width="15" height="5" fill="#5728b7"/><rect x="215" y="65" width="5" height="5" fill="#ad366e"/><rect x="220" y="65" width="5" height="5" fill="#e69509"/><rect x="225" y="65" width="5" height="5" fill="#f8511c"/><rect x="230" y="65" width="5" height="5" fill="#e6b716"/><rect x="235" y="65" width="10" height="5" fill="#e6e379"/><rect x="245" y="65" width="5" height="5" fill="#e6cf42"/><rect x="250" y="65" width="25" height="5" fill="#e6e379"/><rect x="275" y="65" width="5" height="5" fill="#e6cf42"/><rect x="280" y="65" width="10" height="5" fill="#e6b716"/><rect x="290" y="65" width="5" height="5" fill="#eb7308"/><rect x="295" y="65" width="10" height="5" fill="#ad366e"/><rect x="305" y="65" width="10" height="5" fill="#5728b7"/><rect x="315" y="65" width="5" height="5" fill="#ad366e"/><rect x="320" y="65" width="5" height="5" fill="#5728b7"/><rect x="325" y="65" width="5" height="5" fill="#ad366e"/><rect x="330" y="65" width="5" height="5" fill="#f8511c"/><rect x="335" y="65" width="5" height="5" fill="#eb7308"/><rect x="340" y="65" width="5" height="5" fill="#e6cf42"/><rect x="345" y="65" width="10" height="5" fill="#f8511c"/><rect x="0" y="70" width="5" height="5" fill="#e69509"/><rect x="5" y="70" width="5" height="5" fill="#f1f1bb"/><rect x="10" y="70" width="5" height="5" fill="#e6cf42"/><rect x="15" y="70" width="5" height="5" fill="#e6e379"/><rect x="20" y="70" width="10" height="5" fill="#e6cf42"/><rect x="30" y="70" width="5" height="5" fill="#e6e379"/><rect x="35" y="70" width="15" height="5" fill="#e6cf42"/><rect x="50" y="70" width="40" height="5" fill="#e6e379"/><rect x="90" y="70" width="5" height="5" fill="#e6cf42"/><rect x="95" y="70" width="5" height="5" fill="#eb7308"/><rect x="100" y="70" width="5" height="5" fill="#ad366e"/><rect x="105" y="70" width="5" height="5" fill="#000000"/><rect x="110" y="70" width="5" height="5" fill="#e69509"/><rect x="115" y="70" width="10" height="5" fill="#ad366e"/><rect x="125" y="70" width="5" height="5" fill="#e43c3e"/><rect x="130" y="70" width="5" height="5" fill="#ad366e"/><rect x="135" y="70" width="5" height="5" fill="#5728b7"/><rect x="140" y="70" width="5" height="5" fill="#e6cf42"/><rect x="145" y="70" width="10" height="5" fill="#e6e379"/><rect x="155" y="70" width="5" height="5" fill="#f1f1bb"/><rect x="160" y="70" width="5" height="5" fill="#e6e379"/><rect x="165" y="70" width="10" height="5" fill="#e6cf42"/><rect x="175" y="70" width="5" height="5" fill="#e6b716"/><rect x="180" y="70" width="15" height="5" fill="#f8511c"/><rect x="195" y="70" width="5" height="5" fill="#eb7308"/><rect x="200" y="70" width="5" height="5" fill="#f8511c"/><rect x="205" y="70" width="15" height="5" fill="#ad366e"/><rect x="220" y="70" width="5" height="5" fill="#eb7308"/><rect x="225" y="70" width="5" height="5" fill="#f8511c"/><rect x="230" y="70" width="5" height="5" fill="#e69509"/><rect x="235" y="70" width="5" height="5" fill="#e6cf42"/><rect x="240" y="70" width="20" height="5" fill="#e6e379"/><rect x="260" y="70" width="15" height="5" fill="#e6cf42"/><rect x="275" y="70" width="5" height="5" fill="#e6e379"/><rect x="280" y="70" width="5" height="5" fill="#e6cf42"/><rect x="285" y="70" width="5" height="5" fill="#eb7308"/><rect x="290" y="70" width="5" height="5" fill="#e69509"/><rect x="295" y="70" width="5" height="5" fill="#e43c3e"/><rect x="300" y="70" width="5" height="5" fill="#ad366e"/><rect x="305" y="70" width="5" height="5" fill="#000000"/><rect x="310" y="70" width="5" height="5" fill="#ad366e"/><rect x="315" y="70" width="5" height="5" fill="#f8511c"/><rect x="320" y="70" width="5" height="5" fill="#ad366e"/><rect x="325" y="70" width="5" height="5" fill="#f8511c"/><rect x="330" y="70" width="5" height="5" fill="#e6b716"/><rect x="335" y="70" width="5" height="5" fill="#e69509"/><rect x="340" y="70" width="5" height="5" fill="#e6cf42"/><rect x="345" y="70" width="5" height="5" fill="#f8511c"/><rect x="350" y="70" width="5" height="5" fill="#eb7308"/><rect x="0" y="75" width="5" height="5" fill="#f1f1bb"/><rect x="5" y="75" width="15" height="5" fill="#e6cf42"/><rect x="20" y="75" width="5" height="5" fill="#e69509"/><rect x="25" y="75" width="15" height="5" fill="#e6cf42"/><rect x="40" y="75" width="5" height="5" fill="#e6b716"/><rect x="45" y="75" width="5" height="5" fill="#e6cf42"/><rect x="50" y="75" width="5" height="5" fill="#e6b716"/><rect x="55" y="75" width="5" height="5" fill="#e6cf42"/><rect x="60" y="75" width="5" height="5" fill="#e6b716"/><rect x="65" y="75" width="30" height="5" fill="#e6cf42"/><rect x="95" y="75" width="5" height="5" fill="#eb7308"/><rect x="100" y="75" width="10" height="5" fill="#ad366e"/><rect x="110" y="75" width="5" height="5" fill="#f8511c"/><rect x="115" y="75" width="10" height="5" fill="#e69509"/><rect x="125" y="75" width="5" height="5" fill="#f8511c"/><rect x="130" y="75" width="5" height="5" fill="#eb7308"/><rect x="135" y="75" width="5" height="5" fill="#5728b7"/><rect x="140" y="75" width="5" height="5" fill="#e6cf42"/><rect x="145" y="75" width="10" height="5" fill="#e6e379"/><rect x="155" y="75" width="5" height="5" fill="#f1f1bb"/><rect x="160" y="75" width="5" height="5" fill="#e6e379"/><rect x="165" y="75" width="10" height="5" fill="#e6cf42"/><rect x="175" y="75" width="5" height="5" fill="#e6b716"/><rect x="180" y="75" width="5" height="5" fill="#e6cf42"/><rect x="185" y="75" width="5" height="5" fill="#e43c3e"/><rect x="190" y="75" width="5" height="5" fill="#f8511c"/><rect x="195" y="75" width="5" height="5" fill="#e6b716"/><rect x="200" y="75" width="10" height="5" fill="#f8511c"/><rect x="210" y="75" width="5" height="5" fill="#ad366e"/><rect x="215" y="75" width="5" height="5" fill="#eb7308"/><rect x="220" y="75" width="5" height="5" fill="#e69509"/><rect x="225" y="75" width="5" height="5" fill="#eb7308"/><rect x="230" y="75" width="5" height="5" fill="#e6b716"/><rect x="235" y="75" width="5" height="5" fill="#e6cf42"/><rect x="240" y="75" width="5" height="5" fill="#e6e379"/><rect x="245" y="75" width="10" height="5" fill="#e6cf42"/><rect x="255" y="75" width="25" height="5" fill="#e6e379"/><rect x="280" y="75" width="5" height="5" fill="#e6cf42"/><rect x="285" y="75" width="10" height="5" fill="#e69509"/><rect x="295" y="75" width="5" height="5" fill="#f8511c"/><rect x="300" y="75" width="5" height="5" fill="#e43c3e"/><rect x="305" y="75" width="5" height="5" fill="#f8511c"/><rect x="310" y="75" width="5" height="5" fill="#e6cf42"/><rect x="315" y="75" width="5" height="5" fill="#f8511c"/><rect x="320" y="75" width="10" height="5" fill="#ad366e"/><rect x="330" y="75" width="5" height="5" fill="#e6b716"/><rect x="335" y="75" width="5" height="5" fill="#eb7308"/><rect x="340" y="75" width="5" height="5" fill="#e6cf42"/><rect x="345" y="75" width="10" height="5" fill="#eb7308"/><rect x="0" y="80" width="10" height="5" fill="#e6b716"/><rect x="10" y="80" width="15" height="5" fill="#e6cf42"/><rect x="25" y="80" width="5" height="5" fill="#f8511c"/><rect x="30" y="80" width="5" height="5" fill="#e6cf42"/><rect x="35" y="80" width="5" height="5" fill="#f8511c"/><rect x="40" y="80" width="15" height="5" fill="#e6b716"/><rect x="55" y="80" width="25" height="5" fill="#e6cf42"/><rect x="80" y="80" width="5" height="5" fill="#e6b716"/><rect x="85" y="80" width="15" height="5" fill="#e6cf42"/><rect x="100" y="80" width="5" height="5" fill="#e6b716"/><rect x="105" y="80" width="5" height="5" fill="#f8511c"/><rect x="110" y="80" width="5" height="5" fill="#e6e379"/><rect x="115" y="80" width="5" height="5" fill="#f8511c"/><rect x="120" y="80" width="10" height="5" fill="#e6b716"/><rect x="130" y="80" width="5" height="5" fill="#f8511c"/><rect x="135" y="80" width="10" height="5" fill="#e6b716"/><rect x="145" y="80" width="55" height="5" fill="#e6cf42"/><rect x="200" y="80" width="5" height="5" fill="#e6e379"/><rect x="205" y="80" width="5" height="5" fill="#f8511c"/><rect x="210" y="80" width="5" height="5" fill="#ad366e"/><rect x="215" y="80" width="60" height="5" fill="#e6cf42"/><rect x="275" y="80" width="5" height="5" fill="#e6b716"/><rect x="280" y="80" width="10" height="5" fill="#e69509"/><rect x="290" y="80" width="10" height="5" fill="#e6b716"/><rect x="300" y="80" width="5" height="5" fill="#ad366e"/><rect x="305" y="80" width="30" height="5" fill="#f8511c"/><rect x="335" y="80" width="5" height="5" fill="#5728b7"/><rect x="340" y="80" width="5" height="5" fill="#ad366e"/><rect x="345" y="80" width="10" height="5" fill="#e6b716"/><rect x="0" y="85" width="5" height="5" fill="#f8511c"/><rect x="5" y="85" width="5" height="5" fill="#e6b716"/><rect x="10" y="85" width="10" height="5" fill="#e6cf42"/><rect x="20" y="85" width="5" height="5" fill="#e6b716"/><rect x="25" y="85" width="5" height="5" fill="#eb7308"/><rect x="30" y="85" width="5" height="5" fill="#e6b716"/><rect x="35" y="85" width="5" height="5" fill="#eb7308"/><rect x="40" y="85" width="5" height="5" fill="#f8511c"/><rect x="45" y="85" width="5" height="5" fill="#e43c3e"/><rect x="50" y="85" width="5" height="5" fill="#e6cf42"/><rect x="55" y="85" width="5" height="5" fill="#e6e379"/><rect x="60" y="85" width="5" height="5" fill="#e6cf42"/><rect x="65" y="85" width="5" height="5" fill="#e6b716"/><rect x="70" y="85" width="5" height="5" fill="#e6e379"/><rect x="75" y="85" width="5" height="5" fill="#e6b716"/><rect x="80" y="85" width="15" height="5" fill="#e6cf42"/><rect x="95" y="85" width="5" height="5" fill="#e6e379"/><rect x="100" y="85" width="5" height="5" fill="#e6cf42"/><rect x="105" y="85" width="5" height="5" fill="#f8511c"/><rect x="110" y="85" width="5" height="5" fill="#e6cf42"/><rect x="115" y="85" width="5" height="5" fill="#ad366e"/><rect x="120" y="85" width="5" height="5" fill="#e43c3e"/><rect x="125" y="85" width="10" height="5" fill="#f8511c"/><rect x="135" y="85" width="15" height="5" fill="#e6b716"/><rect x="150" y="85" width="10" height="5" fill="#e6cf42"/><rect x="160" y="85" width="5" height="5" fill="#e6e379"/><rect x="165" y="85" width="15" height="5" fill="#e6cf42"/><rect x="180" y="85" width="5" height="5" fill="#e6e379"/><rect x="185" y="85" width="5" height="5" fill="#f1f1bb"/><rect x="190" y="85" width="5" height="5" fill="#e6e379"/><rect x="195" y="85" width="5" height="5" fill="#e6cf42"/><rect x="200" y="85" width="5" height="5" fill="#e6e379"/><rect x="205" y="85" width="5" height="5" fill="#e69509"/><rect x="210" y="85" width="5" height="5" fill="#802f95"/><rect x="215" y="85" width="10" height="5" fill="#e6b716"/><rect x="225" y="85" width="10" height="5" fill="#e6cf42"/><rect x="235" y="85" width="5" height="5" fill="#e6b716"/><rect x="240" y="85" width="15" height="5" fill="#e6cf42"/><rect x="255" y="85" width="5" height="5" fill="#e6b716"/><rect x="260" y="85" width="5" height="5" fill="#e6cf42"/><rect x="265" y="85" width="5" height="5" fill="#e6b716"/><rect x="270" y="85" width="5" height="5" fill="#e6cf42"/><rect x="275" y="85" width="5" height="5" fill="#e6b716"/><rect x="280" y="85" width="5" height="5" fill="#f8511c"/><rect x="285" y="85" width="20" height="5" fill="#e6b716"/><rect x="305" y="85" width="5" height="5" fill="#ad366e"/><rect x="310" y="85" width="5" height="5" fill="#e69509"/><rect x="315" y="85" width="5" height="5" fill="#e6b716"/><rect x="320" y="85" width="10" height="5" fill="#ad366e"/><rect x="330" y="85" width="5" height="5" fill="#f8511c"/><rect x="335" y="85" width="15" height="5" fill="#ad366e"/><rect x="350" y="85" width="5" height="5" fill="#e6b716"/><rect x="0" y="90" width="5" height="5" fill="#ad366e"/><rect x="5" y="90" width="5" height="5" fill="#e69509"/><rect x="10" y="90" width="5" height="5" fill="#5728b7"/><rect x="15" y="90" width="5" height="5" fill="#802f95"/><rect x="20" y="90" width="5" height="5" fill="#eb7308"/><rect x="25" y="90" width="5" height="5" fill="#ad366e"/><rect x="30" y="90" width="5" height="5" fill="#f8511c"/><rect x="35" y="90" width="5" height="5" fill="#5728b7"/><rect x="40" y="90" width="5" height="5" fill="#e43c3e"/><rect x="45" y="90" width="5" height="5" fill="#5728b7"/><rect x="50" y="90" width="5" height="5" fill="#ad366e"/><rect x="55" y="90" width="5" height="5" fill="#eb7308"/><rect x="60" y="90" width="5" height="5" fill="#5728b7"/><rect x="65" y="90" width="5" height="5" fill="#ad366e"/><rect x="70" y="90" width="5" height="5" fill="#e6b716"/><rect x="75" y="90" width="5" height="5" fill="#f8511c"/><rect x="80" y="90" width="5" height="5" fill="#eb7308"/><rect x="85" y="90" width="5" height="5" fill="#e69509"/><rect x="90" y="90" width="10" height="5" fill="#e6b716"/><rect x="100" y="90" width="5" height="5" fill="#e69509"/><rect x="105" y="90" width="5" height="5" fill="#ad366e"/><rect x="110" y="90" width="5" height="5" fill="#e6cf42"/><rect x="115" y="90" width="15" height="5" fill="#ad366e"/><rect x="130" y="90" width="5" height="5" fill="#eb7308"/><rect x="135" y="90" width="5" height="5" fill="#ad366e"/><rect x="140" y="90" width="5" height="5" fill="#e69509"/><rect x="145" y="90" width="5" height="5" fill="#f8511c"/><rect x="150" y="90" width="5" height="5" fill="#e43c3e"/><rect x="155" y="90" width="5" height="5" fill="#802f95"/><rect x="160" y="90" width="5" height="5" fill="#f8511c"/><rect x="165" y="90" width="5" height="5" fill="#e43c3e"/><rect x="170" y="90" width="10" height="5" fill="#f8511c"/><rect x="180" y="90" width="5" height="5" fill="#e43c3e"/><rect x="185" y="90" width="10" height="5" fill="#eb7308"/><rect x="195" y="90" width="5" height="5" fill="#e6b716"/><rect x="200" y="90" width="5" height="5" fill="#eb7308"/><rect x="205" y="90" width="15" height="5" fill="#f8511c"/><rect x="220" y="90" width="10" height="5" fill="#e6cf42"/><rect x="230" y="90" width="5" height="5" fill="#e6b716"/><rect x="235" y="90" width="5" height="5" fill="#eb7308"/><rect x="240" y="90" width="5" height="5" fill="#e69509"/><rect x="245" y="90" width="5" height="5" fill="#eb7308"/><rect x="250" y="90" width="5" height="5" fill="#e69509"/><rect x="255" y="90" width="5" height="5" fill="#f8511c"/><rect x="260" y="90" width="5" height="5" fill="#eb7308"/><rect x="265" y="90" width="10" height="5" fill="#e69509"/><rect x="275" y="90" width="15" height="5" fill="#e43c3e"/><rect x="290" y="90" width="5" height="5" fill="#ad366e"/><rect x="295" y="90" width="5" height="5" fill="#f8511c"/><rect x="300" y="90" width="5" height="5" fill="#ad366e"/><rect x="305" y="90" width="10" height="5" fill="#5728b7"/><rect x="315" y="90" width="5" height="5" fill="#f8511c"/><rect x="320" y="90" width="5" height="5" fill="#eb7308"/><rect x="325" y="90" width="5" height="5" fill="#f8511c"/><rect x="330" y="90" width="10" height="5" fill="#5728b7"/><rect x="340" y="90" width="5" height="5" fill="#3d26a6"/><rect x="345" y="90" width="10" height="5" fill="#ad366e"/><rect x="0" y="95" width="5" height="5" fill="#3d26a6"/><rect x="5" y="95" width="5" height="5" fill="#f8511c"/><rect x="10" y="95" width="5" height="5" fill="#5728b7"/><rect x="15" y="95" width="5" height="5" fill="#3d26a6"/><rect x="20" y="95" width="5" height="5" fill="#5728b7"/><rect x="25" y="95" width="5" height="5" fill="#ad366e"/><rect x="30" y="95" width="5" height="5" fill="#3d26a6"/><rect x="35" y="95" width="5" height="5" fill="#802f95"/><rect x="40" y="95" width="5" height="5" fill="#5728b7"/><rect x="45" y="95" width="5" height="5" fill="#e43c3e"/><rect x="50" y="95" width="5" height="5" fill="#5728b7"/><rect x="55" y="95" width="5" height="5" fill="#eb7308"/><rect x="60" y="95" width="30" height="5" fill="#5728b7"/><rect x="90" y="95" width="5" height="5" fill="#ad366e"/><rect x="95" y="95" width="5" height="5" fill="#5728b7"/><rect x="100" y="95" width="10" height="5" fill="#ad366e"/><rect x="110" y="95" width="5" height="5" fill="#e6cf42"/><rect x="115" y="95" width="5" height="5" fill="#eb7308"/><rect x="120" y="95" width="5" height="5" fill="#e69509"/><rect x="125" y="95" width="5" height="5" fill="#5728b7"/><rect x="130" y="95" width="5" height="5" fill="#e69509"/><rect x="135" y="95" width="5" height="5" fill="#802f95"/><rect x="140" y="95" width="10" height="5" fill="#ad366e"/><rect x="150" y="95" width="10" height="5" fill="#5728b7"/><rect x="160" y="95" width="5" height="5" fill="#3d26a6"/><rect x="165" y="95" width="5" height="5" fill="#000000"/><rect x="170" y="95" width="10" height="5" fill="#802f95"/><rect x="180" y="95" width="5" height="5" fill="#3d26a6"/><rect x="185" y="95" width="5" height="5" fill="#292684"/><rect x="190" y="95" width="5" height="5" fill="#802f95"/><rect x="195" y="95" width="5" height="5" fill="#f8511c"/><rect x="200" y="95" width="5" height="5" fill="#802f95"/><rect x="205" y="95" width="5" height="5" fill="#f8511c"/><rect x="210" y="95" width="5" height="5" fill="#5728b7"/><rect x="215" y="95" width="5" height="5" fill="#ad366e"/><rect x="220" y="95" width="5" height="5" fill="#eb7308"/><rect x="225" y="95" width="5" height="5" fill="#ad366e"/><rect x="230" y="95" width="5" height="5" fill="#802f95"/><rect x="235" y="95" width="5" height="5" fill="#ad366e"/><rect x="240" y="95" width="5" height="5" fill="#eb7308"/><rect x="245" y="95" width="10" height="5" fill="#5728b7"/><rect x="255" y="95" width="5" height="5" fill="#f8511c"/><rect x="260" y="95" width="25" height="5" fill="#5728b7"/><rect x="285" y="95" width="5" height="5" fill="#292684"/><rect x="290" y="95" width="5" height="5" fill="#f8511c"/><rect x="295" y="95" width="5" height="5" fill="#5728b7"/><rect x="300" y="95" width="5" height="5" fill="#f8511c"/><rect x="305" y="95" width="10" height="5" fill="#5728b7"/><rect x="315" y="95" width="10" height="5" fill="#ad366e"/><rect x="325" y="95" width="5" height="5" fill="#e69509"/><rect x="330" y="95" width="5" height="5" fill="#ad366e"/><rect x="335" y="95" width="5" height="5" fill="#5728b7"/><rect x="340" y="95" width="5" height="5" fill="#3d26a6"/><rect x="345" y="95" width="5" height="5" fill="#eb7308"/><rect x="350" y="95" width="5" height="5" fill="#ad366e"/><rect x="0" y="100" width="10" height="5" fill="#3d26a6"/><rect x="10" y="100" width="5" height="5" fill="#5728b7"/><rect x="15" y="100" width="10" height="5" fill="#3d26a6"/><rect x="25" y="100" width="5" height="5" fill="#5728b7"/><rect x="30" y="100" width="5" height="5" fill="#3d26a6"/><rect x="35" y="100" width="10" height="5" fill="#292684"/><rect x="45" y="100" width="5" height="5" fill="#000000"/><rect x="50" y="100" width="5" height="5" fill="#3d26a6"/><rect x="55" y="100" width="5" height="5" fill="#292684"/><rect x="60" y="100" width="5" height="5" fill="#000000"/><rect x="65" y="100" width="5" height="5" fill="#292684"/><rect x="70" y="100" width="5" height="5" fill="#e43c3e"/><rect x="75" y="100" width="5" height="5" fill="#5728b7"/><rect x="80" y="100" width="5" height="5" fill="#3d26a6"/><rect x="85" y="100" width="5" height="5" fill="#f8511c"/><rect x="90" y="100" width="10" height="5" fill="#3d26a6"/><rect x="100" y="100" width="5" height="5" fill="#5728b7"/><rect x="105" y="100" width="5" height="5" fill="#292684"/><rect x="110" y="100" width="5" height="5" fill="#e6cf42"/><rect x="115" y="100" width="10" height="5" fill="#f8511c"/><rect x="125" y="100" width="5" height="5" fill="#ad366e"/><rect x="130" y="100" width="10" height="5" fill="#5728b7"/><rect x="140" y="100" width="5" height="5" fill="#3d26a6"/><rect x="145" y="100" width="5" height="5" fill="#5728b7"/><rect x="150" y="100" width="10" height="5" fill="#3d26a6"/><rect x="160" y="100" width="5" height="5" fill="#5728b7"/><rect x="165" y="100" width="5" height="5" fill="#ad366e"/><rect x="170" y="100" width="10" height="5" fill="#000000"/><rect x="180" y="100" width="15" height="5" fill="#292684"/><rect x="195" y="100" width="5" height="5" fill="#5728b7"/><rect x="200" y="100" width="10" height="5" fill="#000000"/><rect x="210" y="100" width="10" height="5" fill="#3d26a6"/><rect x="220" y="100" width="30" height="5" fill="#292684"/><rect x="250" y="100" width="5" height="5" fill="#3d26a6"/><rect x="255" y="100" width="5" height="5" fill="#000000"/><rect x="260" y="100" width="5" height="5" fill="#3d26a6"/><rect x="265" y="100" width="10" height="5" fill="#292684"/><rect x="275" y="100" width="10" height="5" fill="#5728b7"/><rect x="285" y="100" width="5" height="5" fill="#3d26a6"/><rect x="290" y="100" width="25" height="5" fill="#5728b7"/><rect x="315" y="100" width="5" height="5" fill="#3d26a6"/><rect x="320" y="100" width="5" height="5" fill="#5728b7"/><rect x="325" y="100" width="5" height="5" fill="#ad366e"/><rect x="330" y="100" width="10" height="5" fill="#5728b7"/><rect x="340" y="100" width="5" height="5" fill="#3d26a6"/><rect x="345" y="100" width="10" height="5" fill="#5728b7"/><rect x="0" y="105" width="10" height="5" fill="#141444"/><rect x="10" y="105" width="15" height="5" fill="#000000"/><rect x="25" y="105" width="15" height="5" fill="#141444"/><rect x="40" y="105" width="10" height="5" fill="#292684"/><rect x="50" y="105" width="45" height="5" fill="#000000"/><rect x="95" y="105" width="5" height="5" fill="#292684"/><rect x="100" y="105" width="10" height="5" fill="#000000"/><rect x="110" y="105" width="5" height="5" fill="#ad366e"/><rect x="115" y="105" width="5" height="5" fill="#292684"/><rect x="120" y="105" width="5" height="5" fill="#5728b7"/><rect x="125" y="105" width="5" height="5" fill="#802f95"/><rect x="130" y="105" width="5" height="5" fill="#3d26a6"/><rect x="135" y="105" width="5" height="5" fill="#292684"/><rect x="140" y="105" width="5" height="5" fill="#000000"/><rect x="145" y="105" width="5" height="5" fill="#292684"/><rect x="150" y="105" width="20" height="5" fill="#000000"/><rect x="170" y="105" width="5" height="5" fill="#3d26a6"/><rect x="175" y="105" width="45" height="5" fill="#000000"/><rect x="220" y="105" width="5" height="5" fill="#292684"/><rect x="225" y="105" width="5" height="5" fill="#000000"/><rect x="230" y="105" width="5" height="5" fill="#292684"/><rect x="235" y="105" width="15" height="5" fill="#000000"/><rect x="250" y="105" width="5" height="5" fill="#3d26a6"/><rect x="255" y="105" width="30" height="5" fill="#000000"/><rect x="285" y="105" width="5" height="5" fill="#292684"/><rect x="290" y="105" width="15" height="5" fill="#3d26a6"/><rect x="305" y="105" width="5" height="5" fill="#5728b7"/><rect x="310" y="105" width="5" height="5" fill="#3d26a6"/><rect x="315" y="105" width="5" height="5" fill="#292684"/><rect x="320" y="105" width="5" height="5" fill="#3d26a6"/><rect x="325" y="105" width="5" height="5" fill="#5728b7"/><rect x="330" y="105" width="5" height="5" fill="#000000"/><rect x="335" y="105" width="5" height="5" fill="#3d26a6"/><rect x="340" y="105" width="5" height="5" fill="#292684"/><rect x="345" y="105" width="10" height="5" fill="#3d26a6"/><rect x="0" y="110" width="5" height="5" fill="#000000"/><rect x="5" y="110" width="5" height="5" fill="#292684"/><rect x="10" y="110" width="5" height="5" fill="#3d26a6"/><rect x="15" y="110" width="10" height="5" fill="#5728b7"/><rect x="25" y="110" width="5" height="5" fill="#802f95"/><rect x="30" y="110" width="5" height="5" fill="#292684"/><rect x="35" y="110" width="35" height="5" fill="#000000"/><rect x="70" y="110" width="5" height="5" fill="#5728b7"/><rect x="75" y="110" width="5" height="5" fill="#000000"/><rect x="80" y="110" width="5" height="5" fill="#3d26a6"/><rect x="85" y="110" width="15" height="5" fill="#000000"/><rect x="100" y="110" width="5" height="5" fill="#3d26a6"/><rect x="105" y="110" width="5" height="5" fill="#000000"/><rect x="110" y="110" width="5" height="5" fill="#eb7308"/><rect x="115" y="110" width="5" height="5" fill="#000000"/><rect x="120" y="110" width="15" height="5" fill="#3d26a6"/><rect x="135" y="110" width="85" height="5" fill="#000000"/><rect x="220" y="110" width="5" height="5" fill="#292684"/><rect x="225" y="110" width="10" height="5" fill="#000000"/><rect x="235" y="110" width="5" height="5" fill="#292684"/><rect x="240" y="110" width="15" height="5" fill="#000000"/><rect x="255" y="110" width="5" height="5" fill="#292684"/><rect x="260" y="110" width="10" height="5" fill="#000000"/><rect x="270" y="110" width="5" height="5" fill="#292684"/><rect x="275" y="110" width="5" height="5" fill="#000000"/><rect x="280" y="110" width="5" height="5" fill="#292684"/><rect x="285" y="110" width="5" height="5" fill="#5728b7"/><rect x="290" y="110" width="5" height="5" fill="#3d26a6"/><rect x="295" y="110" width="5" height="5" fill="#000000"/><rect x="300" y="110" width="10" height="5" fill="#5728b7"/><rect x="310" y="110" width="5" height="5" fill="#3d26a6"/><rect x="315" y="110" width="10" height="5" fill="#292684"/><rect x="325" y="110" width="5" height="5" fill="#5728b7"/><rect x="330" y="110" width="15" height="5" fill="#3d26a6"/><rect x="345" y="110" width="10" height="5" fill="#292684"/></g><g fill="none" stroke="#000" stroke-linejoin="round" stroke-linecap="round" vector-effect="non-scaling-stroke"><path d="M54.2 8.5L82.3 8.5L82.3 8.1L82.9 8.8L85.0 9.1L87.5 9.4L87.9 9.5L89.1 9.2L92.7 10.6L93.0 11.0L93.5 11.1L94.0 11.4L95.1 12.2L95.4 13.9L95.0 14.9L94.4 15.4L95.1 15.8L96.5 15.3L98.3 15.0L98.5 14.2L98.8 13.9L101.0 13.5L102.0 12.7L102.8 12.5L106.0 12.5L106.7 12.1L107.3 11.2L108.3 10.1L109.3 10.2L109.7 10.5L109.7 11.8L110.5 12.5M36.5 -2.8L38.5 -2.5L40.0 -1.7L41.0 -2.1L42.0 -2.3L43.0 -1.5L44.0 -0.8L45.5 0.5L47.0 1.5L47.5 2.2L46.9 2.8M60.4 25.0L62.8 24.8L62.7 25.0L66.5 26.2L69.3 26.2L69.3 25.7L71.0 25.7L72.5 26.8L73.0 27.9L74.5 28.5L75.1 27.7L76.1 27.7L77.2 29.2L78.0 30.0L78.4 31.1L80.3 31.6M85.3 43.0L85.4 42.4L85.3 42.2L85.8 41.4L87.1 41.4L87.1 39.7L88.3 39.7L89.2 39.0M88.3 39.7L88.3 41.6L88.9 41.8M87.4 43.8L88.1 43.1L88.3 42.4L89.3 41.8M88.1 43.1L89.0 43.5L89.7 43.6L89.8 44.2M90.2 44.6L90.8 44.2L91.8 43.5L92.6 42.7L94.3 42.5M91.8 46.4L92.8 46.4L93.8 46.6M94.5 49.2L94.7 47.9M99.6 50.3L100.2 48.9M105.3 45.7L105.0 46.5L104.5 47.8L105.1 49.1L105.1 50.1L107.4 50.5L109.9 51.3L109.7 53.2L110.2 55.1L110.6 56.3M110.6 56.3L108.0 56.4L107.8 58.0L107.6 61.7M107.6 61.7L106.8 61.3L104.6 59.9L102.3 57.6M102.3 57.6L100.1 57.1L98.7 56.1M102.3 57.6L101.9 59.0L99.1 60.9L98.5 62.5L97.2 60.9M107.6 61.7L104.5 62.5L103.6 64.8L105.0 67.0L107.0 67.0L106.9 68.5L108.0 68.4M108.0 68.4L108.8 70.0L108.1 72.8L108.5 74.0L108.0 75.0L107.1 75.8M108.0 68.4L110.9 67.4L112.2 68.4L114.0 70.0L116.0 71.0L117.2 72.5L117.3 73.8L119.0 73.8L119.2 74.8L119.9 75.5L119.3 77.3M119.3 77.3L115.8 77.1L114.9 79.7M114.9 79.7L112.5 79.6L110.5 80.2M108.0 75.0L109.1 76.9L109.3 79.0L110.4 80.3M110.4 80.3L109.0 82.0L108.9 84.5L107.7 87.5L107.5 90.5L107.1 93.5L106.4 96.5L105.8 99.5L105.7 102.5L105.0 105.0L104.1 107.0L105.0 108.5L106.0 109.5L108.5 109.7M108.9 110.1L108.9 112.4M114.9 79.7L117.5 81.5L119.0 84.8L121.8 84.9L122.9 83.1M122.9 83.1L123.2 81.5L122.1 79.8L119.7 79.6L119.3 77.3M122.9 83.1L123.8 83.7L123.7 84.6L121.6 85.8L119.9 87.7M119.9 87.7L121.9 88.3L124.0 90.0L124.1 91.2M119.9 87.7L119.3 90.0L119.1 91.5M110.6 56.3L112.0 56.6L113.5 55.0L114.1 53.6L116.5 53.0L116.8 52.3M116.8 52.3L116.1 51.6L117.5 49.0M116.8 52.3L117.7 53.1L117.9 55.8L120.0 55.7L121.0 55.6M121.0 55.6L120.3 51.6M121.0 55.6L122.9 55.2M122.9 55.2L123.5 51.8M122.9 55.2L125.0 55.3L125.9 53.3M175.7 22.5L175.8 23.5L176.2 25.2L173.8 26.6L172.0 27.7L168.8 28.8L168.8 29.8M168.8 29.8L164.3 29.8M168.8 30.2L168.8 31.5L165.5 31.5L165.5 34.0L164.5 36.2L160.5 36.2M168.8 30.2L172.7 32.5M172.7 32.5L178.7 36.5L180.7 38.5L181.8 38.3M172.7 32.5L171.0 32.6L172.0 41.0L168.5 42.0L166.0 42.2M166.0 42.2L165.0 42.7L163.5 40.9L161.1 41.3M166.0 42.2L166.1 45.1M166.1 45.1L163.8 44.9L160.8 45.1M160.7 43.9L162.5 43.8L163.7 44.0L162.5 44.2L160.8 44.4M166.1 45.1L169.1 46.1L169.5 47.3L169.9 49.1M164.2 48.5L165.1 47.6L166.3 47.5L166.8 48.2L166.9 49.0L166.1 50.6M166.9 49.0L168.0 50.0L169.0 49.9L169.0 50.8L170.0 53.2M169.5 47.3L169.9 49.1L169.0 49.9M172.1 47.1L172.3 46.0L173.1 45.0L174.0 44.2L176.5 42.5L177.7 42.6M169.5 47.3L171.0 47.1L172.1 47.1M172.1 47.1L173.2 47.9L174.7 47.9M174.4 52.4L174.7 49.5L174.7 47.9M174.7 47.9L174.7 46.5L177.4 46.4L178.4 46.5M178.7 51.4L178.1 49.0L177.5 46.5M179.1 51.3L179.1 48.5L178.4 46.5M178.4 46.5L179.9 45.6L178.5 44.2L177.7 42.6M180.2 51.2L180.3 48.5L181.1 45.8M178.4 46.5L181.1 45.8M181.1 45.8L181.6 44.0L183.5 43.9L185.5 44.4L188.2 44.1L191.1 43.8M177.7 42.6L178.8 42.2L181.1 41.9L181.8 40.6L181.8 38.3M181.8 38.3L183.3 38.1L189.4 34.0M189.4 34.0L191.5 34.5L192.5 34.5M192.5 34.5L193.4 37.1L193.0 40.6L191.4 42.0L191.1 43.8M185.9 20.6L185.7 22.5L185.0 24.0L186.5 25.4L187.0 27.3M187.0 27.3L187.8 25.8L189.0 24.4M187.0 27.3L187.5 32.2L189.4 34.0M192.5 34.5L201.5 38.0M201.5 38.0L201.5 37.5L202.5 37.5L202.5 35.5M202.5 35.5L202.5 25.9M202.5 35.5L214.4 35.5M201.5 38.0L201.0 42.0L199.9 43.5L199.5 44.9L200.4 46.6M193.0 50.0L196.0 48.6L199.0 47.7L200.4 46.6M191.1 43.8L191.5 44.5L192.0 45.0L192.6 46.9L191.7 48.0L193.0 50.0M186.0 52.9L187.1 51.0L189.1 50.5L190.0 49.0L190.8 47.5L192.0 45.0M193.0 50.0L192.0 52.5L193.6 55.3M187.3 55.2L188.8 55.3L190.5 55.2L193.6 55.3M187.3 56.5L188.8 56.5L188.8 55.3M188.8 55.3L190.7 56.3L192.0 59.9L190.0 60.0L189.1 61.3M196.1 54.0L195.0 57.5L193.7 59.5L192.8 61.7L190.5 62.3L189.7 63.3M193.6 55.3L196.1 54.0L199.9 53.5L202.5 52.5L204.9 52.4M200.4 46.6L201.5 49.0L204.0 51.2L204.9 52.4M201.0 48.0L204.0 48.0L207.5 47.8L210.0 45.5L211.4 48.0M213.9 43.2L216.0 39.6M213.9 43.2L212.8 46.0L211.7 46.9L211.6 49.0L210.5 49.6L212.5 52.5M213.9 43.2L216.0 43.1L217.6 43.0L219.9 45.0M219.9 45.0L220.5 46.5L221.5 48.5L225.3 49.5L222.4 52.5L219.5 53.5L218.5 53.6M220.6 46.1L220.2 46.5M212.5 52.5L215.5 53.9L218.5 53.6M218.5 53.6L218.5 59.1M211.5 53.2L212.5 56.0L211.5 58.5M211.5 53.2L208.5 53.8L208.3 54.0M212.5 52.5L211.5 53.2M204.9 52.4L208.3 54.0M211.5 58.5L215.2 60.7L216.7 62.2M208.3 54.0L207.5 55.9L207.1 58.9M207.1 58.9L208.0 59.9L208.3 60.7L206.9 62.0M217.9 68.0L215.0 69.0L212.5 69.1M189.7 63.3L194.0 63.5L195.1 65.6L197.0 64.5L199.3 64.8L199.5 67.2L201.5 68.4M189.7 62.5L190.5 62.3M201.5 68.4L202.8 68.8L205.0 69.7L207.3 70.9L206.0 66.0L208.2 65.8M208.2 65.8L210.5 67.0L211.4 67.0M189.3 74.8L198.4 75.5L200.8 75.1M201.5 68.4L199.5 70.5L199.5 73.7L200.8 75.1M200.8 75.1L202.7 75.3L197.5 75.8L197.5 79.5L197.5 82.3M197.5 82.3L197.5 85.9L194.0 86.1M197.5 82.3L200.0 83.5L203.0 83.1L204.5 81.5L206.9 79.7M202.7 75.3L204.8 78.0L206.9 79.7M206.9 79.7L208.8 79.9M208.8 79.9L210.0 78.5L210.4 74.5L207.9 73.1M202.7 75.3L205.5 74.0L207.9 73.1M208.8 79.9L209.5 82.0L210.4 84.4M204.5 87.1L205.5 86.2L206.9 86.9L206.0 87.9L205.0 87.9L204.5 87.1M208.5 83.5L209.5 83.7L209.4 84.7L208.5 84.5L208.5 83.5M207.9 73.1L210.5 71.5L212.0 74.0L212.8 74.5L213.3 73.0L212.8 71.5L212.0 69.0L211.4 67.0M211.7 26.2L212.4 28.0M213.1 24.3L213.0 26.0L212.5 28.0M212.5 28.2L214.5 28.0L215.5 27.0L214.5 26.0L216.5 25.3M213.1 24.8L216.5 25.3M219.9 20.4L218.8 21.7L218.5 23.0L216.3 24.1L216.5 25.3M213.4 21.6L214.2 20.7L216.5 20.8L219.9 20.4M213.4 22.9L214.1 23.3L213.1 24.3M216.5 25.3L219.5 26.5L222.2 28.3L224.0 28.4M224.0 28.4L225.2 29.0L225.9 29.0M224.0 28.4L225.2 27.4L225.5 27.6M226.0 27.5L225.2 26.1L223.7 24.5L223.0 23.5L222.9 21.6L222.3 20.3M219.9 20.4L222.3 20.3M222.3 20.3L221.8 19.1L222.3 17.8M222.3 17.8L224.0 18.6L225.5 19.0L226.4 19.1M231.4 20.2L234.5 19.5L236.5 20.1L238.6 20.9M238.6 20.9L238.5 23.1L238.0 23.9L238.4 26.0L239.3 26.7M239.3 26.7L240.2 28.1L240.8 30.3L240.0 31.0L239.1 32.3M220.3 41.1L221.5 40.1L224.5 40.5L225.7 39.3L229.5 38.5M229.5 38.5L230.6 40.9M229.5 38.5L233.0 37.5L232.5 34.8M229.1 33.2L230.0 34.7L232.5 34.8M232.5 34.8L233.1 33.5L233.4 32.6L233.7 31.8M228.3 32.7L228.7 32.9M239.3 26.7L243.9 27.6L245.2 26.0L247.0 23.7L248.8 23.2L248.7 21.4L252.0 20.3M238.6 20.9L239.7 22.2L242.0 21.2L244.0 20.1L245.5 20.5L247.5 20.0L249.0 19.6L252.0 20.3M245.7 33.8L247.8 33.1L248.6 33.1L247.6 29.7L250.3 27.5L252.1 26.4L251.8 24.7L252.5 23.5L255.3 22.0M255.3 22.0L257.0 25.0L256.4 26.6L257.6 26.9L258.6 27.3M257.6 28.7L258.6 27.3L261.5 29.0L265.6 29.6M257.6 28.7L260.5 30.1L262.5 30.7L265.6 31.1L265.6 29.6M265.6 29.6L266.3 29.4L267.0 29.3L269.5 29.7L272.5 28.1L274.9 29.2M266.3 30.4L267.1 30.7L269.5 30.6L269.5 29.7M265.6 31.1L266.5 32.3L266.0 33.0L266.2 35.0M267.3 32.1L269.7 32.4L269.3 33.4L269.8 34.5L269.9 36.0M269.9 36.0L270.7 35.2L270.9 33.6L272.1 32.3L272.7 30.9L274.9 29.2M274.9 29.2L275.7 31.2L275.1 33.5L276.4 33.4L277.0 35.4L277.6 36.0M277.6 37.1L276.0 37.9L275.3 39.0L276.2 41.2L275.7 42.3L276.6 44.0L276.1 47.5M277.6 36.0L277.6 37.1M277.6 36.0L278.6 36.0L279.6 35.1L280.5 35.8M280.5 35.8L281.6 37.5L282.4 39.1L284.0 41.0L285.1 42.3L285.0 43.1M277.6 37.1L278.8 38.0L278.6 40.0L279.6 39.4L282.2 40.0L283.0 41.8L283.0 43.1M280.4 45.7L279.8 43.9L281.4 43.2L283.0 43.1L285.0 43.1L283.7 45.9L281.9 47.1M279.6 35.1L280.5 34.9L283.0 34.3L284.2 34.7L285.5 35.9M277.6 51.0L278.8 51.7L279.6 51.3M287.1 55.5L289.0 56.4L292.0 56.0L293.0 53.5L295.3 53.3M318.5 60.1L318.5 63.8L318.7 64.5L318.5 66.6M302.4 66.7L302.6 66.1M257.8 15.3L257.6 12.7L260.0 12.0L260.5 10.3L263.1 10.4L264.8 8.4M264.8 8.4L268.2 11.0L268.5 12.5L272.5 13.2L274.0 14.7L278.0 14.9L282.5 15.9L284.5 15.1L288.0 14.7L289.4 13.8L289.3 12.4L291.1 12.7L293.2 9.8L295.3 9.6L297.2 10.8L296.0 9.6L294.2 7.7M294.2 7.7L295.4 8.0L296.7 7.2L297.5 4.9L298.2 4.2L301.1 4.0L303.5 4.7L305.1 7.7L308.1 8.6L310.0 9.7L312.2 9.1L311.0 12.5L308.8 12.8L308.4 14.9M308.1 15.1L306.5 15.5L305.5 16.1L303.8 15.9L301.8 17.6M303.6 19.8L304.5 19.2L305.9 18.9M265.3 8.3L267.4 7.1L270.4 6.7L274.8 7.8L275.8 5.5L279.5 6.2L282.0 7.2L284.5 7.0L285.8 7.9L288.9 8.1L291.9 7.2L294.2 7.7M264.8 8.4L263.0 7.9L260.9 6.5L257.5 6.7L255.3 4.2L254.0 3.3L250.9 4.0L248.3 2.3L245.7 2.6L243.2 2.9L239.0 3.5L238.4 4.8L239.0 6.1L237.4 6.7L235.9 6.5L234.2 6.6L233.2 6.9L232.0 6.5L229.8 5.8L228.3 5.8L226.2 6.9L225.0 7.0L224.3 8.1L224.5 9.2L224.0 9.3L224.2 10.0L225.5 9.8L226.6 11.1M230.5 15.5L233.4 16.2L233.4 12.5L236.0 11.9L235.9 12.0M238.5 13.1L239.5 14.0L242.4 13.8L243.6 15.5L246.1 16.8L246.8 16.1L248.5 15.2L251.0 15.0L251.7 14.2L253.5 14.5L256.5 14.6L257.8 15.3M233.4 16.2L234.6 16.2L236.5 15.2L237.5 15.3L238.5 16.3L239.9 17.5L241.5 18.5L244.0 20.1M251.2 18.0L249.0 17.9L247.5 17.3L246.8 16.8L248.0 16.5L249.5 16.5L251.0 17.0L251.2 18.0L252.5 17.0L254.0 17.1L255.5 16.3L257.8 15.3M245.3 20.3L246.0 18.0L247.5 17.3M251.2 18.0L252.4 19.1L252.0 20.3M217.5 14.1L219.5 14.3L221.3 14.7L223.2 15.0L224.0 15.6L226.1 15.7M219.0 16.0L220.3 15.9L221.0 16.4L221.6 17.5L222.3 17.8M221.0 16.4L222.5 16.3L224.0 16.4L223.0 17.0L224.0 18.6M175.7 14.1L178.2 14.7L180.7 15.1M168.6 15.6L169.3 15.4L171.3 15.9L170.6 17.2L170.5 17.9L170.2 19.1L170.0 20.3M180.0 6.4L181.7 7.3L182.3 7.5L183.3 8.0L183.9 8.0L185.7 8.5L185.1 9.9L184.4 10.0L183.5 11.3L184.4 11.6L184.5 12.5L185.0 13.7M180.9 6.1L182.0 6.0L183.1 6.3L183.3 6.7M183.3 6.7L183.6 7.4L183.3 8.0M183.3 6.7L183.6 5.7L184.6 5.3L184.7 4.2M186.2 2.6L187.4 2.7M191.7 3.6L192.1 4.9L192.1 5.7L192.5 6.4M192.5 6.4L191.0 6.8L189.8 7.3L190.0 8.0L191.3 8.7M191.3 8.7L190.5 10.0L188.5 10.0L187.1 10.0M187.1 10.0L185.1 9.9M187.1 10.0L187.9 10.6L186.8 11.0L185.9 11.2L184.5 11.6M187.9 10.6L189.8 10.4L191.2 11.0M191.2 11.0L193.5 10.8L193.6 10.0L194.5 9.5L194.4 8.9L192.5 8.5L191.3 8.7M191.2 11.0L191.2 11.9M192.5 6.4L193.8 6.8L194.5 7.2L196.3 8.0M194.4 8.9L196.3 8.0M196.3 8.0L197.5 8.3L200.1 8.4M200.1 8.4L201.6 6.9L201.1 6.0L201.0 4.8L201.0 3.6L200.2 3.2L197.1 3.1M200.2 3.2L200.3 2.6L198.8 2.3M194.5 9.5L196.3 9.7L197.8 9.2L199.6 9.1M199.6 9.1L200.4 9.5L199.2 11.0L197.8 11.4M197.8 11.4L196.3 11.6L195.0 11.5L194.1 11.0L193.5 10.8M191.2 11.9L192.7 12.0L193.2 11.3L194.1 11.0M200.4 9.5L202.4 9.8L204.1 9.3L205.7 10.5L205.7 12.0L207.1 12.3M204.1 9.3L205.5 9.2L206.7 10.0L207.5 11.0L205.7 12.0M200.2 13.3L202.5 13.8L205.3 13.5L206.1 13.8M197.8 11.4L198.9 12.3L200.2 13.3M200.2 13.3L199.9 14.5L200.5 15.1L200.4 16.2M197.7 17.9L198.1 16.4L200.4 16.2L202.0 15.9L203.6 15.8L203.9 16.2L203.6 16.7M203.6 15.8L204.6 15.4L205.5 15.5M193.2 12.3L194.5 12.3L196.5 12.6L197.1 13.5L196.8 14.0L196.0 15.0M193.2 12.3L193.6 13.3L195.1 14.5L196.0 15.0M196.8 14.0L197.8 14.7L198.5 15.3L198.1 16.4L196.9 15.6M196.5 12.6L197.8 11.4M198.5 15.3L199.9 15.2L200.5 15.1M215.7 10.4L217.5 9.5L217.5 7.9L215.5 7.5L213.0 7.1L211.5 5.5L209.3 5.4M209.3 5.4L208.0 6.0L204.5 5.9L201.6 5.9M209.3 5.4L209.1 4.7L210.0 3.7L208.3 1.9L205.7 1.4M201.0 3.6L203.2 3.2L204.3 2.2L205.7 1.4M198.5 1.4L201.5 1.2L204.0 1.8M205.7 1.4L205.3 0.2L204.9 -0.1M205.2 -0.3L205.5 -1.5" stroke-width="1.9" vector-effect="non-scaling-stroke"/><path d="M40.5 -1.5L41.5 -0.8L43.0 0.0L44.0 1.0L45.5 2.5L47.0 3.0L47.5 3.7L49.0 5.0L50.0 6.5L51.5 7.3L52.5 8.0L52.8 9.1L53.3 10.5L53.5 11.5L53.6 12.5L53.3 14.0L53.0 15.0L53.3 16.5L53.7 18.0L54.5 19.5L55.1 20.0L55.6 21.0L56.6 22.2L56.9 22.9L58.5 23.5L59.2 23.8L60.2 24.5L60.5 25.1L61.0 26.0L61.7 27.1L62.5 28.0L63.3 29.0L63.0 29.9L64.5 30.7L65.3 31.7L65.6 33.0L67.2 34.3L68.0 34.3L67.5 33.3L66.5 32.0L65.3 29.8L64.5 28.5L63.0 27.0L62.7 25.8L64.0 26.2L65.0 27.5L66.5 29.5L68.0 31.0L69.0 32.3L70.5 33.5L71.7 35.0L72.2 36.5L71.9 37.2L73.0 38.5L74.0 39.2L75.5 39.6L77.5 40.5L79.0 41.2L81.0 41.8L82.5 41.3L83.5 41.4L85.0 42.7L86.0 43.5L87.5 43.7L88.5 44.1L89.7 44.3L90.2 44.6L91.0 45.5L91.8 46.5L91.9 47.3L92.3 47.6L92.8 47.9L93.7 48.5L94.2 49.2L95.0 49.3L96.0 49.7L97.2 50.1L97.5 49.3L98.2 48.5L99.0 49.0L99.5 50.0L100.0 50.5L100.1 51.5L100.1 53.3L99.7 54.5L98.7 55.8L97.6 56.6L97.4 57.8L96.6 58.7L97.2 60.1L96.9 61.0L96.3 61.7L96.3 63.5L97.7 64.7L98.7 66.3L100.0 68.5L101.1 71.0L102.5 73.0L104.5 74.2L106.3 75.2L107.2 76.0L107.3 78.0L107.2 81.0L106.9 84.0L106.1 87.0L105.9 89.5L105.8 91.0L105.1 93.0L104.3 94.5L103.9 96.0L104.2 97.5L103.7 99.0L104.1 100.0L103.9 101.0L103.0 102.0L102.9 103.5L102.2 105.0L102.3 107.0L102.7 108.5L103.2 110.0L105.0 111.1L106.5 111.5L108.0 112.2L109.7 112.5L111.0 112.6L112.2 112.3L111.2 111.9L109.2 110.8L109.0 109.9L108.3 109.0L108.9 108.0L109.7 106.5L111.5 105.3L111.8 104.5L110.2 103.5L110.0 102.8L112.0 102.5L112.5 101.0L113.3 99.8L112.5 98.7L114.5 98.5L115.3 97.0L116.0 96.5L118.5 96.1L119.9 95.5L120.7 94.4L120.8 93.8L120.2 93.0L119.2 92.1L119.0 91.5L119.7 91.9L121.3 92.4L122.5 92.4L123.7 91.9L124.1 91.2L125.1 89.9L126.5 88.1L127.5 86.5L128.8 85.5L129.0 83.7L128.9 83.1L130.0 82.3L132.0 81.3L133.0 80.7L134.5 80.5L135.6 80.1L136.5 79.1L137.3 77.9L137.8 76.5L138.3 75.1L138.5 73.0L138.6 71.0L139.5 70.2L140.3 68.5L141.5 67.3L142.5 65.7L142.6 64.5L142.3 63.0L141.0 62.5L139.7 61.9L138.5 60.8L137.0 60.3L135.5 60.2L133.5 60.0L132.5 59.0L131.0 58.4L129.2 58.4L128.0 57.7L127.0 56.9L126.6 55.7L126.2 53.9L125.8 53.3L125.0 52.5L123.7 51.7L122.5 51.5L120.7 51.5L119.7 50.9L119.0 50.3L117.7 49.2L116.9 48.9L116.0 47.7L115.0 46.9L113.2 46.9L111.5 46.9L110.0 47.0L109.2 46.6L108.0 46.0L107.3 45.5L107.2 46.1L106.2 46.5L105.8 47.0L105.9 48.3L105.5 48.0L105.9 46.7L105.6 45.9L105.2 45.7L104.2 46.2L103.2 46.5L102.0 47.0L101.8 48.1L100.7 48.9L100.1 48.8L99.4 48.3L98.0 47.9L97.0 48.5L96.0 48.7L95.3 48.3L94.1 47.1L93.8 46.5L93.8 45.0L94.1 43.5L94.2 42.5L93.0 41.7L91.7 41.6L89.9 41.7L89.2 41.8L88.7 41.6L89.2 41.0L89.3 40.0L89.5 39.0L90.0 38.2L90.1 37.0L90.7 36.2L89.9 36.0L88.7 36.1L87.2 36.5L87.0 37.5L86.8 38.2L86.1 38.7L85.0 38.9L83.5 39.3L82.7 39.0L81.9 38.7L81.1 38.1L80.6 37.0L80.1 35.9L79.7 34.8L79.8 33.3L80.3 31.6L80.2 30.3L80.4 29.6L81.1 29.1L82.5 28.3L83.5 27.8L84.5 27.8L86.0 28.1L87.3 28.4L88.2 28.2L87.9 27.3L89.0 27.1L90.0 27.2L91.0 27.1L92.1 27.7L93.1 27.5L94.0 28.0L94.7 29.0L94.8 30.0L95.7 31.2L96.3 32.2L97.1 32.3L97.4 31.5L97.4 30.5L96.9 29.1L96.5 27.9L96.1 26.9L96.2 26.0L96.7 25.3L97.6 24.8L98.5 24.0L99.6 23.6L100.5 22.9L101.3 22.4L101.9 21.9L101.6 20.6L101.2 19.7L101.2 18.7L101.0 18.2L101.9 18.1L102.4 18.7L102.6 18.4L103.4 17.7L103.5 17.0L104.0 16.9L105.5 16.6L105.7 16.2L106.8 16.0L107.5 15.8L107.0 15.2L106.7 14.7L107.2 13.9L108.0 13.6L109.3 13.1L110.5 12.7L111.2 12.3L112.5 12.0L113.2 12.2L112.7 12.5L111.4 13.0L112.0 13.9L113.0 13.5L114.0 12.9L115.5 12.5L116.5 12.2L116.2 11.9L115.0 11.8L113.7 11.5L112.9 11.3L112.7 10.5L112.2 9.8L112.7 9.2L111.7 8.5L110.8 8.4L109.5 8.9L108.0 9.7L109.0 8.8L110.5 8.1L111.2 7.3L113.5 7.3L116.0 7.3L118.0 7.0L120.0 6.1L121.5 5.5L121.7 4.5L121.5 3.7L120.0 3.0L118.2 2.2L117.0 1.7L116.0 1.1L115.7 0.0L115.5 -1.0M27.5 -3.5L26.0 -2.0L25.0 -1.5L23.7 -0.8L22.0 0.0L20.5 0.8L19.0 1.5L17.5 1.9L16.0 2.3L14.7 2.6L13.0 3.0L13.0 2.5L14.5 1.9L16.5 1.3L19.0 0.2L20.0 -1.1M11.0 3.9L9.5 4.2L7.5 4.7L5.0 5.3L2.5 5.7L0.0 5.9L-2.4 6.0M350.0 4.5L351.5 5.1L353.5 5.6L355.5 5.7L357.4 5.9M118.2 9.9L119.5 9.9L121.5 9.9L122.5 10.6L124.0 10.9L124.8 10.2L124.5 9.4L123.8 8.9L123.5 8.2L122.0 7.7L121.7 7.0L121.5 6.2L122.0 5.9L120.5 6.5L119.7 7.6L119.0 8.6L118.2 9.4L118.2 9.9M82.7 -1.5L84.5 -0.5L85.0 0.5L87.0 0.3L89.0 1.0L90.5 1.7L92.5 2.3L94.5 2.4L95.2 3.0L95.3 4.5L96.0 5.2L97.0 6.2L98.2 5.9L98.7 5.0L98.5 3.5L99.5 2.5L100.5 1.8L100.9 1.0L100.5 0.0L100.0 -1.0M92.6 35.6L93.5 34.9L95.0 34.5L96.5 34.4L97.5 34.6L99.0 35.2L100.2 35.9L101.5 36.4L103.3 37.2L102.0 37.6L100.0 37.6L100.3 37.0L99.3 36.6L98.0 35.9L96.5 35.5L95.0 35.3L94.0 35.6L92.6 35.6M103.1 39.0L104.1 37.8L105.1 37.6L106.7 37.6L108.0 38.2L109.1 38.9L108.0 39.2L106.7 39.3L106.0 39.8L105.0 39.3L103.1 39.2L103.1 39.0M99.2 39.1L101.2 39.3L100.7 39.6L99.2 39.3L99.2 39.1M110.3 39.0L111.9 39.1L111.8 39.5L110.3 39.5L110.3 39.0M99.5 31.0L100.3 31.2L99.7 32.5L99.3 33.0L99.5 31.0M49.2 6.7L50.5 7.0L52.0 7.5L53.5 8.3L54.1 9.1L52.8 8.9L51.5 8.3L50.0 7.5L49.2 6.7M45.0 3.5L45.8 4.0L46.5 5.3L45.7 5.0L45.0 4.3L45.0 3.5M21.5 37.4L22.4 38.2L21.9 38.6L21.5 37.8L21.5 37.4M17.7 35.3L19.9 36.0L20.6 36.4L21.2 36.6M85.4 10.8L87.0 10.9L89.0 10.3L89.7 10.1L91.0 11.0L92.9 11.0L92.8 10.2L92.5 9.6L91.0 8.8L89.2 8.6L87.9 9.5L85.4 10.8M89.7 15.9L90.7 15.7L91.2 14.2L91.2 13.0L92.0 12.2L92.8 11.7L91.9 11.6L90.7 11.7L89.9 13.0L89.6 14.5L89.7 15.9M92.8 11.7L94.0 11.5L95.8 11.6L96.9 11.7L97.4 12.5L96.7 12.9L95.8 12.6L95.8 14.2L95.1 14.5L94.8 13.6L94.1 13.4L94.1 12.6L92.8 11.7M94.1 15.8L96.0 16.0L98.2 14.9L98.5 14.6L97.0 14.9L95.0 15.5L94.1 15.8M97.7 14.2L99.5 14.2L101.2 14.0L101.1 13.3L100.0 13.5L98.3 13.8L97.7 14.2M80.7 7.0L81.1 6.0L80.0 5.0L79.0 3.9L79.5 3.7L80.5 4.8L81.3 6.0L80.7 7.0M108.9 110.1L109.2 112.0L111.0 112.6L112.2 112.3L110.0 111.0L108.9 110.1M116.2 109.0L118.0 108.8L119.7 109.1L118.5 109.7L117.0 109.6L116.2 109.0M115.6 46.7L116.6 46.7L116.5 47.4L115.6 47.4L115.6 46.7M188.0 -0.2L187.5 0.4L187.0 0.5L186.1 0.4L185.6 0.9L185.7 2.0L186.1 2.5L186.3 3.1L186.1 3.6L184.6 3.9L183.5 4.1L182.4 4.5L182.0 5.2L181.2 5.9L180.7 6.1L180.0 6.4L179.1 6.6L179.0 7.3L177.7 7.8L176.4 8.1L176.2 7.8L175.6 7.8L175.9 8.8L174.9 9.0L174.0 8.7L172.8 9.0L173.2 9.7L174.9 10.1L175.3 10.4L176.2 11.3L176.3 12.0L176.2 13.2L176.0 14.0L175.0 14.1L173.7 14.0L171.8 13.9L170.0 13.8L169.2 14.0L168.2 14.5L168.6 15.5L168.8 16.5L168.5 17.5L168.1 18.3L168.2 18.8L168.7 19.1L168.7 20.0L168.6 20.5L170.0 20.3L171.1 20.7L171.5 21.2L172.0 21.5L173.1 20.8L175.4 20.8L176.0 20.0L176.8 19.9L177.2 19.1L177.7 18.7L177.2 18.0L177.6 17.4L178.4 16.5L179.7 16.2L180.7 15.6L180.7 15.1L180.5 14.4L181.3 14.0L182.3 14.1L183.5 14.4L184.5 14.0L185.2 13.7L186.2 13.1L187.3 13.4L187.8 14.0L188.2 14.6L188.7 15.1L189.7 15.7L190.6 16.3L191.5 16.7L192.1 17.0L192.5 17.3L193.2 17.6L193.5 18.0L193.2 18.6L193.2 19.5L193.6 19.5L194.1 19.1L194.6 18.6L194.7 18.1L194.0 17.8L194.5 17.0L195.5 16.9L196.0 17.4L195.8 16.9L195.0 16.6L193.7 16.1L193.4 15.6L192.2 15.4L191.3 14.6L191.1 14.0L189.9 13.3L189.8 12.5L190.0 12.0L190.6 11.8L191.2 11.9L191.1 12.4L191.8 12.2L192.4 12.6L192.9 13.3L193.9 14.0L195.0 14.5L196.0 15.1L196.9 15.6L196.9 16.3L197.0 17.1L197.4 17.6L197.8 18.2L198.4 18.8L198.6 19.2L199.1 19.9L199.2 20.6L200.0 21.0L200.3 20.7L200.7 21.1L200.4 20.0L201.0 19.5L201.5 19.3L201.0 19.0L200.3 18.7L200.4 18.1L200.1 17.4L200.3 17.0L201.3 17.5L200.9 17.2L201.5 16.8L202.5 16.6L203.5 16.7L203.9 17.3L203.6 18.0L204.4 18.0L203.8 19.2L204.7 19.6L204.8 20.2L205.1 20.8L205.8 20.7L207.2 21.4L208.1 20.8L209.2 20.9L210.1 21.4L211.2 21.3L212.2 20.7L213.1 20.9L213.7 20.8L213.3 21.6L213.4 22.2L213.0 23.1L212.6 24.3L212.4 25.0L212.0 25.9L211.7 26.2L210.6 26.4L209.7 26.2L208.5 25.9L207.2 26.3L206.4 26.6L205.0 26.1L202.7 25.9L201.5 25.5L200.7 25.2L200.4 24.8L199.1 24.6L197.6 25.3L197.5 26.5L196.6 27.2L195.6 26.7L193.2 26.1L192.7 25.2L191.4 24.8L190.2 24.7L189.0 24.4L188.4 23.8L187.8 23.7L187.7 23.2L188.3 22.7L188.6 22.3L188.1 21.6L188.0 20.8L188.6 20.4L187.7 20.3L187.0 20.2L185.9 20.6L184.8 20.4L183.8 20.6L182.8 20.9L180.7 20.7L179.0 20.9L178.0 21.2L176.3 21.8L175.3 22.3L174.5 22.1L172.9 22.2L172.2 21.6L171.3 21.6L171.0 22.4L170.7 23.4L169.9 23.8L168.8 24.3L168.2 24.9L167.7 26.3L167.8 27.2L167.1 28.4L166.1 29.3L164.7 29.8L163.7 30.9L163.0 32.0L162.7 33.0L161.6 33.8L161.2 34.8L160.6 35.9L160.4 36.6L161.0 37.8L161.2 38.4L161.4 39.4L161.0 40.9L160.6 42.0L160.1 42.8L160.5 43.3L160.7 44.3L160.8 45.1L161.4 45.6L162.1 46.1L162.5 46.7L162.9 47.0L163.8 48.0L164.3 48.6L164.6 49.7L165.4 50.2L166.1 50.7L167.2 51.5L168.1 52.2L169.0 52.9L170.0 53.2L171.0 52.9L172.2 52.4L173.5 52.3L174.5 52.4L175.5 52.8L176.5 52.4L177.5 51.9L178.5 51.6L179.5 51.2L180.5 51.1L181.8 51.2L182.5 51.9L183.1 52.6L183.8 53.2L184.5 53.1L185.5 53.0L186.0 52.9L186.7 53.5L187.2 53.8L187.4 54.5L187.3 55.3L187.1 56.5L186.8 57.4L186.7 58.4L187.3 59.7L188.0 60.5L188.6 61.2L189.3 61.8L189.8 62.6L189.8 63.6L190.4 64.5L190.9 65.9L190.8 66.7L191.1 68.0L191.2 68.8L191.1 69.7L190.2 70.8L189.8 71.6L189.5 73.0L189.3 74.3L189.2 75.3L189.9 76.3L190.5 77.4L191.0 78.4L191.8 79.6L191.9 80.4L192.1 82.1L192.5 83.9L192.7 84.6L193.1 85.3L193.9 86.1L194.3 86.5L194.9 88.1L195.7 89.2L195.8 90.1L195.8 90.8L196.0 91.6L197.1 92.3L198.2 91.9L199.0 91.8L200.1 91.5L201.1 91.3L202.3 91.7L203.3 91.2L204.0 91.1L204.9 90.7L205.7 90.1L206.6 89.2L207.5 88.5L208.4 87.5L209.2 86.3L209.9 85.6L210.1 84.5L210.4 83.7L210.3 83.1L211.2 82.5L212.5 82.0L213.0 81.0L212.9 79.6L212.6 78.8L212.3 77.5L212.2 77.0L212.7 76.3L214.1 75.5L214.9 75.1L216.0 74.6L216.9 74.2L217.6 73.5L218.1 72.8L218.2 72.1L218.0 71.4L218.1 70.1L217.9 68.7L217.8 67.8L217.2 66.6L216.9 65.5L216.8 64.5L216.3 64.0L216.4 63.1L216.7 62.2L217.1 61.8L217.6 60.8L217.7 60.3L218.1 60.0L218.5 59.5L219.1 59.2L219.9 58.3L220.6 57.5L221.2 56.7L222.5 55.8L223.7 54.7L224.7 53.6L225.2 53.3L226.1 52.2L226.9 50.7L227.3 49.6L227.8 48.5L228.2 47.5L228.5 46.9L228.7 45.7L227.7 45.8L226.8 46.2L225.9 46.2L224.5 46.6L223.1 46.8L222.1 47.1L221.2 46.6L221.0 46.2L220.3 45.8L220.7 45.6L220.8 45.1L220.2 44.8L219.8 44.5L219.1 44.0L218.7 43.5L218.3 43.2L217.2 42.4L216.8 41.6L216.4 41.1L215.9 39.8L215.4 39.1L214.9 38.6L214.6 37.4L214.7 36.5L214.4 35.5L213.8 34.6L213.0 34.4L213.1 33.6L212.6 32.7L212.1 31.7L211.6 30.9L211.3 30.3L210.6 29.1L210.1 27.6L209.9 27.6L210.4 28.7L210.8 29.3L211.5 29.6L211.9 29.2L212.1 28.3L212.4 28.0L212.2 28.6L212.5 29.2L213.0 29.9L213.8 31.0L214.6 32.5L215.0 33.2L215.6 33.6L216.4 35.1L216.7 36.3L217.1 36.9L217.8 37.5L218.3 38.2L218.7 39.1L219.1 39.8L219.9 40.9L220.2 41.9L220.4 42.6L220.6 43.6L220.8 44.2L221.0 44.9L221.7 44.9L222.6 44.6L223.4 44.1L225.0 43.6L226.2 43.5L227.1 42.8L228.1 42.4L229.0 42.1L229.7 41.6L229.9 41.1L231.2 40.7L232.8 40.2L233.3 39.5L234.0 39.2L234.3 38.8L235.3 38.4L235.3 37.3L236.0 37.0L236.4 36.4L237.3 35.2L236.8 34.6L236.2 33.9L234.9 33.6L234.3 33.3L233.9 32.6L233.8 31.8L233.9 31.1L233.5 31.4L233.0 32.0L232.5 32.5L231.7 33.2L230.9 33.4L230.1 33.3L229.3 33.5L228.8 33.0L229.0 32.3L229.1 31.7L228.8 31.4L228.5 31.7L228.3 32.7L228.0 32.2L227.6 31.6L227.0 30.8L226.3 29.8L225.9 28.9L225.5 28.5L225.5 28.0L225.7 27.9L226.1 27.6L227.1 27.5L227.6 27.4L228.4 28.4L229.0 29.6L230.0 29.9L231.0 30.7L232.2 31.0L233.2 30.6L234.0 30.4L234.9 31.8L236.0 31.9L237.1 32.1L239.0 32.4L240.4 32.3L242.0 32.3L243.9 32.1L244.6 32.8L244.9 33.6L245.7 33.8L246.3 34.6L247.1 35.0L248.0 34.5L247.8 35.3L248.3 36.2L249.5 36.5L250.1 36.1L250.4 37.1L250.3 38.3L250.6 39.6L251.0 41.5L252.0 42.9L252.4 44.5L252.9 45.7L253.3 46.4L253.8 47.6L254.1 48.6L255.0 49.5L255.8 48.6L256.7 48.3L256.4 48.0L256.8 47.2L257.4 47.1L257.4 45.8L257.8 44.5L257.8 42.4L258.5 41.7L259.2 41.2L259.7 40.9L260.7 39.8L261.6 39.2L262.5 38.0L263.5 37.5L264.4 36.7L264.5 36.0L265.7 35.8L266.4 35.8L267.2 35.5L267.8 35.7L268.1 35.1L268.9 34.7L269.3 35.3L269.8 36.0L270.1 36.3L270.4 37.0L271.1 37.8L271.8 39.3L272.1 40.5L271.7 41.5L272.3 41.7L272.9 41.8L274.0 41.1L274.7 40.6L275.1 41.4L275.3 42.7L275.7 43.8L276.0 44.6L276.1 45.7L276.0 46.8L276.0 47.6L275.8 48.7L275.8 49.7L276.4 49.9L277.0 50.6L277.6 51.0L277.8 52.2L278.0 53.3L278.3 54.0L278.8 54.6L279.3 55.3L280.0 55.7L280.9 56.1L281.3 56.2L281.8 56.1L281.7 55.6L281.3 54.9L281.0 52.9L280.9 52.6L280.6 52.0L279.9 51.5L279.3 51.1L278.6 50.6L277.9 50.3L277.6 49.2L277.4 48.3L276.7 48.3L276.7 47.2L277.0 46.5L277.4 45.4L277.5 44.8L277.6 44.1L278.1 44.0L278.4 44.9L279.2 44.9L280.1 45.3L280.1 46.1L280.6 46.4L281.0 46.9L281.8 47.0L282.4 47.7L282.3 48.3L282.3 48.9L282.7 48.9L283.9 48.0L284.2 47.1L284.9 47.1L285.9 46.5L286.5 46.1L286.8 45.3L286.7 44.1L286.3 42.5L285.8 41.5L284.9 40.8L283.9 39.6L283.2 38.7L283.4 37.7L284.2 36.8L284.9 36.2L285.5 36.0L286.0 35.8L287.0 35.9L287.3 36.3L287.1 37.1L287.6 37.1L287.9 36.6L288.5 36.1L289.5 35.7L290.7 35.4L291.3 35.0L291.7 35.3L292.3 34.9L293.4 34.7L294.2 34.4L295.2 33.6L295.9 32.9L296.6 32.3L297.1 31.7L297.0 30.9L297.5 30.7L297.9 30.0L298.5 29.4L299.1 28.6L299.2 27.8L299.5 27.5L298.8 27.1L299.4 26.7L299.0 26.0L299.4 25.8L298.5 25.1L298.2 24.0L297.7 23.2L296.7 22.7L297.1 22.0L298.1 21.4L298.6 20.8L300.0 20.6L300.0 20.1L298.6 19.8L298.3 19.7L297.4 20.0L296.4 20.1L296.4 19.6L295.5 19.3L295.0 18.7L295.4 18.2L296.0 18.3L297.1 17.6L298.0 17.1L299.1 16.6L299.8 17.0L298.9 17.7L298.6 18.5L299.2 18.3L299.7 17.9L300.7 17.7L301.8 17.6L302.8 18.0L302.7 18.8L302.3 19.5L302.7 19.8L303.6 19.8L304.1 20.3L303.6 20.8L304.1 21.9L303.7 22.9L304.7 22.9L305.4 22.7L306.2 22.5L306.8 22.2L307.0 21.1L306.8 20.0L306.1 19.2L305.4 18.5L305.0 18.0L305.8 17.5L306.7 16.9L307.2 16.6L307.2 15.9L308.1 15.1L308.6 14.6L309.8 14.2L311.0 14.6L312.4 14.0L313.3 13.3L314.4 12.2L315.4 11.2L315.9 10.2L316.7 9.2L317.7 8.7L318.1 7.3L318.0 6.2L318.9 5.2L318.7 4.5L317.6 4.0L316.3 3.5L315.2 3.7L314.5 3.2L314.2 2.5L315.4 1.5L316.0 0.7L317.4 -0.2L318.5 -1.1M333.3 -1.5L333.4 0.0L333.1 1.3L333.4 2.7L333.9 4.2L334.2 6.3L335.4 5.5L336.1 4.6L337.3 4.2L337.6 3.3L339.5 2.6L339.3 1.9L340.0 1.3L340.7 1.3L340.3 0.1L340.7 -0.4L342.0 -1.1M319.4 11.0L319.6 11.5L321.0 11.0L320.8 10.0L320.1 9.4L320.5 8.2L322.2 8.7L321.1 7.0L320.7 5.8L321.0 4.2L320.2 3.2L319.9 4.0L319.7 5.1L319.2 6.5L319.6 8.3L319.4 10.0L319.4 11.0M317.5 16.0L318.7 15.7L319.5 15.0L320.8 15.5L322.1 14.5L323.1 14.2L322.5 13.4L321.0 13.2L319.3 12.1L319.1 13.1L318.9 14.2L317.9 14.2L317.3 15.0L317.5 16.0M318.8 16.1L319.0 17.1L319.5 18.0L319.1 18.6L318.5 19.2L318.4 20.4L318.2 21.2L318.2 21.9L317.5 22.5L317.2 22.0L316.6 22.3L316.3 22.9L315.7 22.9L314.7 22.9L314.4 23.2L313.7 23.6L313.3 24.0L312.6 23.6L312.9 22.9L311.8 22.8L310.8 23.1L309.9 23.3L308.9 23.5L308.4 23.5L309.0 22.9L310.1 22.1L310.8 22.0L312.1 21.9L313.0 21.9L313.6 21.6L314.3 20.4L314.9 20.6L315.7 20.2L316.3 19.6L316.9 19.3L317.4 18.1L317.5 17.3L317.4 16.8L317.9 16.3L318.8 16.1M308.4 23.6L309.1 23.9L309.5 24.6L308.9 26.1L308.2 26.5L307.7 26.1L307.8 25.2L307.2 24.4L307.5 23.9L308.4 23.6M310.0 24.3L310.8 24.1L311.7 24.2L312.2 23.7L311.8 23.2L311.0 23.1L310.1 23.6L310.0 24.3M297.6 34.5L298.2 35.5L298.8 34.5L299.4 32.9L299.1 32.2L298.5 32.4L297.7 33.7L297.6 34.5M286.1 38.3L287.0 39.3L288.0 38.9L288.5 37.8L288.1 37.4L286.8 37.5L286.1 38.3M298.1 39.0L299.7 39.0L299.9 40.3L299.1 41.6L299.1 42.5L299.5 43.5L300.6 43.8L301.5 43.9L301.6 44.9L300.9 44.5L300.1 43.6L299.1 43.7L298.2 43.3L298.1 42.7L297.4 42.1L297.4 41.2L297.9 41.0L297.9 39.9L298.1 39.0M299.5 50.4L300.4 50.0L301.1 49.7L301.8 49.3L302.7 48.5L303.0 47.7L303.7 48.2L304.1 50.2L303.7 51.2L302.9 51.9L301.7 51.3L301.1 50.1L300.4 50.5L299.5 50.4M301.8 45.0L302.7 45.0L303.3 46.5L302.5 47.4L301.8 47.2L301.9 46.0L301.8 45.0M299.4 45.6L300.3 45.8L300.7 47.0L300.1 48.2L299.9 46.9L299.4 46.9L299.4 45.6M294.7 49.1L295.7 48.3L296.6 47.3L297.1 46.2L296.8 47.2L296.0 48.2L295.0 49.2L294.7 49.1M286.5 56.0L287.1 55.5L287.9 55.8L288.7 55.6L288.9 54.8L290.5 54.3L291.3 53.3L292.1 52.6L293.0 52.2L293.7 51.3L294.3 50.6L295.1 51.1L295.8 51.8L296.7 52.1L295.9 52.6L295.4 53.4L295.2 54.3L295.6 55.3L296.4 56.4L295.4 56.7L295.0 57.4L295.0 58.3L294.1 59.0L294.0 60.0L293.6 61.3L292.9 61.3L292.1 61.1L291.3 60.9L290.5 60.6L289.6 60.9L289.2 60.5L288.5 60.5L287.7 60.4L287.6 59.1L287.1 58.5L286.6 58.0L286.5 57.1L286.5 56.0M272.8 52.0L273.4 52.1L275.0 52.3L275.9 53.2L277.2 54.3L278.1 55.4L279.2 55.8L280.0 56.9L281.3 57.4L280.9 58.2L281.9 58.6L282.4 59.8L283.1 59.9L283.6 60.6L283.3 61.8L283.3 63.3L282.2 63.4L281.4 62.5L280.1 61.7L279.7 61.1L278.9 60.3L278.4 59.6L277.6 58.2L276.8 57.3L276.3 56.1L275.5 55.2L274.7 54.2L273.9 53.6L272.9 52.6L272.8 52.0M282.7 64.3L283.5 63.4L284.4 63.5L285.8 63.7L286.2 64.3L288.0 64.4L289.1 64.1L290.1 64.4L290.3 65.1L292.0 65.3L292.1 66.2L291.0 65.8L290.1 65.9L288.5 65.7L287.0 65.3L285.8 65.3L284.0 64.9L282.9 64.4L282.7 64.3M292.1 65.6L293.2 65.9L293.6 65.9L294.1 66.4L292.8 66.3L292.1 65.6M294.3 66.3L295.3 65.6L296.5 66.0L295.8 66.4L294.3 66.3M297.4 66.1L298.9 65.9L300.5 65.8L299.8 66.3L298.5 66.4L297.4 66.1M301.1 67.8L301.9 66.9L302.7 66.5L304.8 65.9L304.1 66.4L302.6 67.1L301.5 67.7L301.1 67.8M296.9 63.0L297.9 63.1L297.9 62.2L297.8 60.5L298.5 60.3L299.0 61.8L300.1 62.9L300.5 61.8L299.6 61.0L298.8 59.4L300.0 58.7L300.8 58.4L299.4 58.4L298.7 58.7L298.1 58.9L297.6 58.2L297.6 57.1L298.4 56.2L299.5 56.5L300.8 56.6L301.8 56.5L302.6 55.9L302.0 57.1L300.7 57.1L299.2 57.0L298.4 57.2L297.5 57.7L297.3 57.3L297.1 58.8L296.4 59.8L296.3 60.5L297.0 61.0L296.9 63.0M305.2 55.7L305.6 56.2L305.3 57.2L306.1 58.3L305.2 57.9L305.0 56.7L305.2 55.7M305.5 60.7L307.5 60.9L308.3 61.4L306.5 61.1L305.5 60.7M303.5 60.6L304.7 60.7L304.4 61.3L303.5 61.1L303.5 60.6M308.4 58.9L309.4 58.2L310.4 58.0L311.5 58.4L311.7 59.8L312.5 60.8L313.4 60.3L313.9 59.7L314.9 59.1L315.9 59.2L317.4 59.9L318.5 60.1L320.2 60.8L322.1 61.4L323.3 62.5L324.1 63.5L325.1 63.6L325.3 64.2L324.6 64.9L325.6 65.5L326.2 66.6L327.2 67.1L327.8 67.8L326.9 67.9L325.1 67.6L324.1 66.4L323.5 65.6L322.2 65.1L321.4 65.4L320.8 65.9L320.8 66.5L320.1 66.8L318.5 66.6L317.4 65.7L316.4 65.9L315.6 65.8L316.1 64.9L315.9 64.4L315.4 62.9L313.8 62.2L312.7 62.0L311.2 61.5L310.5 61.6L310.2 60.8L309.4 60.3L310.1 59.8L311.1 60.0L311.2 59.7L309.8 59.5L309.1 59.0L308.4 58.9M325.8 63.1L327.0 63.1L328.0 63.0L329.0 62.4L329.7 61.7L329.4 62.9L328.5 63.6L327.1 63.8L325.8 63.1M328.3 60.1L329.5 60.7L330.5 61.8L330.2 62.1L329.0 61.0L328.3 60.1M334.0 64.1L335.0 64.8L334.4 65.1L334.0 64.1M336.5 65.4L338.3 66.4L337.7 66.9L336.5 65.4M337.2 66.7L338.4 67.2L338.3 67.5L337.2 67.1L337.2 66.7M338.8 66.9L339.2 66.9L339.8 68.2L339.4 68.3L338.8 66.9M344.0 72.1L344.7 73.0L344.3 73.2L344.0 72.1M344.7 73.6L345.3 73.9L344.9 74.1L344.7 73.6M341.5 77.7L343.0 78.7L344.5 79.8L344.0 79.8L342.5 78.9L341.5 78.0L341.5 77.7M354.8 75.0L355.9 74.8L356.1 75.6L354.9 75.7L354.8 75.0M356.0 73.9L357.4 73.7L356.9 74.3L356.0 74.3L356.0 73.9M290.9 79.8L291.2 81.5L290.9 82.1L291.7 83.9L291.3 84.3L292.1 86.0L292.5 87.1L292.6 89.0L293.2 90.0L293.1 91.0L292.5 91.1L292.5 91.8L293.5 92.4L295.1 92.6L296.4 91.9L297.4 91.4L298.8 91.3L300.1 91.4L301.1 91.4L301.7 90.5L302.6 90.1L303.7 89.7L304.9 89.5L306.4 89.2L308.1 89.1L309.0 89.0L310.1 89.5L311.1 89.7L311.8 90.3L312.7 92.0L313.4 92.4L313.6 91.7L314.5 91.1L315.3 90.2L315.4 91.2L315.1 92.1L315.3 92.6L315.9 92.8L316.0 92.1L316.6 93.1L317.1 93.6L317.3 94.7L318.1 95.5L319.1 95.9L320.2 96.0L321.0 96.3L322.0 95.6L322.5 95.4L323.0 96.1L323.8 96.5L324.8 95.8L325.7 95.3L327.0 95.3L327.5 94.8L327.6 93.7L328.2 92.7L328.6 91.5L329.1 90.5L330.0 89.7L330.5 88.5L330.6 87.5L331.1 86.2L331.0 85.5L330.6 84.7L330.7 83.5L330.4 82.8L329.6 82.0L328.9 81.2L328.3 80.5L328.0 80.0L327.2 79.9L326.7 78.7L326.0 77.9L325.1 77.0L324.0 76.5L323.5 75.5L323.4 74.5L322.8 73.5L322.8 72.5L322.2 72.0L321.3 71.6L320.9 70.3L320.4 69.3L320.0 68.2L319.6 68.8L319.3 70.0L319.1 71.1L319.0 73.0L318.6 74.2L318.1 75.0L317.0 75.0L316.3 74.3L315.1 73.5L314.0 73.1L313.2 72.7L313.0 72.2L313.7 70.9L314.1 70.1L314.4 69.7L314.1 69.4L313.2 69.7L312.4 69.5L311.6 69.4L310.1 69.1L309.7 68.9L309.3 68.8L308.8 69.7L308.0 70.0L307.7 70.8L307.4 71.5L307.0 72.2L306.7 72.5L305.8 72.4L305.2 71.8L304.5 71.3L303.7 71.6L303.0 72.1L302.7 72.9L301.9 73.8L301.2 74.1L301.1 75.1L299.8 75.3L299.7 76.0L298.6 76.9L297.4 77.5L296.3 77.8L294.9 78.2L294.2 78.1L293.0 79.0L292.1 79.3L291.7 80.0L291.2 79.8L290.9 79.8M322.1 98.2L323.5 98.6L324.2 98.6L325.8 98.4L325.8 99.6L325.4 100.5L324.5 101.0L323.5 101.0L322.7 99.7L322.2 98.7L322.1 98.2M350.2 91.9L351.0 92.5L351.8 93.1L352.4 94.4L353.1 94.6L353.4 95.1L354.7 95.5L356.0 95.2L355.8 96.1L355.4 96.7L354.4 97.1L353.9 98.1L352.7 99.1L352.1 98.8L352.7 97.9L351.8 97.3L351.3 96.7L352.1 96.3L352.3 95.3L352.1 94.5L351.4 93.8L350.5 92.8L350.2 91.9M350.2 98.0L351.4 98.4L351.8 99.1L351.1 100.2L350.3 101.0L349.7 101.4L348.7 102.0L348.1 103.4L346.8 104.1L345.8 104.1L344.2 103.7L344.0 103.3L344.6 102.6L345.8 101.6L347.2 101.0L348.0 100.4L348.9 99.4L349.6 98.4L350.2 98.0M226.8 69.5L227.3 70.4L227.9 72.7L227.7 73.5L227.3 74.3L227.0 75.2L226.5 77.1L226.0 78.0L225.4 79.9L225.0 81.6L224.6 82.4L222.9 83.1L222.3 82.8L221.5 82.4L221.2 81.1L220.8 80.3L221.0 78.8L221.9 77.6L222.0 76.9L221.5 74.9L221.9 73.7L223.0 73.5L223.8 73.3L225.2 72.1L225.5 71.1L226.3 70.6L226.8 69.5M257.3 50.6L257.4 49.2L257.6 47.7L258.3 48.2L258.8 49.0L259.3 50.0L259.1 51.0L258.1 51.6L257.6 51.3L257.3 50.6M171.8 7.4L173.3 7.1L174.5 6.8L176.0 6.8L177.7 6.7L178.9 6.3L178.3 5.9L179.2 4.8L178.8 4.6L177.8 4.5L177.6 3.9L177.1 3.1L176.3 2.9L175.9 1.9L175.0 1.5L174.5 1.4L174.9 1.2L175.4 0.6L175.7 -0.1L174.2 -0.2L173.5 -0.1L171.7 -0.4L172.0 0.2L171.7 0.8L172.0 1.3L171.3 1.9L172.0 2.1L172.7 2.4L172.4 2.7L173.0 2.8L174.1 2.6L174.1 3.2L174.6 3.5L174.5 4.2L173.8 4.2L172.9 4.2L173.3 4.6L172.7 4.9L173.4 5.2L172.6 5.6L172.3 5.8L173.3 5.9L174.3 6.1L174.0 6.3L173.0 6.4L172.3 6.8L171.8 7.4M171.5 5.3L171.4 4.3L171.3 3.5L172.0 3.2L171.7 2.6L171.3 2.3L170.1 2.2L169.2 2.4L169.0 3.0L167.5 3.3L167.7 4.0L168.4 4.4L167.6 5.0L167.2 5.6L167.9 6.0L169.2 5.7L170.3 5.4L171.1 5.3L171.5 5.3M185.9 18.5L186.6 18.3L187.2 18.2L187.3 16.8L186.7 16.3L185.8 16.5L186.0 17.3L185.9 18.5M186.1 15.8L186.8 16.1L187.0 15.2L186.9 14.5L186.2 14.9L186.1 15.8M189.9 19.7L190.7 20.0L191.9 20.7L192.6 20.8L192.8 20.0L193.1 19.2L191.9 19.4L190.8 19.3L189.9 19.7M201.0 22.2L202.0 22.1L203.3 22.2L203.8 22.4L202.5 22.6L201.1 22.3L201.0 22.2M209.8 22.5L210.8 22.2L212.1 21.8L211.4 22.5L210.5 22.9L209.8 22.5M188.4 1.5L190.0 1.4L189.8 2.1L188.7 2.3L188.4 1.5M206.5 16.3L207.8 16.3L208.8 16.4L209.7 15.8L211.0 15.5L212.6 15.5L213.0 15.9L214.1 16.2L215.9 16.6L217.0 16.4L218.0 16.5L219.0 16.0L219.1 14.9L218.2 14.4L217.2 13.9L216.1 13.2L215.0 12.8L214.1 12.3L215.0 12.1L215.8 11.3L216.8 10.3L215.7 10.4L214.4 10.7L213.0 11.1L212.4 11.7L212.8 12.2L214.0 12.1L213.4 12.5L212.6 12.7L211.8 13.0L211.0 12.9L211.1 12.3L210.1 12.1L211.1 11.6L209.9 11.2L209.1 10.9L208.3 10.9L207.7 11.7L207.1 12.1L207.1 12.7L206.2 13.2L206.1 13.9L205.5 14.3L205.2 14.9L205.5 15.5L206.3 16.0L206.5 16.3M203.7 16.9L205.0 16.6L206.5 16.4L207.0 16.8L205.5 17.1L204.2 17.2L203.7 16.9M224.2 12.7L225.0 14.5L226.0 15.7L227.0 17.1L226.7 18.6L226.4 19.1L226.5 19.9L227.7 20.3L229.0 20.7L231.4 20.5L231.3 18.6L230.5 18.0L230.7 16.7L232.2 16.6L230.3 15.5L230.2 14.7L228.8 14.3L228.0 13.0L228.8 12.3L230.5 12.2L230.5 10.7L228.5 10.5L226.7 11.1L226.0 11.7L225.1 11.9L224.2 12.7M235.9 12.0L237.0 11.2L238.5 10.9L239.3 11.7L238.0 12.9L236.8 13.6L235.9 13.0L235.9 12.0M251.5 11.1L253.0 10.9L254.7 11.1L256.7 10.9L256.4 11.5L254.5 11.6L253.0 11.7L251.7 12.5L251.5 11.1M281.3 5.9L283.0 5.8L285.0 4.9L286.8 3.6L287.4 1.8L286.7 1.9L285.5 3.6L284.0 4.5L282.0 5.4L281.3 5.9M209.1 58.5L210.0 57.3L211.4 57.2L211.7 58.0L211.5 59.0L210.7 60.0L209.7 60.0L209.1 59.3L209.1 58.5M206.7 60.8L206.9 62.5L207.1 64.0L208.0 65.3L208.5 66.1L208.3 65.0L207.7 63.5L207.3 62.0L206.7 60.8M211.4 67.0L211.8 68.5L212.1 70.0L212.7 71.8L212.2 71.5L211.6 69.5L211.4 67.0M207.5 -3.0L208.5 -4.0L210.0 -3.5L209.0 -2.7L207.5 -3.0M246.5 106.7L248.0 106.6L247.5 107.2L246.5 106.7M139.5 111.5L141.2 111.7L141.5 112.1L139.5 111.5M103.5 99.3L104.0 99.4L103.9 100.8L103.3 100.7L103.5 99.3M161.7 29.3L162.1 29.6L161.9 29.8L161.7 29.3M160.6 29.0L161.3 29.0L161.0 29.4L160.6 29.0M153.8 42.3L154.1 42.5L153.8 42.6L153.8 42.3M230.8 44.8L232.0 44.9L231.5 45.2L230.8 44.8M232.8 78.4L233.3 78.6L233.0 78.8L232.8 78.4M270.2 44.0L270.5 45.0L270.2 46.0L270.0 45.0L270.2 44.0M282.6 59.1L284.3 60.0L283.7 60.5L283.0 59.8L282.6 59.1M19.2 35.9L19.8 36.2L19.4 36.2L19.2 35.9M4.7 71.0L5.6 71.3L5.1 71.3L4.7 71.0M86.0 57.7L86.5 57.9L86.2 58.5L86.0 57.7M112.7 25.2L112.8 25.1L112.7 25.2M52.5 1.3L53.7 0.8L54.9 1.3L53.7 1.8L52.5 1.3M61.2 2.1L62.1 1.9L63.0 2.1L62.1 2.4L61.2 2.1M71.9 2.4L72.5 2.1L73.1 2.4L72.5 2.7L71.9 2.4M74.8 0.3L75.2 -0.3L75.6 0.3L75.2 0.9L74.8 0.3M78.3 0.5L78.9 0.0L79.5 0.5L78.9 1.0L78.3 0.5M70.3 0.2L70.9 -0.2L71.5 0.2L70.9 0.6L70.3 0.2M68.5 1.5L69.0 1.2L69.5 1.5L69.0 1.8L68.5 1.5M77.0 4.9L77.3 4.0L77.6 4.9L77.3 5.8L77.0 4.9M78.6 6.5L78.9 5.9L79.2 6.5L78.9 7.1L78.6 6.5M77.0 4.2L77.4 4.0L77.8 4.2L77.4 4.4L77.0 4.2M88.6 7.7L89.0 7.2L89.4 7.7L89.0 8.2L88.6 7.7M82.4 8.1L82.9 7.8L83.4 8.1L82.9 8.4L82.4 8.1M84.7 7.2L85.3 7.0L85.9 7.2L85.3 7.4L84.7 7.2M103.5 6.5L103.9 5.9L104.3 6.5L103.9 7.1L103.5 6.5M105.2 8.9L105.5 8.7L105.8 8.9L105.5 9.1L105.2 8.9M108.5 6.1L108.9 5.7L109.3 6.1L108.9 6.5L108.5 6.1M107.5 3.2L108.0 2.8L108.5 3.2L108.0 3.6L107.5 3.2M112.0 3.5L113.0 3.0L114.0 3.5L113.0 4.0L112.0 3.5M99.5 3.8L100.5 3.6L101.5 3.8L100.5 4.0L99.5 3.8M101.3 3.9L101.9 3.7L102.5 3.9L101.9 4.1L101.3 3.9M116.8 3.8L118.0 3.5L119.2 3.8L118.0 4.1L116.8 3.8M64.5 0.9L65.0 0.6L65.5 0.9L65.0 1.2L64.5 0.9M58.1 1.0L58.5 0.7L58.9 1.0L58.5 1.3L58.1 1.0M67.0 1.7L67.5 1.4L68.0 1.7L67.5 2.0L67.0 1.7M81.0 1.2L81.5 0.9L82.0 1.2L81.5 1.5L81.0 1.2M83.4 2.3L84.0 2.0L84.6 2.3L84.0 2.6L83.4 2.3M87.0 4.0L87.5 3.7L88.0 4.0L87.5 4.3L87.0 4.0M91.5 5.2L92.0 4.9L92.5 5.2L92.0 5.5L91.5 5.2M95.6 7.7L96.0 7.4L96.4 7.7L96.0 8.0L95.6 7.7M97.7 10.0L98.0 9.7L98.3 10.0L98.0 10.3L97.7 10.0M55.1 5.2L55.5 4.9L55.9 5.2L55.5 5.5L55.1 5.2M49.5 2.3L50.0 2.0L50.5 2.3L50.0 2.6L49.5 2.3M106.0 4.7L106.5 4.4L107.0 4.7L106.5 5.0L106.0 4.7M110.5 4.6L111.0 4.3L111.5 4.6L111.0 4.9L110.5 4.6M114.1 1.7L114.5 1.4L114.9 1.7L114.5 2.0L114.1 1.7M70.9 7.9L71.2 7.7L71.5 7.9L71.2 8.1L70.9 7.9M97.7 1.0L98.5 1.3L98.6 1.7L97.9 1.5L97.7 1.0M188.0 -0.2L188.1 0.2L187.8 0.6L187.8 1.0L188.4 1.1L188.0 1.4L187.7 1.7L187.2 2.0L187.4 2.5L187.5 2.8L187.4 3.1L188.4 3.2L188.5 3.5L189.3 3.3L190.0 3.0L190.7 3.2L191.3 3.4L191.8 3.6L193.0 3.3L194.0 3.0L195.2 2.7L196.1 2.8L196.1 3.1L197.1 3.1L197.5 2.6L198.6 2.5L198.7 1.8L198.5 1.0L199.0 0.1L200.0 -0.2L200.8 0.5L201.8 0.3L201.9 -0.4M187.3 2.1L187.8 1.9L188.3 2.2L188.1 2.5L187.5 2.4L187.3 2.1M188.5 2.7L189.4 2.7L189.7 2.9L189.0 2.9L188.5 2.7M192.2 2.3L192.6 2.4L192.3 2.5L192.2 2.3M189.3 -0.2L189.7 0.3L190.1 0.9L190.4 1.6L190.3 2.1L191.7 2.1L191.9 1.6L193.3 1.4L193.9 1.0L194.1 0.3L194.3 -0.3M193.9 1.3L194.5 0.2L194.4 0.7L193.9 1.3M195.6 0.4L196.4 -0.1L196.3 0.4L195.8 0.6L195.6 0.4M199.3 -1.0L200.0 -0.7L200.7 -1.0L199.7 -0.4L199.3 -1.0M179.9 18.0L180.7 17.6L180.9 17.9L180.2 18.2L179.9 18.0M191.7 21.5L192.1 21.6L191.9 21.7L191.7 21.5M200.3 18.6L201.6 18.9L202.1 19.5L200.9 19.2L200.3 18.6M203.4 18.2L204.1 18.2L203.7 18.5L203.4 18.2M205.2 21.3L205.7 21.1L205.4 21.6L205.2 21.3M203.4 19.0L203.7 18.9L203.6 19.3L203.4 19.0M191.9 12.5L192.3 13.0L192.7 13.3L192.4 13.4L191.9 12.9L191.9 12.5M198.6 19.2L199.4 19.2L200.4 19.5L200.7 19.8M232.8 30.9L233.7 30.6L233.3 30.8L232.8 30.9M227.9 31.4L228.1 31.3L228.1 31.7L227.9 31.4M212.9 25.7L213.1 25.7L212.9 26.3L212.9 25.7M253.7 15.1L255.0 14.8L255.9 15.1L254.5 15.3L253.7 15.1M222.7 19.5L223.3 19.6L223.0 20.3L222.7 19.5M220.0 18.8L221.1 18.6L220.7 19.2L220.0 18.8M222.5 17.0L223.0 17.1L222.8 17.3L222.5 17.0M281.3 44.4L282.0 44.6L281.7 44.9L281.3 44.4M277.1 20.6L278.2 20.5L277.9 20.9L277.1 20.6M293.5 28.1L294.0 28.3L293.8 28.7L293.5 28.1M290.0 28.3L290.5 28.1L290.3 28.6L290.0 28.3M297.4 26.3L298.0 26.1L297.9 26.6L297.4 26.3M309.6 12.5L310.3 12.2L310.1 12.9L309.6 12.5M191.0 44.3L192.1 43.9L191.9 44.7L191.0 44.3M177.2 50.0L177.5 48.9L176.6 48.6L177.7 50.5L177.2 50.0M204.5 74.7L206.3 73.9L206.0 74.3L204.5 74.7M213.3 53.0L213.9 53.9L213.5 54.9L213.3 53.0M214.5 45.3L215.0 45.3L214.8 45.9L214.5 45.3M205.9 66.1L206.6 66.3L206.2 66.9L205.9 66.1M206.5 59.2L206.8 59.5L206.5 60.0L206.5 59.2M208.0 55.3L208.8 55.9L208.1 56.2L208.0 55.3M207.1 68.5L207.8 68.8L207.4 69.1L207.1 68.5M107.6 72.8L108.4 73.1L108.8 73.9L107.9 73.5L107.6 72.8M105.6 46.7L106.4 47.0L106.0 48.4L105.5 48.0L105.6 46.7M91.5 45.5L92.3 45.6L92.6 46.2L91.9 46.3L91.5 45.5M64.6 15.9L65.3 16.1L65.3 16.7L64.7 16.4L64.6 15.9M96.5 30.3L96.9 30.5L96.7 30.8L96.5 30.3M102.9 102.5L103.5 103.1L102.7 103.5L102.9 102.5M102.1 105.0L102.7 106.0L102.0 107.0L102.1 105.0M102.2 107.5L102.9 108.5L102.4 109.5L102.2 107.5M104.0 110.3L105.5 111.0L104.7 111.8L103.5 111.0L104.0 110.3M47.5 2.7L48.0 4.0L48.8 4.7L48.0 3.3L47.5 2.7M41.5 -0.2L42.5 0.4L43.0 1.2L42.0 0.2L41.5 -0.2M43.5 0.7L44.5 1.5L45.0 2.2L44.0 1.3L43.5 0.7M23.0 -0.5L25.0 -0.3L24.0 0.5L22.7 0.2L23.0 -0.5M113.1 10.9L114.5 11.0L115.5 11.1L114.3 11.4L113.1 10.9M116.0 11.9L117.5 11.3L116.9 10.5L116.0 11.3L116.0 11.9M113.0 7.7L115.5 8.0L115.8 8.4L113.5 8.2L113.0 7.7M103.5 16.9L105.5 16.5L105.6 16.4L103.9 16.6L103.5 16.9M99.3 32.3L99.8 32.9L99.5 33.5L99.1 33.0L99.3 32.3M100.5 32.0L101.3 32.6L102.0 33.3L101.5 33.2L100.5 32.0M297.8 44.0L299.0 44.3L298.7 45.3L297.9 44.9L297.8 44.0M300.0 46.7L301.0 47.0L300.5 48.4L300.0 46.7M301.1 46.3L301.6 47.0L300.9 48.0L301.1 46.3M301.3 47.4L302.1 47.5L301.7 47.9L301.3 47.4M301.8 46.0L302.5 46.2L302.6 47.5L301.9 47.0L301.8 46.0M297.5 51.5L299.0 51.5L298.5 52.0L297.5 51.5M293.5 65.8L294.2 65.9L293.9 66.4L293.5 65.8M296.5 67.2L298.3 67.5L297.7 67.8L296.5 67.2M301.5 65.8L302.6 65.7L302.0 66.0L301.5 65.8M303.3 65.2L304.3 65.1L303.7 65.5L303.3 65.2M308.5 65.0L309.2 64.7L308.8 65.5L308.5 65.0M311.7 63.0L312.3 63.3L312.0 64.3L311.7 63.0M310.2 63.0L310.7 62.8L310.4 63.5L310.2 63.0M304.8 59.0L305.5 59.0L305.2 59.3L304.8 59.0M301.8 59.3L303.5 59.3L303.0 59.6L301.8 59.3M300.5 58.7L301.1 58.8L300.8 59.2L300.5 58.7M299.8 62.1L300.7 62.3L300.3 63.1L299.8 62.1M297.9 63.3L298.1 64.0L297.9 64.3L297.9 63.3M290.2 64.4L291.6 64.4L291.3 64.7L290.2 64.4M285.0 60.1L285.7 60.2L285.4 60.7L285.0 60.1M281.7 56.5L282.1 56.7L281.9 57.1L281.7 56.5M274.8 56.0L275.4 56.5L275.1 56.9L274.8 56.0M276.1 58.7L276.7 59.2L276.3 59.3L276.1 58.7M277.0 59.7L277.7 60.6L277.2 60.7L277.0 59.7M279.6 62.8L279.9 62.9L279.7 63.0L279.6 62.8M271.3 50.3L271.4 50.7L271.2 50.5L271.3 50.3M332.1 62.7L333.4 64.0L332.7 64.4L332.1 62.7M334.0 64.1L334.9 64.8L334.6 65.0L334.0 64.1M337.1 66.8L338.3 67.3L338.0 67.4L337.1 66.8M324.1 59.5L324.9 59.6L324.5 59.8L324.1 59.5M327.5 59.9L328.1 60.0L327.8 60.2L327.5 59.9M327.9 66.8L328.6 67.1L328.2 67.4L327.9 66.8M330.0 68.1L330.9 68.8L330.5 68.9L330.0 68.1M345.7 75.0L346.1 75.3L345.8 75.4L345.7 75.0M346.5 76.1L346.9 76.4L346.6 76.6L346.5 76.1M345.3 78.8L345.7 79.0L345.4 79.2L345.3 78.8M314.0 93.2L315.1 93.1L315.4 93.5L314.2 93.5L314.0 93.2M330.5 82.2L330.8 82.8L330.6 83.3L330.5 82.2M307.5 68.9L309.0 68.8L308.5 69.3L307.5 69.2L307.5 68.9M313.8 71.2L314.4 71.3L314.1 71.7L313.8 71.2M345.0 104.3L345.7 104.4L345.3 104.8L345.0 104.3M0.7 101.2L1.3 101.3L1.0 101.6L0.7 101.2M216.7 63.2L217.0 63.5L216.8 63.9L216.7 63.2M217.1 62.4L217.3 62.6L217.2 62.9L217.1 62.4M220.8 68.9L221.0 69.4L220.8 69.3L220.8 68.9M232.7 78.5L233.3 78.6L233.0 78.9L232.7 78.5M185.9 53.7L186.4 53.8L186.1 54.3L185.9 53.7M184.0 57.1L184.3 57.3L184.1 57.5L184.0 57.1M161.3 46.1L161.9 46.3L161.6 46.6L161.3 46.1M160.2 24.7L160.8 24.8L160.5 24.9L160.2 24.7M148.7 18.9L150.4 18.8L152.3 19.7L151.7 19.8L148.7 18.9M163.0 29.0L163.7 28.8L163.3 29.4L163.0 29.0M152.2 40.4L152.6 40.5L152.4 40.7L152.2 40.4M257.4 47.9L257.9 47.7L257.6 48.1L257.4 47.9M250.9 53.3L251.1 53.2L251.0 53.6L250.9 53.3M250.1 46.9L250.3 46.8L250.2 47.0L250.1 46.9M297.0 33.9L297.2 33.8L297.1 34.0L297.0 33.9M305.1 31.4L305.8 30.7L305.4 30.9L305.1 31.4M306.8 29.4L307.2 29.0L307.0 29.3L306.8 29.4M316.9 23.4L317.1 23.3L317.0 23.6L316.9 23.4M303.7 24.1L304.4 24.0L304.1 24.3L303.7 24.1M306.7 22.9L307.0 22.8L306.8 23.3L306.7 22.9M315.7 19.4L316.0 19.2L315.9 19.7L315.7 19.4M323.0 13.9L324.2 13.1L325.4 12.3L326.3 12.0L325.0 12.5L323.0 13.9M327.0 11.8L328.1 11.2L329.3 10.5L330.0 10.0L331.5 9.0L332.5 8.0L333.5 7.2M343.2 2.2L343.8 2.6L343.5 2.3L343.2 2.2M7.2 0.3L7.5 0.4L7.3 0.4L7.2 0.3M315.0 2.5L315.7 2.4L315.4 2.8L315.0 2.5" stroke-width="2.35" vector-effect="non-scaling-stroke"/></g></g></g><g stroke="#000" stroke-width="1.7" stroke-dasharray="1.9 2.25" fill="none"><line x1="50.8" y1="234.97" x2="517.6" y2="234.97"/><line x1="50.8" y1="267.86" x2="517.6" y2="267.86"/><line x1="50.8" y1="300.75" x2="517.6" y2="300.75"/><line x1="50.8" y1="333.64" x2="517.6" y2="333.64"/><line x1="50.8" y1="366.53" x2="517.6" y2="366.53"/><line x1="86.96" y1="376.40" x2="86.96" y2="225.10"/><line x1="152.71" y1="376.40" x2="152.71" y2="225.10"/><line x1="218.45" y1="376.40" x2="218.45" y2="225.10"/><line x1="284.20" y1="376.40" x2="284.20" y2="225.10"/><line x1="349.95" y1="376.40" x2="349.95" y2="225.10"/><line x1="415.69" y1="376.40" x2="415.69" y2="225.10"/><line x1="481.44" y1="376.40" x2="481.44" y2="225.10"/></g><rect x="50.8" y="225.1" width="466.8" height="151.29999999999998" fill="none" stroke="#000" stroke-width="1.6"/><text x="47.6" y="240.0" text-anchor="end" class="lab">50°N</text><text x="47.6" y="272.9" text-anchor="end" class="lab">25°N</text><text x="47.6" y="305.8" text-anchor="end" class="lab">0°</text><text x="47.6" y="338.6" text-anchor="end" class="lab">25°S</text><text x="47.6" y="371.5" text-anchor="end" class="lab">50°S</text><text x="87.7" y="394" text-anchor="middle" class="lab">150°W</text><text x="153.4" y="394" text-anchor="middle" class="lab">100°W</text><text x="219.2" y="394" text-anchor="middle" class="lab">50°W</text><text x="284.9" y="394" text-anchor="middle" class="lab">0°</text><text x="350.6" y="394" text-anchor="middle" class="lab">50°E</text><text x="416.4" y="394" text-anchor="middle" class="lab">100°E</text><text x="482.1" y="394" text-anchor="middle" class="lab">150°E</text><g shape-rendering="crispEdges"><rect x="29.70" y="412.3" width="31.70" height="9.60" fill="#ffffff"/><rect x="61.10" y="412.3" width="31.70" height="9.60" fill="#f1f1bb"/><rect x="92.50" y="412.3" width="31.70" height="9.60" fill="#e6e379"/><rect x="123.90" y="412.3" width="31.70" height="9.60" fill="#e6cf42"/><rect x="155.30" y="412.3" width="31.70" height="9.60" fill="#e6b716"/><rect x="186.70" y="412.3" width="31.70" height="9.60" fill="#e69509"/><rect x="218.10" y="412.3" width="31.70" height="9.60" fill="#eb7308"/><rect x="249.50" y="412.3" width="31.70" height="9.60" fill="#f8511c"/><rect x="280.90" y="412.3" width="31.70" height="9.60" fill="#e43c3e"/><rect x="312.30" y="412.3" width="31.70" height="9.60" fill="#ad366e"/><rect x="343.70" y="412.3" width="31.70" height="9.60" fill="#802f95"/><rect x="375.10" y="412.3" width="31.70" height="9.60" fill="#5728b7"/><rect x="406.50" y="412.3" width="31.70" height="9.60" fill="#3d26a6"/><rect x="437.90" y="412.3" width="31.70" height="9.60" fill="#292684"/><rect x="469.30" y="412.3" width="31.70" height="9.60" fill="#141444"/><rect x="500.70" y="412.3" width="31.70" height="9.60" fill="#000000"/></g><line x1="92.50" y1="412.3" x2="92.50" y2="421.9" stroke="#000" stroke-width="1"/><line x1="155.30" y1="412.3" x2="155.30" y2="421.9" stroke="#000" stroke-width="1"/><line x1="218.10" y1="412.3" x2="218.10" y2="421.9" stroke="#000" stroke-width="1"/><line x1="280.90" y1="412.3" x2="280.90" y2="421.9" stroke="#000" stroke-width="1"/><line x1="343.70" y1="412.3" x2="343.70" y2="421.9" stroke="#000" stroke-width="1"/><line x1="406.50" y1="412.3" x2="406.50" y2="421.9" stroke="#000" stroke-width="1"/><line x1="469.30" y1="412.3" x2="469.30" y2="421.9" stroke="#000" stroke-width="1"/><rect x="29.7" y="412.3" width="502.40" height="9.60" fill="none" stroke="#000" stroke-width="1.6"/><text x="29.7" y="449" text-anchor="middle" class="cb">0</text><text x="92.5" y="449" text-anchor="middle" class="cb">2</text><text x="155.3" y="449" text-anchor="middle" class="cb">4</text><text x="218.1" y="449" text-anchor="middle" class="cb">6</text><text x="280.9" y="449" text-anchor="middle" class="cb">8</text><text x="343.7" y="449" text-anchor="middle" class="cb">10</text><text x="406.5" y="449" text-anchor="middle" class="cb">12</text><text x="469.3" y="449" text-anchor="middle" class="cb">14</text><text x="532.1" y="449" text-anchor="middle" class="cb">16</text></svg></body></html>
